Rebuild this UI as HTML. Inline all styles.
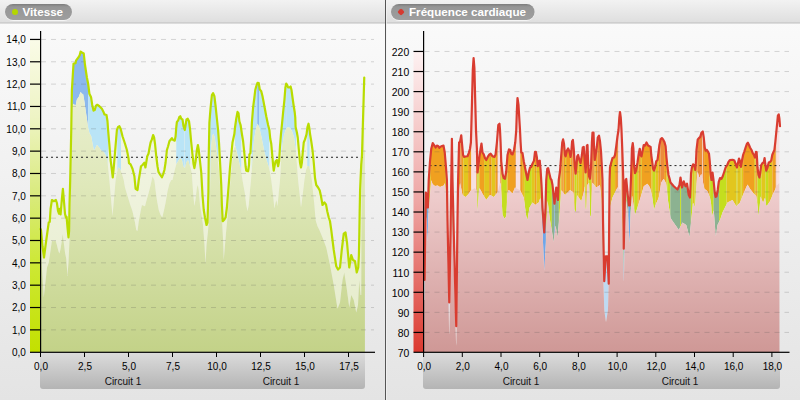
<!DOCTYPE html>
<html><head><meta charset="utf-8"><title>chart</title>
<style>html,body{margin:0;padding:0;background:#e8e8e8;}body{width:800px;height:400px;overflow:hidden;position:relative;font-family:"Liberation Sans",sans-serif;}</style>
</head><body>
<svg width="800" height="400" viewBox="0 0 800 400" style="position:absolute;left:0;top:0">
<defs>
<linearGradient id="bg" x1="0" y1="0" x2="0" y2="1"><stop offset="0" stop-color="#fbfbfb"/><stop offset="1" stop-color="#e4e4e4"/></linearGradient>
<linearGradient id="hdr" x1="0" y1="0" x2="0" y2="1"><stop offset="0" stop-color="#f2f2f2"/><stop offset="1" stop-color="#dedede"/></linearGradient>
<linearGradient id="pill" x1="0" y1="0" x2="0" y2="1"><stop offset="0" stop-color="#7c7c7c"/><stop offset="0.18" stop-color="#969696"/><stop offset="1" stop-color="#9e9e9e"/></linearGradient>
<linearGradient id="lenv" gradientUnits="userSpaceOnUse" x1="0" y1="50" x2="0" y2="352"><stop offset="0" stop-color="#eef2d9"/><stop offset="0.45" stop-color="#dfe8ba"/><stop offset="1" stop-color="#c3d288"/></linearGradient>
<linearGradient id="lbetween" gradientUnits="userSpaceOnUse" x1="0" y1="50" x2="0" y2="352"><stop offset="0" stop-color="#f6f8ea"/><stop offset="0.5" stop-color="#eef2dc"/><stop offset="1" stop-color="#e4ebc8"/></linearGradient>
<linearGradient id="lband" gradientUnits="userSpaceOnUse" x1="0" y1="39" x2="0" y2="352"><stop offset="0" stop-color="#fafbe8"/><stop offset="0.25" stop-color="#eef4c4"/><stop offset="0.5" stop-color="#d9ea7c"/><stop offset="0.72" stop-color="#cde834"/><stop offset="1" stop-color="#c3e000"/></linearGradient>
<linearGradient id="renv" gradientUnits="userSpaceOnUse" x1="0" y1="100" x2="0" y2="352"><stop offset="0" stop-color="#f7e3e3"/><stop offset="0.4" stop-color="#edcaca"/><stop offset="1" stop-color="#cf9896"/></linearGradient>
<linearGradient id="rbetween" gradientUnits="userSpaceOnUse" x1="0" y1="50" x2="0" y2="352"><stop offset="0" stop-color="#fbeeee"/><stop offset="1" stop-color="#f0dada"/></linearGradient>
<linearGradient id="rband" gradientUnits="userSpaceOnUse" x1="0" y1="52" x2="0" y2="352"><stop offset="0" stop-color="#fdf1f1"/><stop offset="0.5" stop-color="#eea6a4"/><stop offset="1" stop-color="#dc3a30"/></linearGradient>
<linearGradient id="cbar" x1="0" y1="0" x2="0" y2="1"><stop offset="0" stop-color="#dcdcdc"/><stop offset="1" stop-color="#b4b4b4"/></linearGradient>
</defs>
<rect x="0" y="0" width="800" height="400" fill="url(#bg)"/>
<rect x="0" y="0" width="800" height="23" fill="url(#hdr)"/>
<rect x="0" y="22.5" width="800" height="1" fill="#bdbdbd"/>
<rect x="385" y="0" width="1" height="400" fill="#555"/>
<rect x="386" y="0" width="1" height="400" fill="#f4f4f4" opacity="0.7"/>
<rect x="5" y="4.8" width="67" height="16" rx="8" fill="#fbfbfb"/>
<rect x="5" y="4" width="67" height="16" rx="8" fill="url(#pill)"/>
<circle cx="15" cy="12" r="3" fill="#b4d600"/>
<text x="22.5" y="16" textLength="40.6" lengthAdjust="spacingAndGlyphs" font-family="Liberation Sans, sans-serif" font-weight="bold" font-size="11.5" fill="#fff">Vitesse</text>
<rect x="391" y="4.8" width="143.6" height="16" rx="8" fill="#fbfbfb"/>
<rect x="391" y="4" width="143.6" height="16" rx="8" fill="url(#pill)"/>
<rect x="398.4" y="9.4" width="5.2" height="5.2" rx="1.3" transform="rotate(45 401 12)" fill="#d63a30"/>
<text x="409" y="16" textLength="117" lengthAdjust="spacingAndGlyphs" font-family="Liberation Sans, sans-serif" font-weight="bold" font-size="11.5" fill="#fff">Fréquence cardiaque</text>
<rect x="30" y="39" width="10.5" height="313" fill="url(#lband)"/>
<path d="M40.50,229.00 L40.75,229.50 L41.00,230.00 L41.25,232.71 L41.50,235.42 L41.75,238.12 L42.00,240.83 L42.25,243.54 L42.50,246.25 L42.75,248.12 L43.00,250.00 L43.25,251.88 L43.50,253.75 L43.75,255.62 L44.00,257.50 L44.25,255.55 L44.50,253.59 L44.75,251.64 L45.00,249.69 L45.25,247.73 L45.50,245.78 L45.75,243.91 L46.00,242.11 L46.25,240.30 L46.50,238.49 L46.75,236.68 L47.00,234.87 L47.25,233.06 L47.50,231.25 L47.75,229.50 L48.00,227.75 L48.25,226.00 L48.50,224.25 L48.75,222.50 L49.00,222.35 L49.25,222.20 L49.50,222.05 L49.75,221.90 L50.00,218.03 L50.25,214.16 L50.50,210.30 L50.75,207.74 L51.00,206.06 L51.25,204.38 L51.50,202.69 L51.75,201.01 L52.00,200.07 L52.25,200.24 L52.50,200.41 L52.75,200.57 L53.00,200.74 L53.25,200.91 L53.50,201.08 L53.75,201.25 L54.00,201.10 L54.25,200.96 L54.50,200.81 L54.75,200.67 L55.00,200.52 L55.25,200.38 L55.50,200.23 L55.75,200.09 L56.00,200.30 L56.25,201.05 L56.50,201.80 L56.75,202.55 L57.00,203.69 L57.25,205.41 L57.50,207.12 L57.75,208.84 L58.00,210.56 L58.25,211.67 L58.50,212.36 L58.75,213.06 L59.00,213.75 L59.25,212.08 L59.50,210.42 L59.75,208.75 L60.00,210.41 L60.25,212.07 L60.50,213.74 L60.75,212.59 L61.00,209.58 L61.25,206.57 L61.50,203.57 L61.75,200.56 L62.00,197.75 L62.25,195.25 L62.50,192.75 L62.75,190.25 L63.00,189.93 L63.25,192.87 L63.50,195.81 L63.75,198.75 L64.00,201.75 L64.25,204.75 L64.50,207.75 L64.75,210.75 L65.00,213.75 L65.25,214.79 L65.50,215.83 L65.75,216.87 L66.00,217.41 L66.25,217.20 L66.50,216.99 L66.75,218.67 L67.00,221.61 L67.25,224.56 L67.50,227.50 L67.75,230.00 L68.00,232.50 L68.25,235.00 L68.50,237.50 L68.75,234.79 L69.00,232.08 L69.25,221.25 L69.50,205.00 L69.75,196.07 L70.00,187.14 L70.25,177.62 L70.50,165.71 L70.75,153.81 L71.00,141.90 L71.25,130.00 L71.50,114.62 L71.50,140.00 L71.25,155.00 L71.00,170.00 L70.75,185.00 L70.50,200.00 L70.25,210.00 L70.00,220.00 L69.75,230.00 L69.50,240.00 L69.25,245.50 L69.00,251.00 L68.75,256.50 L68.50,262.00 L68.25,265.50 L68.00,269.00 L67.75,272.50 L67.50,276.00 L67.25,272.55 L67.00,269.10 L66.75,265.65 L66.50,262.20 L66.25,258.75 L66.00,257.50 L65.75,256.25 L65.50,255.00 L65.25,253.75 L65.00,252.50 L64.75,250.50 L64.50,248.50 L64.25,246.50 L64.00,244.50 L63.75,242.50 L63.50,240.38 L63.25,238.25 L63.00,236.12 L62.75,234.00 L62.50,235.76 L62.25,237.53 L62.00,239.29 L61.75,241.01 L61.50,242.69 L61.25,244.38 L61.00,246.06 L60.75,247.74 L60.50,249.17 L60.25,250.21 L60.00,251.25 L59.75,252.29 L59.50,253.33 L59.25,253.32 L59.00,252.60 L58.75,251.88 L58.50,251.15 L58.25,250.43 L58.00,249.58 L57.75,248.54 L57.50,247.50 L57.25,246.46 L57.00,245.42 L56.75,244.49 L56.50,243.65 L56.25,242.80 L56.00,241.95 L55.75,241.11 L55.50,240.64 L55.25,240.72 L55.00,240.81 L54.75,240.90 L54.50,240.99 L54.25,241.07 L54.00,241.16 L53.75,241.25 L53.50,241.16 L53.25,241.07 L53.00,240.99 L52.75,240.90 L52.50,240.81 L52.25,240.72 L52.00,240.64 L51.75,241.68 L51.50,243.49 L51.25,245.30 L51.00,247.11 L50.75,248.92 L50.50,250.68 L50.25,252.36 L50.00,254.05 L49.75,255.74 L49.50,257.43 L49.25,259.12 L49.00,260.81 L48.75,262.50 L48.50,263.21 L48.25,263.93 L48.00,264.64 L47.75,265.36 L47.50,266.07 L47.25,266.79 L47.00,267.50 L46.75,269.81 L46.50,272.12 L46.25,274.42 L46.00,276.73 L45.75,279.04 L45.50,281.35 L45.25,283.65 L45.00,285.96 L44.75,288.27 L44.50,290.58 L44.25,292.88 L44.00,295.19 L43.75,297.50 L43.50,293.25 L43.25,289.00 L43.00,284.75 L42.75,280.50 L42.50,276.25 L42.25,272.00 L42.00,267.75 L41.75,263.50 L41.50,259.25 L41.25,255.00 L41.00,253.33 L40.75,251.67 L40.50,250.00Z" fill="url(#lbetween)"/>
<path d="M71.50,114.62 L71.75,99.23 L72.00,88.36 L72.25,84.26 L72.50,80.16 L72.50,108.00 L72.25,116.00 L72.00,124.00 L71.75,132.00 L71.50,140.00Z" fill="#b9e4f6"/>
<path d="M72.50,80.16 L72.75,76.05 L73.00,71.95 L73.25,67.85 L73.50,63.75 L73.75,63.67 L74.00,63.60 L74.25,63.52 L74.50,63.44 L74.75,63.36 L75.00,63.29 L75.25,63.21 L75.50,63.13 L75.75,62.16 L76.00,60.60 L76.25,60.26 L76.50,59.93 L76.75,59.59 L77.00,59.25 L77.25,58.92 L77.50,58.58 L77.75,58.25 L78.00,57.91 L78.25,57.57 L78.50,57.24 L78.75,56.90 L79.00,56.42 L79.25,55.95 L79.50,55.48 L79.75,55.00 L80.00,54.00 L80.25,53.00 L80.50,52.00 L80.75,51.70 L81.00,51.88 L81.25,52.05 L81.50,52.22 L81.75,52.40 L82.00,52.55 L82.25,52.69 L82.50,52.82 L82.75,52.96 L83.00,53.09 L83.25,53.23 L83.50,53.36 L83.75,53.50 L84.00,55.80 L84.25,58.10 L84.50,60.40 L84.75,62.70 L85.00,65.00 L85.25,66.64 L85.50,68.29 L85.75,69.93 L86.00,71.58 L86.25,73.22 L86.50,74.87 L86.75,76.51 L87.00,78.00 L87.25,79.25 L87.50,80.50 L87.75,81.75 L88.00,83.00 L88.25,84.68 L88.25,128.13 L88.00,126.77 L87.75,124.95 L87.50,123.12 L87.25,121.30 L87.00,119.48 L86.75,117.74 L86.50,116.06 L86.25,114.38 L86.00,112.69 L85.75,111.01 L85.50,109.27 L85.25,107.45 L85.00,105.62 L84.75,103.80 L84.50,101.98 L84.25,100.41 L84.00,99.02 L83.75,97.62 L83.50,96.23 L83.25,94.84 L83.00,93.98 L82.75,93.93 L82.50,93.88 L82.25,93.82 L82.00,93.77 L81.75,93.54 L81.50,93.18 L81.25,92.83 L81.00,92.47 L80.75,92.11 L80.50,92.17 L80.25,92.85 L80.00,93.52 L79.75,94.20 L79.50,94.87 L79.25,95.55 L79.00,96.22 L78.75,96.90 L78.50,97.24 L78.25,97.58 L78.00,97.91 L77.75,98.25 L77.50,98.59 L77.25,98.93 L77.00,99.26 L76.75,100.12 L76.50,101.31 L76.25,102.50 L76.00,103.69 L75.75,104.88 L75.50,105.53 L75.25,105.34 L75.00,105.16 L74.75,104.97 L74.50,104.79 L74.25,104.60 L74.00,104.42 L73.75,104.23 L73.50,104.05 L73.25,103.86 L73.00,104.46 L72.75,106.23 L72.50,108.00Z" fill="#8bb9ee"/>
<path d="M88.25,84.68 L88.50,86.65 L88.75,88.62 L89.00,90.60 L89.25,92.57 L89.50,93.95 L89.75,94.44 L90.00,94.93 L90.25,95.42 L90.50,95.92 L90.75,96.41 L91.00,96.90 L91.25,98.52 L91.50,100.14 L91.75,101.76 L92.00,103.38 L92.25,105.00 L92.50,106.12 L92.75,107.24 L93.00,108.36 L93.25,109.48 L93.50,110.60 L93.75,110.48 L94.00,110.36 L94.25,110.24 L94.50,110.12 L94.75,110.00 L95.00,109.12 L95.25,108.24 L95.50,107.36 L95.75,106.48 L96.00,105.60 L96.25,105.43 L96.50,105.26 L96.75,105.09 L97.00,104.92 L97.25,104.75 L97.50,104.92 L97.75,105.10 L98.00,105.27 L98.25,105.45 L98.50,105.62 L98.75,105.80 L99.00,105.97 L99.25,106.15 L99.50,106.35 L99.75,106.60 L100.00,106.85 L100.25,107.10 L100.50,107.35 L100.75,107.60 L101.00,107.85 L101.25,108.10 L101.50,108.35 L101.75,108.60 L102.00,108.95 L102.25,109.44 L102.50,109.93 L102.75,110.42 L103.00,110.92 L103.25,111.41 L103.50,111.90 L103.75,112.59 L104.00,113.29 L104.25,113.98 L104.50,114.43 L104.75,114.50 L105.00,114.57 L105.25,114.64 L105.50,114.71 L105.75,114.79 L106.00,114.86 L106.25,114.93 L106.50,115.00 L106.75,116.56 L107.00,118.12 L107.25,119.69 L107.50,121.25 L107.75,124.90 L108.00,128.54 L108.25,131.73 L108.25,168.94 L108.00,166.47 L107.75,163.90 L107.50,161.32 L107.25,158.75 L107.00,158.18 L106.75,157.61 L106.50,157.05 L106.25,156.48 L106.00,155.91 L105.75,155.34 L105.50,154.83 L105.25,154.41 L105.00,153.99 L104.75,153.58 L104.50,153.16 L104.25,152.74 L104.00,152.32 L103.75,151.90 L103.50,151.77 L103.25,151.64 L103.00,151.51 L102.75,151.38 L102.50,151.25 L102.25,151.12 L102.00,150.99 L101.75,150.86 L101.50,150.73 L101.25,150.60 L101.00,150.23 L100.75,149.86 L100.50,149.49 L100.25,149.12 L100.00,148.75 L99.75,148.38 L99.50,148.01 L99.25,147.64 L99.00,147.27 L98.75,146.90 L98.50,146.64 L98.25,146.39 L98.00,146.13 L97.75,145.87 L97.50,145.62 L97.25,145.36 L97.00,145.10 L96.75,145.29 L96.50,145.77 L96.25,146.25 L96.00,146.73 L95.75,147.21 L95.50,147.69 L95.25,148.18 L95.00,148.66 L94.75,149.15 L94.50,149.63 L94.25,150.12 L94.00,150.60 L93.75,149.48 L93.50,148.36 L93.25,147.24 L93.00,146.12 L92.75,145.00 L92.50,143.54 L92.25,142.08 L92.00,140.62 L91.75,139.17 L91.50,137.71 L91.25,136.25 L91.00,135.81 L90.75,135.37 L90.50,134.93 L90.25,134.49 L90.00,134.05 L89.75,133.61 L89.50,133.18 L89.25,132.37 L89.00,131.31 L88.75,130.25 L88.50,129.19 L88.25,128.13Z" fill="#b9e4f6"/>
<path d="M108.25,131.73 L108.50,134.62 L108.75,137.50 L109.00,140.38 L109.25,143.27 L109.50,146.25 L109.75,149.37 L110.00,152.50 L110.25,155.63 L110.50,158.75 L110.75,161.15 L111.00,163.08 L111.25,165.00 L111.50,166.92 L111.75,168.85 L112.00,170.88 L112.25,173.09 L112.50,175.29 L112.75,177.50 L113.00,175.00 L113.25,172.50 L113.50,170.00 L113.75,167.50 L114.00,164.50 L114.25,161.50 L114.50,158.50 L114.75,155.50 L115.00,152.50 L115.25,149.50 L115.50,146.50 L115.75,143.50 L116.00,140.50 L116.25,137.50 L116.50,134.62 L116.75,131.73 L117.00,129.74 L117.25,129.10 L117.25,171.35 L117.00,172.17 L116.75,173.37 L116.50,174.81 L116.25,176.25 L116.00,177.69 L115.75,179.13 L115.50,181.16 L115.25,184.06 L115.00,186.97 L114.75,189.87 L114.50,192.77 L114.25,195.68 L114.00,198.58 L113.75,201.48 L113.50,204.39 L113.25,207.29 L113.00,210.19 L112.75,213.10 L112.50,216.00 L112.25,213.10 L112.00,210.19 L111.75,207.29 L111.50,204.39 L111.25,201.48 L111.00,198.58 L110.75,195.68 L110.50,192.77 L110.25,189.87 L110.00,186.97 L109.75,184.06 L109.50,181.16 L109.25,178.56 L109.00,176.15 L108.75,173.75 L108.50,171.35 L108.25,168.94Z" fill="url(#lbetween)"/>
<path d="M117.25,129.10 L117.50,128.45 L117.75,127.80 L118.00,127.16 L118.25,126.83 L118.50,126.70 L118.75,126.58 L119.00,126.45 L119.25,126.33 L119.50,126.46 L119.75,126.98 L120.00,127.50 L120.25,128.02 L120.50,128.54 L120.75,129.31 L121.00,130.25 L121.00,171.38 L120.75,170.72 L120.50,170.07 L120.25,169.41 L120.00,168.75 L119.75,168.50 L119.50,168.25 L119.25,168.00 L119.00,167.75 L118.75,167.50 L118.50,167.25 L118.25,168.07 L118.00,168.89 L117.75,169.71 L117.50,170.53 L117.25,171.35Z" fill="#b9e4f6"/>
<path d="M121.00,130.25 L121.25,131.20 L121.50,132.21 L121.75,133.22 L122.00,134.23 L122.25,135.24 L122.50,136.25 L122.75,137.00 L123.00,137.75 L123.25,138.50 L123.50,139.25 L123.75,140.00 L124.00,140.75 L124.25,141.50 L124.50,142.25 L124.75,143.00 L125.00,143.75 L125.25,144.57 L125.50,145.39 L125.75,146.22 L126.00,147.04 L126.25,147.86 L126.50,148.68 L126.75,149.51 L127.00,150.51 L127.25,151.77 L127.50,153.04 L127.75,154.30 L128.00,155.57 L128.25,156.83 L128.50,158.10 L128.75,160.60 L129.00,163.10 L129.25,163.30 L129.50,163.51 L129.75,163.71 L130.00,163.91 L130.25,164.12 L130.50,164.32 L130.75,164.74 L131.00,165.32 L131.25,165.89 L131.50,166.46 L131.75,167.03 L132.00,167.61 L132.25,168.18 L132.50,168.75 L132.75,169.74 L133.00,170.72 L133.25,171.71 L133.50,172.70 L133.75,173.68 L134.00,174.67 L134.25,175.66 L134.50,177.29 L134.75,179.90 L135.00,182.50 L135.25,185.10 L135.50,187.71 L135.75,188.85 L136.00,189.01 L136.25,189.18 L136.50,189.34 L136.75,189.51 L137.00,189.67 L137.25,189.84 L137.50,190.00 L137.75,188.00 L138.00,186.00 L138.25,184.00 L138.50,182.00 L138.75,180.00 L139.00,178.50 L139.25,177.00 L139.50,175.50 L139.75,174.00 L140.00,172.50 L140.25,170.94 L140.50,169.38 L140.75,167.81 L141.00,166.25 L141.25,166.04 L141.50,165.83 L141.75,165.62 L142.00,165.42 L142.25,165.21 L142.50,165.00 L142.75,164.70 L143.00,164.41 L143.25,164.11 L143.50,163.82 L143.75,163.52 L144.00,163.22 L144.25,162.93 L144.50,163.22 L144.75,164.41 L145.00,165.60 L145.25,166.79 L145.50,166.91 L145.75,165.44 L146.00,163.97 L146.25,162.50 L146.50,160.94 L146.75,159.38 L147.00,157.81 L147.25,156.25 L147.50,155.75 L147.75,155.25 L148.00,154.75 L148.25,154.25 L148.50,153.75 L148.75,152.33 L149.00,150.91 L149.25,149.49 L149.50,148.07 L149.75,146.75 L150.00,145.50 L150.25,144.25 L150.50,143.00 L150.75,142.14 L151.00,141.55 L151.25,140.95 L151.50,140.35 L151.75,139.76 L152.00,139.03 L152.25,138.12 L152.50,137.20 L152.75,136.28 L153.00,135.37 L153.25,135.38 L153.50,136.00 L153.75,136.62 L154.00,137.25 L154.25,138.54 L154.50,140.28 L154.75,142.01 L155.00,143.75 L155.25,146.25 L155.50,148.75 L155.75,151.25 L156.00,153.75 L156.25,156.25 L156.50,158.25 L156.75,160.25 L157.00,162.25 L157.25,164.25 L157.50,166.25 L157.75,167.66 L158.00,169.07 L158.25,170.49 L158.50,171.90 L158.75,172.32 L159.00,172.73 L159.25,173.15 L159.50,173.57 L159.75,173.98 L160.00,174.40 L160.25,174.78 L160.50,175.15 L160.75,175.53 L161.00,175.90 L161.25,176.28 L161.50,176.65 L161.75,177.03 L162.00,177.01 L162.25,176.42 L162.50,175.82 L162.75,175.23 L163.00,174.64 L163.25,173.89 L163.50,173.05 L163.75,172.20 L164.00,171.35 L164.25,170.51 L164.50,169.38 L164.75,167.81 L165.00,166.25 L165.25,164.69 L165.50,163.12 L165.75,161.06 L166.00,158.65 L166.25,156.25 L166.50,153.85 L166.75,151.44 L167.00,149.69 L167.25,148.91 L167.50,148.12 L167.75,147.34 L168.00,146.56 L168.25,145.67 L168.50,144.71 L168.75,143.75 L169.00,142.79 L169.25,141.83 L169.50,141.12 L169.75,140.81 L170.00,140.50 L170.25,140.19 L170.50,139.88 L170.75,139.56 L171.00,139.24 L171.25,138.93 L171.50,138.61 L171.75,138.29 L172.00,138.26 L172.25,138.65 L172.50,139.05 L172.75,139.45 L173.00,139.84 L173.25,140.05 L173.50,140.15 L173.75,140.24 L174.00,140.33 L174.25,140.42 L174.50,140.51 L174.75,140.60 L175.00,139.32 L175.25,138.04 L175.50,136.76 L175.75,134.23 L176.00,130.87 L176.25,127.50 L176.25,164.40 L176.00,165.33 L175.75,166.25 L175.50,167.18 L175.25,168.10 L175.00,169.03 L174.75,169.95 L174.50,170.88 L174.25,171.94 L174.00,173.09 L173.75,174.24 L173.50,175.39 L173.25,176.55 L173.00,177.70 L172.75,178.85 L172.50,180.00 L172.25,180.00 L172.00,180.00 L171.75,180.00 L171.50,180.00 L171.25,180.00 L171.00,180.51 L170.75,181.01 L170.50,181.52 L170.25,182.03 L170.00,182.53 L169.75,183.04 L169.50,183.55 L169.25,184.34 L169.00,185.33 L168.75,186.32 L168.50,187.30 L168.25,188.29 L168.00,189.28 L167.75,190.26 L167.50,191.25 L167.25,192.73 L167.00,194.21 L166.75,195.69 L166.50,197.17 L166.25,198.65 L166.00,200.13 L165.75,201.61 L165.50,202.97 L165.25,204.16 L165.00,205.34 L164.75,206.52 L164.50,207.70 L164.25,208.89 L164.00,210.07 L163.75,211.25 L163.50,212.29 L163.25,213.33 L163.00,214.38 L162.75,215.42 L162.50,216.46 L162.25,217.50 L162.00,217.12 L161.75,216.74 L161.50,216.36 L161.25,215.98 L161.00,215.61 L160.75,215.23 L160.50,214.73 L160.25,214.05 L160.00,213.38 L159.75,212.70 L159.50,212.03 L159.25,211.35 L159.00,210.68 L158.75,210.00 L158.50,208.65 L158.25,207.30 L158.00,205.95 L157.75,204.59 L157.50,203.24 L157.25,201.89 L157.00,200.54 L156.75,198.85 L156.50,196.92 L156.25,195.00 L156.00,193.08 L155.75,191.15 L155.50,189.17 L155.25,187.08 L155.00,185.00 L154.75,182.92 L154.50,180.83 L154.25,179.70 L154.00,179.21 L153.75,178.72 L153.50,178.22 L153.25,177.73 L153.00,177.24 L152.75,176.74 L152.50,176.25 L152.25,177.40 L152.00,178.55 L151.75,179.70 L151.50,180.86 L151.25,182.01 L151.00,183.16 L150.75,184.31 L150.50,185.41 L150.25,186.42 L150.00,187.43 L149.75,188.45 L149.50,189.46 L149.25,190.47 L149.00,191.49 L148.75,192.50 L148.50,193.38 L148.25,194.25 L148.00,195.12 L147.75,196.00 L147.50,196.88 L147.25,197.75 L147.00,198.62 L146.75,199.50 L146.50,200.38 L146.25,201.25 L146.00,202.25 L145.75,203.25 L145.50,204.25 L145.25,205.25 L145.00,206.25 L144.75,206.15 L144.50,206.05 L144.25,205.95 L144.00,205.85 L143.75,205.75 L143.50,205.65 L143.25,205.54 L143.00,205.44 L142.75,205.34 L142.50,205.24 L142.25,205.14 L142.00,205.04 L141.75,205.72 L141.50,206.92 L141.25,208.12 L141.00,209.33 L140.75,210.53 L140.50,211.79 L140.25,213.14 L140.00,214.49 L139.75,215.84 L139.50,217.20 L139.25,218.55 L139.00,219.90 L138.75,221.25 L138.50,223.20 L138.25,225.15 L138.00,227.10 L137.75,229.05 L137.50,231.00 L137.25,230.80 L137.00,230.60 L136.75,230.40 L136.50,230.20 L136.25,230.00 L136.00,228.50 L135.75,227.00 L135.50,225.50 L135.25,224.00 L135.00,222.50 L134.75,221.38 L134.50,220.25 L134.25,219.12 L134.00,218.00 L133.75,216.88 L133.50,215.75 L133.25,214.62 L133.00,213.50 L132.75,212.38 L132.50,211.25 L132.25,210.53 L132.00,209.80 L131.75,209.07 L131.50,208.35 L131.25,207.62 L131.00,206.90 L130.75,206.18 L130.50,205.45 L130.25,204.72 L130.00,204.00 L129.75,203.18 L129.50,202.35 L129.25,201.53 L129.00,200.70 L128.75,199.88 L128.50,199.05 L128.25,198.22 L128.00,197.40 L127.75,196.57 L127.50,195.75 L127.25,194.93 L127.00,194.10 L126.75,193.28 L126.50,192.45 L126.25,191.62 L126.00,190.80 L125.75,189.97 L125.50,189.15 L125.25,188.32 L125.00,187.50 L124.75,186.00 L124.50,184.50 L124.25,183.00 L124.00,181.50 L123.75,180.00 L123.50,179.16 L123.25,178.31 L123.00,177.47 L122.75,176.62 L122.50,175.78 L122.25,174.93 L122.00,174.09 L121.75,173.36 L121.50,172.70 L121.25,172.04 L121.00,171.38Z" fill="url(#lbetween)"/>
<path d="M176.25,127.50 L176.50,125.35 L176.75,123.19 L177.00,121.79 L177.25,121.52 L177.50,121.25 L177.75,120.98 L178.00,120.71 L178.25,120.17 L178.50,119.46 L178.75,118.75 L179.00,118.04 L179.25,117.33 L179.50,116.82 L179.75,116.63 L180.00,116.44 L180.25,116.25 L180.50,116.88 L180.75,117.50 L181.00,118.12 L181.25,118.75 L181.50,118.88 L181.75,119.01 L182.00,119.14 L182.25,119.27 L182.50,119.40 L182.75,121.11 L183.00,122.83 L183.25,124.54 L183.50,126.25 L183.75,127.00 L184.00,127.75 L184.25,128.50 L184.50,129.25 L184.75,130.00 L184.75,167.90 L184.50,167.70 L184.25,167.50 L184.00,167.30 L183.75,167.10 L183.50,166.90 L183.25,165.82 L183.00,164.74 L182.75,163.67 L182.50,162.59 L182.25,161.51 L182.00,160.43 L181.75,159.85 L181.50,159.60 L181.25,159.35 L181.00,159.10 L180.75,158.85 L180.50,158.60 L180.25,158.35 L180.00,158.10 L179.75,158.51 L179.50,158.93 L179.25,159.34 L179.00,159.76 L178.75,160.17 L178.50,160.59 L178.25,161.00 L178.00,161.42 L177.75,161.85 L177.50,162.27 L177.25,162.70 L177.00,163.12 L176.75,163.55 L176.50,163.97 L176.25,164.40Z" fill="#b9e4f6"/>
<path d="M184.75,130.00 L185.00,128.53 L185.00,168.10 L184.75,167.90Z" fill="url(#lbetween)"/>
<path d="M185.00,128.53 L185.25,127.06 L185.50,125.59 L185.75,124.07 L186.00,122.51 L186.25,120.96 L186.50,119.40 L186.75,119.27 L187.00,119.14 L187.25,119.01 L187.50,118.88 L187.75,118.75 L188.00,119.25 L188.25,119.75 L188.50,120.25 L188.75,120.75 L189.00,121.25 L189.25,123.12 L189.50,125.00 L189.75,126.88 L190.00,128.75 L190.25,131.56 L190.25,166.60 L190.00,165.95 L189.75,165.30 L189.50,164.66 L189.25,163.89 L189.00,163.05 L188.75,162.20 L188.50,161.35 L188.25,160.51 L188.00,160.14 L187.75,160.47 L187.50,160.81 L187.25,161.15 L187.00,161.49 L186.75,161.82 L186.50,162.16 L186.25,162.50 L186.00,163.62 L185.75,164.74 L185.50,165.86 L185.25,166.98 L185.00,168.10Z" fill="#b9e4f6"/>
<path d="M190.25,131.56 L190.50,134.38 L190.75,137.19 L191.00,140.00 L191.25,142.50 L191.50,145.00 L191.75,147.50 L192.00,150.00 L192.25,152.50 L192.50,154.75 L192.75,157.00 L193.00,159.25 L193.25,161.50 L193.50,163.75 L193.75,164.96 L194.00,166.17 L194.25,167.37 L194.50,167.53 L194.75,166.10 L195.00,164.68 L195.25,163.25 L195.50,161.82 L195.75,159.95 L196.00,157.79 L196.25,155.62 L196.50,153.46 L196.75,151.30 L197.00,149.50 L197.25,148.25 L197.50,147.00 L197.75,145.75 L198.00,145.59 L198.25,147.06 L198.50,148.53 L198.75,150.00 L199.00,152.25 L199.25,154.50 L199.50,156.75 L199.75,159.00 L200.00,161.25 L200.25,163.50 L200.50,165.75 L200.75,168.00 L201.00,170.25 L201.25,172.50 L201.50,177.00 L201.75,181.50 L202.00,186.00 L202.25,190.50 L202.50,195.00 L202.75,198.00 L203.00,201.00 L203.25,204.00 L203.50,207.00 L203.75,210.00 L204.00,211.50 L204.25,213.00 L204.50,214.50 L204.75,216.00 L205.00,217.50 L205.25,218.75 L205.50,220.00 L205.75,221.25 L206.00,222.50 L206.25,223.75 L206.50,225.00 L206.75,224.38 L207.00,223.75 L207.25,223.12 L207.50,222.50 L207.75,214.17 L208.00,205.83 L208.25,197.50 L208.50,181.79 L208.75,155.00 L209.00,142.50 L209.25,130.00 L209.50,121.25 L209.50,205.00 L209.25,211.25 L209.00,217.50 L208.75,220.97 L208.50,224.44 L208.25,227.92 L208.00,230.94 L207.75,233.28 L207.50,235.62 L207.25,237.97 L207.00,240.31 L206.75,242.66 L206.50,245.00 L206.25,249.69 L206.00,254.38 L205.75,259.06 L205.50,263.75 L205.25,259.06 L205.00,254.38 L204.75,249.69 L204.50,245.00 L204.25,241.67 L204.00,238.33 L203.75,235.00 L203.50,231.67 L203.25,228.33 L203.00,225.00 L202.75,223.21 L202.50,221.43 L202.25,219.64 L202.00,217.86 L201.75,216.07 L201.50,214.29 L201.25,212.50 L201.00,211.00 L200.75,209.50 L200.50,208.00 L200.25,206.50 L200.00,205.00 L199.75,202.00 L199.50,199.00 L199.25,196.00 L199.00,193.00 L198.75,190.00 L198.50,188.75 L198.25,187.50 L198.00,186.25 L197.75,185.00 L197.50,185.74 L197.25,186.47 L197.00,187.21 L196.75,188.80 L196.50,190.96 L196.25,193.12 L196.00,195.29 L195.75,197.45 L195.50,199.37 L195.25,200.94 L195.00,202.50 L194.75,204.06 L194.50,205.63 L194.25,204.66 L194.00,202.02 L193.75,199.38 L193.50,196.73 L193.25,194.09 L193.00,190.94 L192.75,187.03 L192.50,183.12 L192.25,179.22 L192.00,175.31 L191.75,173.03 L191.50,171.83 L191.25,170.62 L191.00,169.42 L190.75,168.22 L190.50,167.24 L190.25,166.60Z" fill="url(#lbetween)"/>
<path d="M209.50,121.25 L209.75,118.13 L210.00,115.00 L210.25,111.87 L210.50,108.75 L210.75,106.06 L211.00,103.65 L211.25,101.25 L211.50,98.85 L211.75,96.44 L212.00,94.84 L212.25,94.45 L212.50,94.05 L212.75,93.65 L213.00,93.26 L213.25,93.46 L213.50,94.07 L213.75,94.67 L214.00,95.28 L214.25,95.89 L214.50,97.08 L214.75,99.17 L215.00,101.25 L215.25,103.33 L215.50,105.42 L215.75,107.69 L216.00,110.10 L216.25,112.50 L216.50,114.90 L216.75,117.31 L217.00,119.69 L217.25,122.03 L217.50,124.38 L217.75,126.72 L218.00,129.06 L218.25,132.08 L218.25,164.38 L218.00,162.08 L217.75,159.79 L217.50,157.50 L217.25,155.62 L217.00,153.75 L216.75,151.88 L216.50,150.00 L216.25,148.12 L216.00,146.25 L215.75,144.50 L215.50,142.75 L215.25,141.00 L215.00,139.25 L214.75,137.50 L214.50,136.75 L214.25,136.00 L214.00,135.25 L213.75,134.50 L213.50,133.75 L213.25,134.06 L213.00,134.38 L212.75,134.69 L212.50,135.00 L212.25,137.00 L212.00,139.00 L211.75,141.00 L211.50,143.00 L211.25,145.00 L211.00,151.25 L210.75,157.50 L210.50,166.46 L210.25,179.48 L210.00,192.50 L209.75,198.75 L209.50,205.00Z" fill="#b9e4f6"/>
<path d="M218.25,132.08 L218.50,135.56 L218.75,139.03 L219.00,142.50 L219.25,147.19 L219.50,151.88 L219.75,156.56 L220.00,161.25 L220.25,166.00 L220.50,170.75 L220.75,175.50 L221.00,180.25 L221.25,185.00 L221.50,192.69 L221.75,200.38 L222.00,206.91 L222.25,211.69 L222.50,216.47 L222.75,221.25 L223.00,220.97 L223.25,220.69 L223.50,220.41 L223.75,220.13 L224.00,219.85 L224.25,219.57 L224.50,219.24 L224.75,218.85 L225.00,218.45 L225.25,218.05 L225.50,217.66 L225.75,216.35 L226.00,214.42 L226.25,212.50 L226.50,210.58 L226.75,208.65 L227.00,206.25 L227.25,203.13 L227.50,200.00 L227.75,196.87 L228.00,193.75 L228.25,190.62 L228.50,187.50 L228.75,184.37 L229.00,181.25 L229.25,177.92 L229.50,174.44 L229.75,170.97 L230.00,167.50 L230.25,165.00 L230.50,162.50 L230.75,160.00 L231.00,157.50 L231.25,155.00 L231.50,152.50 L231.75,150.00 L232.00,147.50 L232.25,145.00 L232.50,142.50 L232.75,141.35 L233.00,140.20 L233.25,139.05 L233.50,137.89 L233.75,136.74 L234.00,135.59 L234.25,134.44 L234.50,132.71 L234.75,130.10 L235.00,127.50 L235.00,146.67 L234.75,147.00 L234.50,147.33 L234.25,147.67 L234.00,148.00 L233.75,149.67 L233.50,151.33 L233.25,153.00 L233.00,154.67 L232.75,156.33 L232.50,158.00 L232.25,160.80 L232.00,163.60 L231.75,166.40 L231.50,169.20 L231.25,172.00 L231.00,174.85 L230.75,177.70 L230.50,180.55 L230.25,183.40 L230.00,186.25 L229.75,188.75 L229.50,191.25 L229.25,193.75 L229.00,196.25 L228.75,198.75 L228.50,202.50 L228.25,206.25 L228.00,210.00 L227.75,213.75 L227.50,217.50 L227.25,220.00 L227.00,222.50 L226.75,225.00 L226.50,227.50 L226.25,230.00 L226.00,233.00 L225.75,236.00 L225.50,239.00 L225.25,242.00 L225.00,245.00 L224.75,248.00 L224.50,251.00 L224.25,254.00 L224.00,257.00 L223.75,260.00 L223.50,252.31 L223.25,244.62 L223.00,238.13 L222.75,233.44 L222.50,228.75 L222.25,224.06 L222.00,219.37 L221.75,214.62 L221.50,209.81 L221.25,205.00 L221.00,200.19 L220.75,195.38 L220.50,191.25 L220.25,188.13 L220.00,185.00 L219.75,181.56 L219.50,178.12 L219.25,174.69 L219.00,171.25 L218.75,168.96 L218.50,166.67 L218.25,164.38Z" fill="url(#lbetween)"/>
<path d="M235.00,127.50 L235.25,125.75 L235.50,124.00 L235.75,122.25 L236.00,120.50 L236.25,118.75 L236.50,117.38 L236.75,116.01 L237.00,114.64 L237.25,113.27 L237.50,111.90 L237.75,112.20 L238.00,112.50 L238.25,112.80 L238.50,113.10 L238.75,115.36 L239.00,117.63 L239.25,119.89 L239.50,121.56 L239.75,122.34 L240.00,123.12 L240.25,123.91 L240.50,124.69 L240.75,126.04 L241.00,127.77 L241.25,129.50 L241.50,131.23 L241.50,173.33 L241.25,171.67 L241.00,170.00 L240.75,169.00 L240.50,168.00 L240.25,167.00 L240.00,166.00 L239.75,164.90 L239.50,163.80 L239.25,162.70 L239.00,161.60 L238.75,160.50 L238.50,159.40 L238.25,158.30 L238.00,157.20 L237.75,156.10 L237.50,155.00 L237.25,153.88 L237.00,152.75 L236.75,151.62 L236.50,150.50 L236.25,149.38 L236.00,148.25 L235.75,147.12 L235.50,146.00 L235.25,146.33 L235.00,146.67Z" fill="#b9e4f6"/>
<path d="M241.50,131.23 L241.75,132.96 L242.00,134.60 L242.25,136.11 L242.50,137.62 L242.75,139.14 L243.00,140.65 L243.25,142.69 L243.50,145.10 L243.75,147.50 L244.00,149.90 L244.25,152.31 L244.50,154.79 L244.75,157.40 L245.00,160.00 L245.25,162.60 L245.50,165.21 L245.75,167.25 L246.00,168.93 L246.25,170.60 L246.50,170.69 L246.75,170.78 L247.00,170.86 L247.25,170.95 L247.50,171.04 L247.75,171.13 L248.00,171.21 L248.25,170.21 L248.50,168.47 L248.75,166.74 L249.00,165.00 L249.25,158.38 L249.50,154.27 L249.75,153.95 L250.00,153.62 L250.25,153.30 L250.50,151.32 L250.75,146.88 L251.00,142.44 L251.25,138.00 L251.50,132.04 L251.75,126.08 L251.75,170.00 L251.50,173.33 L251.25,176.67 L251.00,180.00 L250.75,182.50 L250.50,185.00 L250.25,187.50 L250.00,190.00 L249.75,193.00 L249.50,196.00 L249.25,199.00 L249.00,202.00 L248.75,205.00 L248.50,206.25 L248.25,207.50 L248.00,208.75 L247.75,210.00 L247.50,211.25 L247.25,210.00 L247.00,208.75 L246.75,207.50 L246.50,206.25 L246.25,205.00 L246.00,202.92 L245.75,200.83 L245.50,198.75 L245.25,196.67 L245.00,194.58 L244.75,192.50 L244.50,191.11 L244.25,189.72 L244.00,188.33 L243.75,186.94 L243.50,185.56 L243.25,184.17 L243.00,182.78 L242.75,181.39 L242.50,180.00 L242.25,178.33 L242.00,176.67 L241.75,175.00 L241.50,173.33Z" fill="url(#lbetween)"/>
<path d="M251.75,126.08 L252.00,121.25 L252.25,118.13 L252.50,115.00 L252.75,111.87 L253.00,108.75 L253.25,106.35 L253.50,104.42 L253.75,102.50 L254.00,100.58 L254.25,98.65 L254.50,96.62 L254.75,94.41 L255.00,92.21 L255.25,90.00 L255.50,89.06 L255.75,88.12 L256.00,87.19 L256.25,86.25 L256.50,85.55 L256.75,84.85 L257.00,84.15 L257.25,83.45 L257.25,124.96 L257.00,125.57 L256.75,126.18 L256.50,126.79 L256.25,127.39 L256.00,128.00 L255.75,129.50 L255.50,131.00 L255.25,132.50 L255.00,134.00 L254.75,135.50 L254.50,137.00 L254.25,138.50 L254.00,140.00 L253.75,143.33 L253.50,146.67 L253.25,150.00 L253.00,153.33 L252.75,156.67 L252.50,160.00 L252.25,163.33 L252.00,166.67 L251.75,170.00Z" fill="#b9e4f6"/>
<path d="M257.25,83.45 L257.50,82.75 L257.75,82.82 L258.00,82.89 L258.25,82.96 L258.50,83.03 L258.75,83.10 L259.00,84.67 L259.00,126.79 L258.75,126.18 L258.50,125.57 L258.25,124.96 L258.00,124.36 L257.75,123.75 L257.50,124.36 L257.25,124.96Z" fill="#8bb9ee"/>
<path d="M259.00,84.67 L259.25,86.25 L259.50,87.83 L259.75,89.40 L260.00,89.71 L260.25,90.02 L260.50,90.33 L260.75,90.63 L261.00,90.94 L261.25,91.25 L261.50,92.25 L261.75,93.25 L262.00,94.25 L262.25,95.25 L262.50,96.25 L262.75,97.57 L263.00,98.88 L263.25,100.20 L263.50,101.51 L263.75,102.83 L264.00,104.14 L264.25,105.46 L264.50,106.79 L264.75,108.14 L265.00,109.49 L265.25,110.84 L265.50,112.20 L265.75,113.55 L266.00,114.90 L266.25,116.25 L266.50,117.43 L266.75,118.61 L267.00,119.80 L267.25,120.98 L267.50,122.16 L267.75,123.34 L268.00,124.53 L268.25,125.58 L268.50,126.54 L268.75,127.50 L269.00,128.46 L269.25,129.42 L269.50,131.03 L269.50,170.00 L269.25,169.00 L269.00,168.00 L268.75,167.00 L268.50,166.00 L268.25,165.25 L268.00,164.50 L267.75,163.75 L267.50,163.00 L267.25,162.25 L267.00,161.50 L266.75,160.75 L266.50,160.00 L266.25,159.00 L266.00,158.00 L265.75,157.00 L265.50,156.00 L265.25,155.00 L265.00,154.00 L264.75,153.00 L264.50,152.00 L264.25,151.00 L264.00,150.00 L263.75,148.70 L263.50,147.40 L263.25,146.10 L263.00,144.80 L262.75,143.50 L262.50,142.20 L262.25,140.90 L262.00,139.60 L261.75,138.30 L261.50,137.00 L261.25,135.88 L261.00,134.75 L260.75,133.62 L260.50,132.50 L260.25,131.38 L260.00,130.25 L259.75,129.12 L259.50,128.00 L259.25,127.39 L259.00,126.79Z" fill="#b9e4f6"/>
<path d="M269.50,131.03 L269.75,133.60 L270.00,136.18 L270.25,138.75 L270.50,140.00 L270.75,141.25 L271.00,142.50 L271.25,143.75 L271.50,146.56 L271.75,149.38 L272.00,152.19 L272.25,155.00 L272.50,157.94 L272.75,160.88 L273.00,163.82 L273.25,166.29 L273.50,168.45 L273.75,170.60 L274.00,169.20 L274.25,167.80 L274.50,166.40 L274.75,165.00 L275.00,163.90 L275.25,162.79 L275.50,161.69 L275.75,161.11 L276.00,160.87 L276.25,160.62 L276.50,160.38 L276.75,160.14 L277.00,160.52 L277.25,161.82 L277.50,163.12 L277.75,164.43 L278.00,165.73 L278.25,165.50 L278.50,164.25 L278.75,163.00 L279.00,161.75 L279.25,158.75 L279.50,154.58 L279.75,150.42 L280.00,146.25 L280.25,143.12 L280.50,140.00 L280.75,136.88 L281.00,133.75 L281.25,131.32 L281.50,128.89 L281.50,155.40 L281.25,158.00 L281.00,162.40 L280.75,166.80 L280.50,171.20 L280.25,175.60 L280.00,180.00 L279.75,182.50 L279.50,185.00 L279.25,187.50 L279.00,190.00 L278.75,192.50 L278.50,195.25 L278.25,198.00 L278.00,200.75 L277.75,203.50 L277.50,206.25 L277.25,204.69 L277.00,203.12 L276.75,201.56 L276.50,200.00 L276.25,200.69 L276.00,201.39 L275.75,202.08 L275.50,203.02 L275.25,204.32 L275.00,205.62 L274.75,206.93 L274.50,208.23 L274.25,207.16 L274.00,204.52 L273.75,201.88 L273.50,199.23 L273.25,196.59 L273.00,194.19 L272.75,192.16 L272.50,190.14 L272.25,188.11 L272.00,186.08 L271.75,184.05 L271.50,182.03 L271.25,180.00 L271.00,178.40 L270.75,176.80 L270.50,175.20 L270.25,173.60 L270.00,172.00 L269.75,171.00 L269.50,170.00Z" fill="url(#lbetween)"/>
<path d="M281.50,128.89 L281.75,126.46 L282.00,123.96 L282.25,121.35 L282.50,118.75 L282.75,116.15 L283.00,113.54 L283.25,111.06 L283.50,108.65 L283.75,106.25 L284.00,103.85 L284.25,101.44 L284.50,98.75 L284.75,95.62 L285.00,92.50 L285.25,89.37 L285.50,87.03 L285.75,85.85 L286.00,84.68 L286.25,83.50 L286.25,128.75 L286.00,129.00 L285.75,129.75 L285.50,130.50 L285.25,131.25 L285.00,132.00 L284.75,132.75 L284.50,133.50 L284.25,134.25 L284.00,135.00 L283.75,136.67 L283.50,138.33 L283.25,140.00 L283.00,141.67 L282.75,143.33 L282.50,145.00 L282.25,147.60 L282.00,150.20 L281.75,152.80 L281.50,155.40Z" fill="#b9e4f6"/>
<path d="M286.25,83.50 L286.50,83.88 L286.50,128.50 L286.25,128.75Z" fill="#8bb9ee"/>
<path d="M286.50,83.88 L286.75,84.25 L287.00,84.62 L287.25,85.00 L287.50,85.74 L287.75,86.47 L288.00,87.21 L288.25,87.50 L288.50,87.50 L288.75,87.50 L289.00,87.50 L289.25,87.50 L289.50,87.42 L289.75,87.21 L290.00,87.00 L290.25,86.79 L290.50,86.58 L290.75,87.08 L291.00,88.06 L291.25,89.03 L291.50,90.00 L291.75,91.88 L292.00,93.75 L292.25,95.62 L292.50,97.50 L292.75,99.25 L293.00,101.00 L293.25,102.75 L293.50,104.50 L293.75,106.25 L294.00,107.81 L294.25,109.38 L294.50,110.94 L294.75,112.50 L295.00,115.00 L295.25,117.50 L295.50,124.29 L295.75,127.63 L296.00,128.69 L296.25,129.75 L296.25,156.50 L296.00,153.67 L295.75,150.83 L295.50,148.00 L295.25,146.17 L295.00,144.33 L294.75,142.50 L294.50,140.67 L294.25,138.83 L294.00,137.00 L293.75,136.25 L293.50,135.50 L293.25,134.75 L293.00,134.00 L292.75,133.25 L292.50,132.50 L292.25,131.75 L292.00,131.00 L291.75,130.62 L291.50,130.25 L291.25,129.88 L291.00,129.50 L290.75,129.12 L290.50,128.75 L290.25,128.38 L290.00,128.00 L289.75,127.88 L289.50,127.75 L289.25,127.62 L289.00,127.50 L288.75,127.38 L288.50,127.25 L288.25,127.12 L288.00,127.00 L287.75,127.25 L287.50,127.50 L287.25,127.75 L287.00,128.00 L286.75,128.25 L286.50,128.50Z" fill="#b9e4f6"/>
<path d="M296.25,129.75 L296.50,130.81 L296.75,131.87 L297.00,133.09 L297.25,134.56 L297.50,136.03 L297.75,137.50 L298.00,140.31 L298.25,143.12 L298.50,145.94 L298.75,148.75 L299.00,151.50 L299.25,154.25 L299.50,157.00 L299.75,159.75 L300.00,162.50 L300.25,163.75 L300.50,165.00 L300.75,166.25 L301.00,167.50 L301.25,166.11 L301.50,164.72 L301.75,163.33 L302.00,161.32 L302.25,158.38 L302.50,155.44 L302.75,152.50 L303.00,150.00 L303.25,147.50 L303.50,145.00 L303.75,142.50 L304.00,141.88 L304.25,141.26 L304.50,140.64 L304.75,140.02 L305.00,139.40 L305.25,138.57 L305.50,137.73 L305.75,136.90 L306.00,136.07 L306.25,135.23 L306.50,134.40 L306.75,132.55 L307.00,130.70 L307.25,128.85 L307.25,166.67 L307.00,167.33 L306.75,168.00 L306.50,168.67 L306.25,169.33 L306.00,170.00 L305.75,171.56 L305.50,173.12 L305.25,174.69 L305.00,176.25 L304.75,177.81 L304.50,179.37 L304.25,181.28 L304.00,183.42 L303.75,185.56 L303.50,187.70 L303.25,189.84 L303.00,191.97 L302.75,194.11 L302.50,196.25 L302.25,198.12 L302.00,200.00 L301.75,201.88 L301.50,203.75 L301.25,205.62 L301.00,207.50 L300.75,205.00 L300.50,202.50 L300.25,200.00 L300.00,197.50 L299.75,195.00 L299.50,192.73 L299.25,190.45 L299.00,188.18 L298.75,185.91 L298.50,183.64 L298.25,181.36 L298.00,178.64 L297.75,175.23 L297.50,171.82 L297.25,168.41 L297.00,165.00 L296.75,162.17 L296.50,159.33 L296.25,156.50Z" fill="url(#lbetween)"/>
<path d="M307.25,128.85 L307.50,127.00 L307.75,126.19 L308.00,125.38 L308.25,124.56 L308.50,123.75 L308.75,125.06 L309.00,126.38 L309.25,127.69 L309.50,129.00 L309.75,131.38 L309.75,169.00 L309.50,168.00 L309.25,167.00 L309.00,166.00 L308.75,166.00 L308.50,166.00 L308.25,166.00 L308.00,166.00 L307.75,166.00 L307.50,166.00 L307.25,166.67Z" fill="#b9e4f6"/>
<path d="M309.75,131.38 L310.00,133.75 L310.25,135.25 L310.50,136.75 L310.75,138.25 L311.00,139.75 L311.25,141.25 L311.50,143.00 L311.75,144.75 L312.00,146.50 L312.25,148.25 L312.50,150.00 L312.75,152.50 L313.00,155.00 L313.25,157.50 L313.50,160.00 L313.75,162.50 L314.00,165.60 L314.25,168.70 L314.50,171.80 L314.75,174.90 L315.00,178.00 L315.25,179.40 L315.50,180.80 L315.75,182.20 L316.00,183.60 L316.25,185.00 L316.50,185.34 L316.75,185.68 L317.00,186.01 L317.25,186.35 L317.50,186.69 L317.75,187.03 L318.00,187.36 L318.25,187.78 L318.50,188.25 L318.75,188.72 L319.00,189.19 L319.25,189.66 L319.50,190.13 L319.75,190.60 L320.00,191.73 L320.25,192.86 L320.50,193.99 L320.75,195.12 L321.00,196.25 L321.25,197.71 L321.50,199.17 L321.75,200.62 L322.00,202.08 L322.25,203.54 L322.50,205.00 L322.75,204.67 L323.00,204.34 L323.25,204.01 L323.50,203.68 L323.75,203.36 L324.00,203.03 L324.25,202.70 L324.50,202.62 L324.75,202.92 L325.00,203.21 L325.25,203.51 L325.50,203.81 L325.75,204.10 L326.00,204.40 L326.25,205.77 L326.50,207.14 L326.75,208.51 L327.00,209.88 L327.25,211.25 L327.50,212.29 L327.75,213.33 L328.00,214.38 L328.25,215.42 L328.50,216.46 L328.75,217.50 L329.00,218.25 L329.25,219.00 L329.50,219.75 L329.75,220.50 L330.00,221.25 L330.25,223.00 L330.50,224.75 L330.75,226.50 L331.00,228.25 L331.25,230.00 L331.50,232.00 L331.75,234.00 L332.00,236.00 L332.25,238.00 L332.50,240.00 L332.75,242.00 L333.00,244.00 L333.25,246.00 L333.50,248.00 L333.75,250.00 L334.00,251.62 L334.25,253.25 L334.50,254.88 L334.75,256.50 L335.00,258.12 L335.25,259.75 L335.50,261.38 L335.75,263.00 L336.00,264.62 L336.25,266.25 L336.50,266.71 L336.75,267.18 L337.00,267.64 L337.25,268.11 L337.50,268.57 L337.75,269.04 L338.00,269.50 L338.25,269.25 L338.50,269.00 L338.75,268.75 L339.00,268.50 L339.25,268.25 L339.50,268.00 L339.75,267.75 L340.00,267.50 L340.25,265.00 L340.50,262.50 L340.75,260.00 L341.00,257.50 L341.25,255.00 L341.50,252.50 L341.75,250.00 L342.00,247.97 L342.25,245.94 L342.50,243.91 L342.75,241.88 L343.00,239.84 L343.25,237.81 L343.50,235.78 L343.75,233.75 L344.00,233.57 L344.25,233.39 L344.50,233.21 L344.75,233.04 L345.00,232.86 L345.25,232.68 L345.50,232.50 L345.75,234.17 L346.00,235.83 L346.25,237.50 L346.50,239.17 L346.75,240.83 L347.00,242.50 L347.25,245.28 L347.50,248.06 L347.75,250.83 L348.00,253.61 L348.25,256.39 L348.50,259.17 L348.75,261.94 L349.00,264.72 L349.25,267.50 L349.50,265.94 L349.75,264.38 L350.00,262.81 L350.25,261.25 L350.50,259.69 L350.75,258.12 L351.00,256.56 L351.25,255.00 L351.50,255.71 L351.75,256.43 L352.00,257.14 L352.25,257.86 L352.50,258.57 L352.75,259.29 L353.00,260.00 L353.25,260.16 L353.50,260.31 L353.75,260.47 L354.00,260.62 L354.25,260.78 L354.50,260.94 L354.75,261.09 L355.00,261.25 L355.25,262.86 L355.50,264.46 L355.75,266.07 L356.00,267.68 L356.25,269.29 L356.50,270.89 L356.75,272.50 L357.00,271.67 L357.25,270.83 L357.50,270.00 L357.75,269.17 L358.00,268.33 L358.25,267.50 L358.50,262.69 L358.75,257.88 L359.00,250.00 L359.25,237.50 L359.50,222.50 L359.75,207.50 L360.00,195.00 L360.25,186.59 L360.50,180.91 L360.75,175.23 L361.00,169.55 L361.25,164.37 L361.50,161.25 L361.75,158.12 L362.00,155.00 L362.25,146.25 L362.50,137.50 L362.75,128.75 L362.75,129.75 L362.50,138.50 L362.25,147.25 L362.00,156.00 L361.75,166.56 L361.50,199.00 L361.25,295.00 L361.00,295.00 L360.75,295.00 L360.50,295.00 L360.25,292.00 L360.00,289.00 L359.75,286.00 L359.50,283.00 L359.25,280.00 L359.00,285.00 L358.75,290.00 L358.50,295.00 L358.25,300.00 L358.00,305.00 L357.75,306.07 L357.50,307.14 L357.25,308.21 L357.00,309.29 L356.75,310.36 L356.50,311.43 L356.25,312.50 L356.00,311.25 L355.75,310.00 L355.50,308.75 L355.25,307.50 L355.00,306.25 L354.75,305.00 L354.50,303.75 L354.25,302.50 L354.00,301.25 L353.75,300.00 L353.50,299.50 L353.25,299.00 L353.00,298.50 L352.75,298.00 L352.50,297.50 L352.25,297.00 L352.00,296.50 L351.75,296.00 L351.50,295.50 L351.25,295.00 L351.00,296.56 L350.75,298.12 L350.50,299.69 L350.25,301.25 L350.00,302.81 L349.75,304.38 L349.50,305.94 L349.25,307.50 L349.00,305.62 L348.75,303.75 L348.50,301.88 L348.25,300.00 L348.00,298.12 L347.75,296.25 L347.50,294.38 L347.25,292.50 L347.00,290.62 L346.75,288.75 L346.50,286.88 L346.25,285.00 L346.00,283.44 L345.75,281.88 L345.50,280.31 L345.25,278.75 L345.00,277.19 L344.75,275.62 L344.50,274.06 L344.25,272.50 L344.00,273.57 L343.75,274.64 L343.50,275.71 L343.25,276.79 L343.00,277.86 L342.75,278.93 L342.50,280.00 L342.25,282.25 L342.00,284.50 L341.75,286.75 L341.50,289.00 L341.25,291.25 L341.00,293.50 L340.75,295.75 L340.50,298.00 L340.25,300.25 L340.00,302.50 L339.75,303.12 L339.50,303.75 L339.25,304.38 L339.00,305.00 L338.75,305.62 L338.50,306.25 L338.25,306.88 L338.00,307.50 L337.75,308.12 L337.50,308.75 L337.25,307.17 L337.00,305.58 L336.75,304.00 L336.50,302.42 L336.25,300.83 L336.00,299.25 L335.75,297.67 L335.50,296.08 L335.25,294.50 L335.00,292.92 L334.75,291.33 L334.50,289.75 L334.25,288.17 L334.00,286.58 L333.75,285.00 L333.50,283.67 L333.25,282.33 L333.00,281.00 L332.75,279.67 L332.50,278.33 L332.25,277.00 L332.00,275.67 L331.75,274.33 L331.50,273.00 L331.25,271.67 L331.00,270.33 L330.75,269.00 L330.50,267.67 L330.25,266.33 L330.00,265.00 L329.75,263.83 L329.50,262.67 L329.25,261.50 L329.00,260.33 L328.75,259.17 L328.50,258.00 L328.25,256.83 L328.00,255.67 L327.75,254.50 L327.50,253.33 L327.25,252.17 L327.00,251.00 L326.75,249.83 L326.50,248.67 L326.25,247.50 L326.00,246.83 L325.75,246.17 L325.50,245.50 L325.25,244.83 L325.00,244.17 L324.75,243.50 L324.50,242.83 L324.25,242.17 L324.00,241.50 L323.75,240.83 L323.50,240.17 L323.25,239.50 L323.00,238.83 L322.75,238.17 L322.50,237.50 L322.25,236.90 L322.00,236.29 L321.75,235.69 L321.50,235.08 L321.25,234.48 L321.00,233.87 L320.75,233.27 L320.50,232.66 L320.25,232.06 L320.00,231.45 L319.75,230.85 L319.50,230.24 L319.25,229.70 L319.00,229.21 L318.75,228.72 L318.50,228.22 L318.25,227.73 L318.00,227.24 L317.75,226.74 L317.50,226.25 L317.25,225.43 L317.00,224.61 L316.75,223.78 L316.50,222.96 L316.25,222.14 L316.00,221.32 L315.75,220.49 L315.50,218.75 L315.25,215.62 L315.00,212.50 L314.75,209.38 L314.50,206.25 L314.25,203.56 L314.00,201.15 L313.75,198.75 L313.50,196.35 L313.25,193.94 L313.00,191.46 L312.75,188.85 L312.50,186.25 L312.25,183.65 L312.00,181.04 L311.75,179.14 L311.50,177.71 L311.25,176.29 L311.00,174.86 L310.75,173.43 L310.50,172.00 L310.25,171.00 L310.00,170.00 L309.75,169.00Z" fill="url(#lbetween)"/>
<path d="M362.75,128.75 L363.00,120.00 L363.25,111.50 L363.50,103.00 L363.75,94.50 L364.00,86.00 L364.25,77.50 L364.25,78.50 L364.00,87.00 L363.75,95.50 L363.50,104.00 L363.25,112.50 L363.00,121.00 L362.75,129.75Z" fill="#b9e4f6"/>
<path d="M364.25,77.50 L364.25,78.50Z" fill="#8bb9ee"/>
<path d="M40.50,250.00 L40.75,251.67 L41.00,253.33 L41.25,255.00 L41.50,259.25 L41.75,263.50 L42.00,267.75 L42.25,272.00 L42.50,276.25 L42.75,280.50 L43.00,284.75 L43.25,289.00 L43.50,293.25 L43.75,297.50 L44.00,295.19 L44.25,292.88 L44.50,290.58 L44.75,288.27 L45.00,285.96 L45.25,283.65 L45.50,281.35 L45.75,279.04 L46.00,276.73 L46.25,274.42 L46.50,272.12 L46.75,269.81 L47.00,267.50 L47.25,266.79 L47.50,266.07 L47.75,265.36 L48.00,264.64 L48.25,263.93 L48.50,263.21 L48.75,262.50 L49.00,260.81 L49.25,259.12 L49.50,257.43 L49.75,255.74 L50.00,254.05 L50.25,252.36 L50.50,250.68 L50.75,248.92 L51.00,247.11 L51.25,245.30 L51.50,243.49 L51.75,241.68 L52.00,240.64 L52.25,240.72 L52.50,240.81 L52.75,240.90 L53.00,240.99 L53.25,241.07 L53.50,241.16 L53.75,241.25 L54.00,241.16 L54.25,241.07 L54.50,240.99 L54.75,240.90 L55.00,240.81 L55.25,240.72 L55.50,240.64 L55.75,241.11 L56.00,241.95 L56.25,242.80 L56.50,243.65 L56.75,244.49 L57.00,245.42 L57.25,246.46 L57.50,247.50 L57.75,248.54 L58.00,249.58 L58.25,250.43 L58.50,251.15 L58.75,251.88 L59.00,252.60 L59.25,253.32 L59.50,253.33 L59.75,252.29 L60.00,251.25 L60.25,250.21 L60.50,249.17 L60.75,247.74 L61.00,246.06 L61.25,244.38 L61.50,242.69 L61.75,241.01 L62.00,239.29 L62.25,237.53 L62.50,235.76 L62.75,234.00 L63.00,236.12 L63.25,238.25 L63.50,240.38 L63.75,242.50 L64.00,244.50 L64.25,246.50 L64.50,248.50 L64.75,250.50 L65.00,252.50 L65.25,253.75 L65.50,255.00 L65.75,256.25 L66.00,257.50 L66.25,258.75 L66.50,262.20 L66.75,265.65 L67.00,269.10 L67.25,272.55 L67.50,276.00 L67.75,272.50 L68.00,269.00 L68.25,265.50 L68.50,262.00 L68.75,256.50 L69.00,251.00 L69.25,245.50 L69.50,240.00 L69.75,230.00 L70.00,220.00 L70.25,210.00 L70.50,200.00 L70.75,185.00 L71.00,170.00 L71.25,155.00 L71.50,140.00 L71.75,132.00 L72.00,124.00 L72.25,116.00 L72.50,108.00 L72.75,106.23 L73.00,104.46 L73.25,103.86 L73.50,104.05 L73.75,104.23 L74.00,104.42 L74.25,104.60 L74.50,104.79 L74.75,104.97 L75.00,105.16 L75.25,105.34 L75.50,105.53 L75.75,104.88 L76.00,103.69 L76.25,102.50 L76.50,101.31 L76.75,100.12 L77.00,99.26 L77.25,98.93 L77.50,98.59 L77.75,98.25 L78.00,97.91 L78.25,97.58 L78.50,97.24 L78.75,96.90 L79.00,96.22 L79.25,95.55 L79.50,94.87 L79.75,94.20 L80.00,93.52 L80.25,92.85 L80.50,92.17 L80.75,92.11 L81.00,92.47 L81.25,92.83 L81.50,93.18 L81.75,93.54 L82.00,93.77 L82.25,93.82 L82.50,93.88 L82.75,93.93 L83.00,93.98 L83.25,94.84 L83.50,96.23 L83.75,97.62 L84.00,99.02 L84.25,100.41 L84.50,101.98 L84.75,103.80 L85.00,105.62 L85.25,107.45 L85.50,109.27 L85.75,111.01 L86.00,112.69 L86.25,114.38 L86.50,116.06 L86.75,117.74 L87.00,119.48 L87.25,121.30 L87.50,123.12 L87.75,124.95 L88.00,126.77 L88.25,128.13 L88.50,129.19 L88.75,130.25 L89.00,131.31 L89.25,132.37 L89.50,133.18 L89.75,133.61 L90.00,134.05 L90.25,134.49 L90.50,134.93 L90.75,135.37 L91.00,135.81 L91.25,136.25 L91.50,137.71 L91.75,139.17 L92.00,140.62 L92.25,142.08 L92.50,143.54 L92.75,145.00 L93.00,146.12 L93.25,147.24 L93.50,148.36 L93.75,149.48 L94.00,150.60 L94.25,150.12 L94.50,149.63 L94.75,149.15 L95.00,148.66 L95.25,148.18 L95.50,147.69 L95.75,147.21 L96.00,146.73 L96.25,146.25 L96.50,145.77 L96.75,145.29 L97.00,145.10 L97.25,145.36 L97.50,145.62 L97.75,145.87 L98.00,146.13 L98.25,146.39 L98.50,146.64 L98.75,146.90 L99.00,147.27 L99.25,147.64 L99.50,148.01 L99.75,148.38 L100.00,148.75 L100.25,149.12 L100.50,149.49 L100.75,149.86 L101.00,150.23 L101.25,150.60 L101.50,150.73 L101.75,150.86 L102.00,150.99 L102.25,151.12 L102.50,151.25 L102.75,151.38 L103.00,151.51 L103.25,151.64 L103.50,151.77 L103.75,151.90 L104.00,152.32 L104.25,152.74 L104.50,153.16 L104.75,153.58 L105.00,153.99 L105.25,154.41 L105.50,154.83 L105.75,155.34 L106.00,155.91 L106.25,156.48 L106.50,157.05 L106.75,157.61 L107.00,158.18 L107.25,158.75 L107.50,161.32 L107.75,163.90 L108.00,166.47 L108.25,168.94 L108.50,171.35 L108.75,173.75 L109.00,176.15 L109.25,178.56 L109.50,181.16 L109.75,184.06 L110.00,186.97 L110.25,189.87 L110.50,192.77 L110.75,195.68 L111.00,198.58 L111.25,201.48 L111.50,204.39 L111.75,207.29 L112.00,210.19 L112.25,213.10 L112.50,216.00 L112.75,213.10 L113.00,210.19 L113.25,207.29 L113.50,204.39 L113.75,201.48 L114.00,198.58 L114.25,195.68 L114.50,192.77 L114.75,189.87 L115.00,186.97 L115.25,184.06 L115.50,181.16 L115.75,179.13 L116.00,177.69 L116.25,176.25 L116.50,174.81 L116.75,173.37 L117.00,172.17 L117.25,171.35 L117.50,170.53 L117.75,169.71 L118.00,168.89 L118.25,168.07 L118.50,167.25 L118.75,167.50 L119.00,167.75 L119.25,168.00 L119.50,168.25 L119.75,168.50 L120.00,168.75 L120.25,169.41 L120.50,170.07 L120.75,170.72 L121.00,171.38 L121.25,172.04 L121.50,172.70 L121.75,173.36 L122.00,174.09 L122.25,174.93 L122.50,175.78 L122.75,176.62 L123.00,177.47 L123.25,178.31 L123.50,179.16 L123.75,180.00 L124.00,181.50 L124.25,183.00 L124.50,184.50 L124.75,186.00 L125.00,187.50 L125.25,188.32 L125.50,189.15 L125.75,189.97 L126.00,190.80 L126.25,191.62 L126.50,192.45 L126.75,193.28 L127.00,194.10 L127.25,194.93 L127.50,195.75 L127.75,196.57 L128.00,197.40 L128.25,198.22 L128.50,199.05 L128.75,199.88 L129.00,200.70 L129.25,201.53 L129.50,202.35 L129.75,203.18 L130.00,204.00 L130.25,204.72 L130.50,205.45 L130.75,206.18 L131.00,206.90 L131.25,207.62 L131.50,208.35 L131.75,209.07 L132.00,209.80 L132.25,210.53 L132.50,211.25 L132.75,212.38 L133.00,213.50 L133.25,214.62 L133.50,215.75 L133.75,216.88 L134.00,218.00 L134.25,219.12 L134.50,220.25 L134.75,221.38 L135.00,222.50 L135.25,224.00 L135.50,225.50 L135.75,227.00 L136.00,228.50 L136.25,230.00 L136.50,230.20 L136.75,230.40 L137.00,230.60 L137.25,230.80 L137.50,231.00 L137.75,229.05 L138.00,227.10 L138.25,225.15 L138.50,223.20 L138.75,221.25 L139.00,219.90 L139.25,218.55 L139.50,217.20 L139.75,215.84 L140.00,214.49 L140.25,213.14 L140.50,211.79 L140.75,210.53 L141.00,209.33 L141.25,208.12 L141.50,206.92 L141.75,205.72 L142.00,205.04 L142.25,205.14 L142.50,205.24 L142.75,205.34 L143.00,205.44 L143.25,205.54 L143.50,205.65 L143.75,205.75 L144.00,205.85 L144.25,205.95 L144.50,206.05 L144.75,206.15 L145.00,206.25 L145.25,205.25 L145.50,204.25 L145.75,203.25 L146.00,202.25 L146.25,201.25 L146.50,200.38 L146.75,199.50 L147.00,198.62 L147.25,197.75 L147.50,196.88 L147.75,196.00 L148.00,195.12 L148.25,194.25 L148.50,193.38 L148.75,192.50 L149.00,191.49 L149.25,190.47 L149.50,189.46 L149.75,188.45 L150.00,187.43 L150.25,186.42 L150.50,185.41 L150.75,184.31 L151.00,183.16 L151.25,182.01 L151.50,180.86 L151.75,179.70 L152.00,178.55 L152.25,177.40 L152.50,176.25 L152.75,176.74 L153.00,177.24 L153.25,177.73 L153.50,178.22 L153.75,178.72 L154.00,179.21 L154.25,179.70 L154.50,180.83 L154.75,182.92 L155.00,185.00 L155.25,187.08 L155.50,189.17 L155.75,191.15 L156.00,193.08 L156.25,195.00 L156.50,196.92 L156.75,198.85 L157.00,200.54 L157.25,201.89 L157.50,203.24 L157.75,204.59 L158.00,205.95 L158.25,207.30 L158.50,208.65 L158.75,210.00 L159.00,210.68 L159.25,211.35 L159.50,212.03 L159.75,212.70 L160.00,213.38 L160.25,214.05 L160.50,214.73 L160.75,215.23 L161.00,215.61 L161.25,215.98 L161.50,216.36 L161.75,216.74 L162.00,217.12 L162.25,217.50 L162.50,216.46 L162.75,215.42 L163.00,214.38 L163.25,213.33 L163.50,212.29 L163.75,211.25 L164.00,210.07 L164.25,208.89 L164.50,207.70 L164.75,206.52 L165.00,205.34 L165.25,204.16 L165.50,202.97 L165.75,201.61 L166.00,200.13 L166.25,198.65 L166.50,197.17 L166.75,195.69 L167.00,194.21 L167.25,192.73 L167.50,191.25 L167.75,190.26 L168.00,189.28 L168.25,188.29 L168.50,187.30 L168.75,186.32 L169.00,185.33 L169.25,184.34 L169.50,183.55 L169.75,183.04 L170.00,182.53 L170.25,182.03 L170.50,181.52 L170.75,181.01 L171.00,180.51 L171.25,180.00 L171.50,180.00 L171.75,180.00 L172.00,180.00 L172.25,180.00 L172.50,180.00 L172.75,178.85 L173.00,177.70 L173.25,176.55 L173.50,175.39 L173.75,174.24 L174.00,173.09 L174.25,171.94 L174.50,170.88 L174.75,169.95 L175.00,169.03 L175.25,168.10 L175.50,167.18 L175.75,166.25 L176.00,165.33 L176.25,164.40 L176.50,163.97 L176.75,163.55 L177.00,163.12 L177.25,162.70 L177.50,162.27 L177.75,161.85 L178.00,161.42 L178.25,161.00 L178.50,160.59 L178.75,160.17 L179.00,159.76 L179.25,159.34 L179.50,158.93 L179.75,158.51 L180.00,158.10 L180.25,158.35 L180.50,158.60 L180.75,158.85 L181.00,159.10 L181.25,159.35 L181.50,159.60 L181.75,159.85 L182.00,160.43 L182.25,161.51 L182.50,162.59 L182.75,163.67 L183.00,164.74 L183.25,165.82 L183.50,166.90 L183.75,167.10 L184.00,167.30 L184.25,167.50 L184.50,167.70 L184.75,167.90 L185.00,168.10 L185.25,166.98 L185.50,165.86 L185.75,164.74 L186.00,163.62 L186.25,162.50 L186.50,162.16 L186.75,161.82 L187.00,161.49 L187.25,161.15 L187.50,160.81 L187.75,160.47 L188.00,160.14 L188.25,160.51 L188.50,161.35 L188.75,162.20 L189.00,163.05 L189.25,163.89 L189.50,164.66 L189.75,165.30 L190.00,165.95 L190.25,166.60 L190.50,167.24 L190.75,168.22 L191.00,169.42 L191.25,170.62 L191.50,171.83 L191.75,173.03 L192.00,175.31 L192.25,179.22 L192.50,183.12 L192.75,187.03 L193.00,190.94 L193.25,194.09 L193.50,196.73 L193.75,199.38 L194.00,202.02 L194.25,204.66 L194.50,205.63 L194.75,204.06 L195.00,202.50 L195.25,200.94 L195.50,199.37 L195.75,197.45 L196.00,195.29 L196.25,193.12 L196.50,190.96 L196.75,188.80 L197.00,187.21 L197.25,186.47 L197.50,185.74 L197.75,185.00 L198.00,186.25 L198.25,187.50 L198.50,188.75 L198.75,190.00 L199.00,193.00 L199.25,196.00 L199.50,199.00 L199.75,202.00 L200.00,205.00 L200.25,206.50 L200.50,208.00 L200.75,209.50 L201.00,211.00 L201.25,212.50 L201.50,214.29 L201.75,216.07 L202.00,217.86 L202.25,219.64 L202.50,221.43 L202.75,223.21 L203.00,225.00 L203.25,228.33 L203.50,231.67 L203.75,235.00 L204.00,238.33 L204.25,241.67 L204.50,245.00 L204.75,249.69 L205.00,254.38 L205.25,259.06 L205.50,263.75 L205.75,259.06 L206.00,254.38 L206.25,249.69 L206.50,245.00 L206.75,242.66 L207.00,240.31 L207.25,237.97 L207.50,235.62 L207.75,233.28 L208.00,230.94 L208.25,227.92 L208.50,224.44 L208.75,220.97 L209.00,217.50 L209.25,211.25 L209.50,205.00 L209.75,198.75 L210.00,192.50 L210.25,179.48 L210.50,166.46 L210.75,157.50 L211.00,151.25 L211.25,145.00 L211.50,143.00 L211.75,141.00 L212.00,139.00 L212.25,137.00 L212.50,135.00 L212.75,134.69 L213.00,134.38 L213.25,134.06 L213.50,133.75 L213.75,134.50 L214.00,135.25 L214.25,136.00 L214.50,136.75 L214.75,137.50 L215.00,139.25 L215.25,141.00 L215.50,142.75 L215.75,144.50 L216.00,146.25 L216.25,148.12 L216.50,150.00 L216.75,151.88 L217.00,153.75 L217.25,155.62 L217.50,157.50 L217.75,159.79 L218.00,162.08 L218.25,164.38 L218.50,166.67 L218.75,168.96 L219.00,171.25 L219.25,174.69 L219.50,178.12 L219.75,181.56 L220.00,185.00 L220.25,188.13 L220.50,191.25 L220.75,195.38 L221.00,200.19 L221.25,205.00 L221.50,209.81 L221.75,214.62 L222.00,219.37 L222.25,224.06 L222.50,228.75 L222.75,233.44 L223.00,238.13 L223.25,244.62 L223.50,252.31 L223.75,260.00 L224.00,257.00 L224.25,254.00 L224.50,251.00 L224.75,248.00 L225.00,245.00 L225.25,242.00 L225.50,239.00 L225.75,236.00 L226.00,233.00 L226.25,230.00 L226.50,227.50 L226.75,225.00 L227.00,222.50 L227.25,220.00 L227.50,217.50 L227.75,213.75 L228.00,210.00 L228.25,206.25 L228.50,202.50 L228.75,198.75 L229.00,196.25 L229.25,193.75 L229.50,191.25 L229.75,188.75 L230.00,186.25 L230.25,183.40 L230.50,180.55 L230.75,177.70 L231.00,174.85 L231.25,172.00 L231.50,169.20 L231.75,166.40 L232.00,163.60 L232.25,160.80 L232.50,158.00 L232.75,156.33 L233.00,154.67 L233.25,153.00 L233.50,151.33 L233.75,149.67 L234.00,148.00 L234.25,147.67 L234.50,147.33 L234.75,147.00 L235.00,146.67 L235.25,146.33 L235.50,146.00 L235.75,147.12 L236.00,148.25 L236.25,149.38 L236.50,150.50 L236.75,151.62 L237.00,152.75 L237.25,153.88 L237.50,155.00 L237.75,156.10 L238.00,157.20 L238.25,158.30 L238.50,159.40 L238.75,160.50 L239.00,161.60 L239.25,162.70 L239.50,163.80 L239.75,164.90 L240.00,166.00 L240.25,167.00 L240.50,168.00 L240.75,169.00 L241.00,170.00 L241.25,171.67 L241.50,173.33 L241.75,175.00 L242.00,176.67 L242.25,178.33 L242.50,180.00 L242.75,181.39 L243.00,182.78 L243.25,184.17 L243.50,185.56 L243.75,186.94 L244.00,188.33 L244.25,189.72 L244.50,191.11 L244.75,192.50 L245.00,194.58 L245.25,196.67 L245.50,198.75 L245.75,200.83 L246.00,202.92 L246.25,205.00 L246.50,206.25 L246.75,207.50 L247.00,208.75 L247.25,210.00 L247.50,211.25 L247.75,210.00 L248.00,208.75 L248.25,207.50 L248.50,206.25 L248.75,205.00 L249.00,202.00 L249.25,199.00 L249.50,196.00 L249.75,193.00 L250.00,190.00 L250.25,187.50 L250.50,185.00 L250.75,182.50 L251.00,180.00 L251.25,176.67 L251.50,173.33 L251.75,170.00 L252.00,166.67 L252.25,163.33 L252.50,160.00 L252.75,156.67 L253.00,153.33 L253.25,150.00 L253.50,146.67 L253.75,143.33 L254.00,140.00 L254.25,138.50 L254.50,137.00 L254.75,135.50 L255.00,134.00 L255.25,132.50 L255.50,131.00 L255.75,129.50 L256.00,128.00 L256.25,127.39 L256.50,126.79 L256.75,126.18 L257.00,125.57 L257.25,124.96 L257.50,124.36 L257.75,123.75 L258.00,124.36 L258.25,124.96 L258.50,125.57 L258.75,126.18 L259.00,126.79 L259.25,127.39 L259.50,128.00 L259.75,129.12 L260.00,130.25 L260.25,131.38 L260.50,132.50 L260.75,133.62 L261.00,134.75 L261.25,135.88 L261.50,137.00 L261.75,138.30 L262.00,139.60 L262.25,140.90 L262.50,142.20 L262.75,143.50 L263.00,144.80 L263.25,146.10 L263.50,147.40 L263.75,148.70 L264.00,150.00 L264.25,151.00 L264.50,152.00 L264.75,153.00 L265.00,154.00 L265.25,155.00 L265.50,156.00 L265.75,157.00 L266.00,158.00 L266.25,159.00 L266.50,160.00 L266.75,160.75 L267.00,161.50 L267.25,162.25 L267.50,163.00 L267.75,163.75 L268.00,164.50 L268.25,165.25 L268.50,166.00 L268.75,167.00 L269.00,168.00 L269.25,169.00 L269.50,170.00 L269.75,171.00 L270.00,172.00 L270.25,173.60 L270.50,175.20 L270.75,176.80 L271.00,178.40 L271.25,180.00 L271.50,182.03 L271.75,184.05 L272.00,186.08 L272.25,188.11 L272.50,190.14 L272.75,192.16 L273.00,194.19 L273.25,196.59 L273.50,199.23 L273.75,201.88 L274.00,204.52 L274.25,207.16 L274.50,208.23 L274.75,206.93 L275.00,205.62 L275.25,204.32 L275.50,203.02 L275.75,202.08 L276.00,201.39 L276.25,200.69 L276.50,200.00 L276.75,201.56 L277.00,203.12 L277.25,204.69 L277.50,206.25 L277.75,203.50 L278.00,200.75 L278.25,198.00 L278.50,195.25 L278.75,192.50 L279.00,190.00 L279.25,187.50 L279.50,185.00 L279.75,182.50 L280.00,180.00 L280.25,175.60 L280.50,171.20 L280.75,166.80 L281.00,162.40 L281.25,158.00 L281.50,155.40 L281.75,152.80 L282.00,150.20 L282.25,147.60 L282.50,145.00 L282.75,143.33 L283.00,141.67 L283.25,140.00 L283.50,138.33 L283.75,136.67 L284.00,135.00 L284.25,134.25 L284.50,133.50 L284.75,132.75 L285.00,132.00 L285.25,131.25 L285.50,130.50 L285.75,129.75 L286.00,129.00 L286.25,128.75 L286.50,128.50 L286.75,128.25 L287.00,128.00 L287.25,127.75 L287.50,127.50 L287.75,127.25 L288.00,127.00 L288.25,127.12 L288.50,127.25 L288.75,127.38 L289.00,127.50 L289.25,127.62 L289.50,127.75 L289.75,127.88 L290.00,128.00 L290.25,128.38 L290.50,128.75 L290.75,129.12 L291.00,129.50 L291.25,129.88 L291.50,130.25 L291.75,130.62 L292.00,131.00 L292.25,131.75 L292.50,132.50 L292.75,133.25 L293.00,134.00 L293.25,134.75 L293.50,135.50 L293.75,136.25 L294.00,137.00 L294.25,138.83 L294.50,140.67 L294.75,142.50 L295.00,144.33 L295.25,146.17 L295.50,148.00 L295.75,150.83 L296.00,153.67 L296.25,156.50 L296.50,159.33 L296.75,162.17 L297.00,165.00 L297.25,168.41 L297.50,171.82 L297.75,175.23 L298.00,178.64 L298.25,181.36 L298.50,183.64 L298.75,185.91 L299.00,188.18 L299.25,190.45 L299.50,192.73 L299.75,195.00 L300.00,197.50 L300.25,200.00 L300.50,202.50 L300.75,205.00 L301.00,207.50 L301.25,205.62 L301.50,203.75 L301.75,201.88 L302.00,200.00 L302.25,198.12 L302.50,196.25 L302.75,194.11 L303.00,191.97 L303.25,189.84 L303.50,187.70 L303.75,185.56 L304.00,183.42 L304.25,181.28 L304.50,179.37 L304.75,177.81 L305.00,176.25 L305.25,174.69 L305.50,173.12 L305.75,171.56 L306.00,170.00 L306.25,169.33 L306.50,168.67 L306.75,168.00 L307.00,167.33 L307.25,166.67 L307.50,166.00 L307.75,166.00 L308.00,166.00 L308.25,166.00 L308.50,166.00 L308.75,166.00 L309.00,166.00 L309.25,167.00 L309.50,168.00 L309.75,169.00 L310.00,170.00 L310.25,171.00 L310.50,172.00 L310.75,173.43 L311.00,174.86 L311.25,176.29 L311.50,177.71 L311.75,179.14 L312.00,181.04 L312.25,183.65 L312.50,186.25 L312.75,188.85 L313.00,191.46 L313.25,193.94 L313.50,196.35 L313.75,198.75 L314.00,201.15 L314.25,203.56 L314.50,206.25 L314.75,209.38 L315.00,212.50 L315.25,215.62 L315.50,218.75 L315.75,220.49 L316.00,221.32 L316.25,222.14 L316.50,222.96 L316.75,223.78 L317.00,224.61 L317.25,225.43 L317.50,226.25 L317.75,226.74 L318.00,227.24 L318.25,227.73 L318.50,228.22 L318.75,228.72 L319.00,229.21 L319.25,229.70 L319.50,230.24 L319.75,230.85 L320.00,231.45 L320.25,232.06 L320.50,232.66 L320.75,233.27 L321.00,233.87 L321.25,234.48 L321.50,235.08 L321.75,235.69 L322.00,236.29 L322.25,236.90 L322.50,237.50 L322.75,238.17 L323.00,238.83 L323.25,239.50 L323.50,240.17 L323.75,240.83 L324.00,241.50 L324.25,242.17 L324.50,242.83 L324.75,243.50 L325.00,244.17 L325.25,244.83 L325.50,245.50 L325.75,246.17 L326.00,246.83 L326.25,247.50 L326.50,248.67 L326.75,249.83 L327.00,251.00 L327.25,252.17 L327.50,253.33 L327.75,254.50 L328.00,255.67 L328.25,256.83 L328.50,258.00 L328.75,259.17 L329.00,260.33 L329.25,261.50 L329.50,262.67 L329.75,263.83 L330.00,265.00 L330.25,266.33 L330.50,267.67 L330.75,269.00 L331.00,270.33 L331.25,271.67 L331.50,273.00 L331.75,274.33 L332.00,275.67 L332.25,277.00 L332.50,278.33 L332.75,279.67 L333.00,281.00 L333.25,282.33 L333.50,283.67 L333.75,285.00 L334.00,286.58 L334.25,288.17 L334.50,289.75 L334.75,291.33 L335.00,292.92 L335.25,294.50 L335.50,296.08 L335.75,297.67 L336.00,299.25 L336.25,300.83 L336.50,302.42 L336.75,304.00 L337.00,305.58 L337.25,307.17 L337.50,308.75 L337.75,308.12 L338.00,307.50 L338.25,306.88 L338.50,306.25 L338.75,305.62 L339.00,305.00 L339.25,304.38 L339.50,303.75 L339.75,303.12 L340.00,302.50 L340.25,300.25 L340.50,298.00 L340.75,295.75 L341.00,293.50 L341.25,291.25 L341.50,289.00 L341.75,286.75 L342.00,284.50 L342.25,282.25 L342.50,280.00 L342.75,278.93 L343.00,277.86 L343.25,276.79 L343.50,275.71 L343.75,274.64 L344.00,273.57 L344.25,272.50 L344.50,274.06 L344.75,275.62 L345.00,277.19 L345.25,278.75 L345.50,280.31 L345.75,281.88 L346.00,283.44 L346.25,285.00 L346.50,286.88 L346.75,288.75 L347.00,290.62 L347.25,292.50 L347.50,294.38 L347.75,296.25 L348.00,298.12 L348.25,300.00 L348.50,301.88 L348.75,303.75 L349.00,305.62 L349.25,307.50 L349.50,305.94 L349.75,304.38 L350.00,302.81 L350.25,301.25 L350.50,299.69 L350.75,298.12 L351.00,296.56 L351.25,295.00 L351.50,295.50 L351.75,296.00 L352.00,296.50 L352.25,297.00 L352.50,297.50 L352.75,298.00 L353.00,298.50 L353.25,299.00 L353.50,299.50 L353.75,300.00 L354.00,301.25 L354.25,302.50 L354.50,303.75 L354.75,305.00 L355.00,306.25 L355.25,307.50 L355.50,308.75 L355.75,310.00 L356.00,311.25 L356.25,312.50 L356.50,311.43 L356.75,310.36 L357.00,309.29 L357.25,308.21 L357.50,307.14 L357.75,306.07 L358.00,305.00 L358.25,300.00 L358.50,295.00 L358.75,290.00 L359.00,285.00 L359.25,280.00 L359.50,283.00 L359.75,286.00 L360.00,289.00 L360.25,292.00 L360.50,295.00 L360.75,295.00 L361.00,295.00 L361.25,295.00 L361.50,199.00 L361.75,166.56 L362.00,156.00 L362.25,147.25 L362.50,138.50 L362.75,129.75 L363.00,121.00 L363.25,112.50 L363.50,104.00 L363.75,95.50 L364.00,87.00 L364.25,78.50 L364.25,352 L40.5,352Z" fill="url(#lenv)"/>
<rect x="364" y="150" width="0.9" height="202" fill="url(#lenv)"/>
<line x1="41" x2="374" y1="329.86" y2="329.86" stroke="#505050" stroke-opacity="0.22" stroke-width="1" stroke-dasharray="5,5"/>
<line x1="41" x2="374" y1="307.52" y2="307.52" stroke="#505050" stroke-opacity="0.22" stroke-width="1" stroke-dasharray="5,5"/>
<line x1="41" x2="374" y1="285.18" y2="285.18" stroke="#505050" stroke-opacity="0.22" stroke-width="1" stroke-dasharray="5,5"/>
<line x1="41" x2="374" y1="262.84" y2="262.84" stroke="#505050" stroke-opacity="0.22" stroke-width="1" stroke-dasharray="5,5"/>
<line x1="41" x2="374" y1="240.50" y2="240.50" stroke="#505050" stroke-opacity="0.22" stroke-width="1" stroke-dasharray="5,5"/>
<line x1="41" x2="374" y1="218.16" y2="218.16" stroke="#505050" stroke-opacity="0.22" stroke-width="1" stroke-dasharray="5,5"/>
<line x1="41" x2="374" y1="195.82" y2="195.82" stroke="#505050" stroke-opacity="0.22" stroke-width="1" stroke-dasharray="5,5"/>
<line x1="41" x2="374" y1="173.48" y2="173.48" stroke="#505050" stroke-opacity="0.22" stroke-width="1" stroke-dasharray="5,5"/>
<line x1="41" x2="374" y1="151.14" y2="151.14" stroke="#505050" stroke-opacity="0.22" stroke-width="1" stroke-dasharray="5,5"/>
<line x1="41" x2="374" y1="128.80" y2="128.80" stroke="#505050" stroke-opacity="0.22" stroke-width="1" stroke-dasharray="5,5"/>
<line x1="41" x2="374" y1="106.46" y2="106.46" stroke="#505050" stroke-opacity="0.22" stroke-width="1" stroke-dasharray="5,5"/>
<line x1="41" x2="374" y1="84.12" y2="84.12" stroke="#505050" stroke-opacity="0.22" stroke-width="1" stroke-dasharray="5,5"/>
<line x1="41" x2="374" y1="61.78" y2="61.78" stroke="#505050" stroke-opacity="0.22" stroke-width="1" stroke-dasharray="5,5"/>
<line x1="41" x2="374" y1="39.44" y2="39.44" stroke="#505050" stroke-opacity="0.22" stroke-width="1" stroke-dasharray="5,5"/>
<line x1="41" x2="364" y1="157.25" y2="157.25" stroke="#222" stroke-width="1" stroke-dasharray="2,3"/>
<path d="M40.50,229.00 L41.00,230.00 L42.50,246.25 L44.00,257.50 L45.60,245.00 L47.50,231.25 L48.75,222.50 L49.75,221.90 L50.60,208.75 L51.90,200.00 L53.75,201.25 L55.90,200.00 L56.90,203.00 L58.10,211.25 L59.00,213.75 L59.75,208.75 L60.60,214.40 L61.90,198.75 L62.90,188.75 L63.75,198.75 L65.00,213.75 L65.90,217.50 L66.60,216.90 L67.50,227.50 L68.50,237.50 L69.10,231.00 L69.50,205.00 L70.20,180.00 L71.25,130.00 L71.90,90.00 L73.50,63.75 L75.60,63.10 L76.00,60.60 L78.75,56.90 L79.75,55.00 L80.60,51.60 L81.90,52.50 L83.75,53.50 L85.00,65.00 L86.90,77.50 L88.10,83.50 L89.40,93.75 L91.00,96.90 L92.25,105.00 L93.50,110.60 L94.75,110.00 L96.00,105.60 L97.25,104.75 L99.40,106.25 L101.90,108.75 L103.50,111.90 L104.40,114.40 L106.50,115.00 L107.50,121.25 L108.10,130.00 L109.40,145.00 L110.60,160.00 L111.90,170.00 L112.75,177.50 L113.75,167.50 L115.00,152.50 L116.25,137.50 L116.90,130.00 L118.10,126.90 L119.40,126.25 L120.60,128.75 L121.20,131.00 L122.50,136.25 L125.00,143.75 L126.90,150.00 L128.50,158.10 L129.00,163.10 L130.60,164.40 L132.50,168.75 L134.40,176.25 L135.60,188.75 L137.50,190.00 L138.75,180.00 L140.00,172.50 L141.00,166.25 L142.50,165.00 L144.40,162.75 L145.40,167.50 L146.25,162.50 L147.25,156.25 L148.50,153.75 L149.60,147.50 L150.60,142.50 L151.90,139.40 L153.10,135.00 L154.10,137.50 L155.00,143.75 L156.25,156.25 L157.50,166.25 L158.50,171.90 L160.00,174.40 L161.90,177.25 L163.10,174.40 L164.40,170.00 L165.60,162.50 L166.90,150.00 L168.10,146.25 L169.40,141.25 L170.60,139.75 L171.90,138.10 L173.10,140.00 L174.75,140.60 L175.60,136.25 L176.25,127.50 L176.90,121.90 L178.10,120.60 L179.40,116.90 L180.25,116.25 L181.25,118.75 L182.50,119.40 L183.50,126.25 L184.75,130.00 L185.60,125.00 L186.50,119.40 L187.75,118.75 L189.00,121.25 L190.00,128.75 L191.00,140.00 L192.25,152.50 L193.50,163.75 L194.40,168.10 L195.60,161.25 L196.90,150.00 L197.90,145.00 L198.75,150.00 L200.00,161.25 L201.25,172.50 L202.50,195.00 L203.75,210.00 L205.00,217.50 L206.50,225.00 L207.50,222.50 L208.40,192.50 L208.75,155.00 L209.40,122.50 L210.60,107.50 L211.90,95.00 L213.10,93.10 L214.40,96.25 L215.60,106.25 L216.90,118.75 L218.10,130.00 L219.00,142.50 L220.00,161.25 L221.25,185.00 L221.90,205.00 L222.75,221.25 L224.40,219.40 L225.60,217.50 L226.90,207.50 L228.10,192.50 L229.10,180.00 L230.00,167.50 L231.25,155.00 L232.50,142.50 L234.40,133.75 L235.00,127.50 L236.25,118.75 L237.50,111.90 L238.50,113.10 L239.40,121.25 L240.60,125.00 L241.90,134.00 L243.10,141.25 L244.40,153.75 L245.60,166.25 L246.25,170.60 L248.10,171.25 L249.00,165.00 L249.40,154.40 L250.40,153.10 L251.25,138.00 L251.90,122.50 L253.10,107.50 L254.40,97.50 L255.25,90.00 L256.25,86.25 L257.50,82.75 L258.75,83.10 L259.75,89.40 L261.25,91.25 L262.50,96.25 L264.40,106.25 L266.25,116.25 L268.10,125.00 L269.40,130.00 L270.25,138.75 L271.25,143.75 L272.25,155.00 L273.10,165.00 L273.75,170.60 L274.75,165.00 L275.60,161.25 L276.90,160.00 L278.10,166.25 L279.10,161.25 L280.00,146.25 L281.00,133.75 L281.90,125.00 L283.10,112.50 L284.40,100.00 L285.40,87.50 L286.25,83.50 L287.25,85.00 L288.10,87.50 L289.40,87.50 L290.60,86.50 L291.50,90.00 L292.50,97.50 L293.75,106.25 L294.75,112.50 L295.25,117.50 L295.60,127.00 L296.90,132.50 L297.75,137.50 L298.75,148.75 L300.00,162.50 L301.00,167.50 L301.90,162.50 L302.75,152.50 L303.75,142.50 L305.00,139.40 L306.50,134.40 L307.50,127.00 L308.50,123.75 L309.50,129.00 L310.00,133.75 L311.25,141.25 L312.50,150.00 L313.75,162.50 L315.00,178.00 L316.25,185.00 L318.10,187.50 L319.75,190.60 L321.00,196.25 L322.50,205.00 L324.40,202.50 L326.00,204.40 L327.25,211.25 L328.75,217.50 L330.00,221.25 L331.25,230.00 L333.75,250.00 L336.25,266.25 L338.00,269.50 L340.00,267.50 L341.75,250.00 L343.75,233.75 L345.50,232.50 L347.00,242.50 L349.25,267.50 L351.25,255.00 L353.00,260.00 L355.00,261.25 L356.75,272.50 L358.25,267.50 L358.90,255.00 L359.30,235.00 L359.70,210.00 L360.10,190.00 L361.20,165.00 L362.00,155.00 L363.00,120.00 L364.25,77.50" fill="none" stroke="#b9dc00" stroke-width="2.2" stroke-linejoin="round" stroke-linecap="round"/>
<path d="M40,352.5 L365,352.5 L365,386 Q365,389 362,389 L43,389 Q40,389 40,386Z" fill="url(#cbar)"/>
<rect x="40" y="31" width="1.2" height="321.5" fill="#000"/>
<rect x="30" y="351.7" width="345" height="1.2" fill="#000"/>
<text x="25.8" y="356.10" text-anchor="end" font-family="Liberation Sans, sans-serif" font-size="10" fill="#000">0,0</text>
<rect x="30" y="329.26" width="10" height="1.2" fill="#000"/>
<text x="25.8" y="333.76" text-anchor="end" font-family="Liberation Sans, sans-serif" font-size="10" fill="#000">1,0</text>
<rect x="30" y="306.92" width="10" height="1.2" fill="#000"/>
<text x="25.8" y="311.42" text-anchor="end" font-family="Liberation Sans, sans-serif" font-size="10" fill="#000">2,0</text>
<rect x="30" y="284.58" width="10" height="1.2" fill="#000"/>
<text x="25.8" y="289.08" text-anchor="end" font-family="Liberation Sans, sans-serif" font-size="10" fill="#000">3,0</text>
<rect x="30" y="262.24" width="10" height="1.2" fill="#000"/>
<text x="25.8" y="266.74" text-anchor="end" font-family="Liberation Sans, sans-serif" font-size="10" fill="#000">4,0</text>
<rect x="30" y="239.90" width="10" height="1.2" fill="#000"/>
<text x="25.8" y="244.40" text-anchor="end" font-family="Liberation Sans, sans-serif" font-size="10" fill="#000">5,0</text>
<rect x="30" y="217.56" width="10" height="1.2" fill="#000"/>
<text x="25.8" y="222.06" text-anchor="end" font-family="Liberation Sans, sans-serif" font-size="10" fill="#000">6,0</text>
<rect x="30" y="195.22" width="10" height="1.2" fill="#000"/>
<text x="25.8" y="199.72" text-anchor="end" font-family="Liberation Sans, sans-serif" font-size="10" fill="#000">7,0</text>
<rect x="30" y="172.88" width="10" height="1.2" fill="#000"/>
<text x="25.8" y="177.38" text-anchor="end" font-family="Liberation Sans, sans-serif" font-size="10" fill="#000">8,0</text>
<rect x="30" y="150.54" width="10" height="1.2" fill="#000"/>
<text x="25.8" y="155.04" text-anchor="end" font-family="Liberation Sans, sans-serif" font-size="10" fill="#000">9,0</text>
<rect x="30" y="128.20" width="10" height="1.2" fill="#000"/>
<text x="25.8" y="132.70" text-anchor="end" font-family="Liberation Sans, sans-serif" font-size="10" fill="#000">10,0</text>
<rect x="30" y="105.86" width="10" height="1.2" fill="#000"/>
<text x="25.8" y="110.36" text-anchor="end" font-family="Liberation Sans, sans-serif" font-size="10" fill="#000">11,0</text>
<rect x="30" y="83.52" width="10" height="1.2" fill="#000"/>
<text x="25.8" y="88.02" text-anchor="end" font-family="Liberation Sans, sans-serif" font-size="10" fill="#000">12,0</text>
<rect x="30" y="61.18" width="10" height="1.2" fill="#000"/>
<text x="25.8" y="65.68" text-anchor="end" font-family="Liberation Sans, sans-serif" font-size="10" fill="#000">13,0</text>
<rect x="30" y="38.84" width="10" height="1.2" fill="#000"/>
<text x="25.8" y="43.34" text-anchor="end" font-family="Liberation Sans, sans-serif" font-size="10" fill="#000">14,0</text>
<rect x="40.00" y="352" width="1" height="5" fill="#000"/>
<text x="41.00" y="370" text-anchor="middle" font-family="Liberation Sans, sans-serif" font-size="10" fill="#000">0,0</text>
<rect x="84.00" y="352" width="1" height="5" fill="#000"/>
<text x="85.00" y="370" text-anchor="middle" font-family="Liberation Sans, sans-serif" font-size="10" fill="#000">2,5</text>
<rect x="128.00" y="352" width="1" height="5" fill="#000"/>
<text x="129.00" y="370" text-anchor="middle" font-family="Liberation Sans, sans-serif" font-size="10" fill="#000">5,0</text>
<rect x="172.00" y="352" width="1" height="5" fill="#000"/>
<text x="173.00" y="370" text-anchor="middle" font-family="Liberation Sans, sans-serif" font-size="10" fill="#000">7,5</text>
<rect x="216.00" y="352" width="1" height="5" fill="#000"/>
<text x="217.00" y="370" text-anchor="middle" font-family="Liberation Sans, sans-serif" font-size="10" fill="#000">10,0</text>
<rect x="260.00" y="352" width="1" height="5" fill="#000"/>
<text x="261.00" y="370" text-anchor="middle" font-family="Liberation Sans, sans-serif" font-size="10" fill="#000">12,5</text>
<rect x="304.00" y="352" width="1" height="5" fill="#000"/>
<text x="305.00" y="370" text-anchor="middle" font-family="Liberation Sans, sans-serif" font-size="10" fill="#000">15,0</text>
<rect x="348.00" y="352" width="1" height="5" fill="#000"/>
<text x="349.00" y="370" text-anchor="middle" font-family="Liberation Sans, sans-serif" font-size="10" fill="#000">17,5</text>
<rect x="40" y="352.7" width="325" height="6" fill="url(#bg)" opacity="0"/>
<text x="123" y="385" text-anchor="middle" font-family="Liberation Sans, sans-serif" font-size="10" fill="#111">Circuit 1</text>
<text x="281" y="385" text-anchor="middle" font-family="Liberation Sans, sans-serif" font-size="10" fill="#111">Circuit 1</text>
<rect x="413.5" y="52" width="10" height="300" fill="url(#rband)"/>
<path d="M424.60,280.00 L424.85,259.69 L425.10,239.37 L425.35,219.06 L425.35,241.67 L425.10,261.11 L424.85,280.56 L424.60,300.00Z" fill="#bedaf2"/>
<path d="M425.35,219.06 L425.60,203.75 L425.85,192.59 L425.85,224.75 L425.60,228.50 L425.35,241.67Z" fill="#6ea6ea"/>
<path d="M425.85,192.59 L426.10,193.06 L426.35,193.53 L426.60,194.00 L426.85,199.63 L427.10,205.25 L427.10,233.00 L426.85,225.50 L426.60,218.00 L426.35,217.25 L426.10,221.00 L425.85,224.75Z" fill="#8cb291"/>
<path d="M427.10,205.25 L427.35,207.50 L427.60,207.50 L427.85,207.50 L428.10,201.03 L428.35,192.94 L428.35,214.43 L428.10,222.50 L427.85,231.87 L427.60,241.25 L427.35,240.50 L427.10,233.00Z" fill="#6ea6ea"/>
<path d="M428.35,192.94 L428.60,184.85 L428.85,178.50 L428.85,208.71 L428.60,211.57 L428.35,214.43Z" fill="#8cb291"/>
<path d="M428.85,178.50 L429.10,174.75 L429.35,171.00 L429.60,167.25 L429.85,163.50 L429.85,196.80 L429.60,199.80 L429.35,202.80 L429.10,205.80 L428.85,208.71Z" fill="#c4de1e"/>
<path d="M429.85,163.50 L430.10,160.25 L430.35,157.75 L430.60,155.25 L430.85,152.75 L430.85,184.80 L430.60,187.80 L430.35,190.80 L430.10,193.80 L429.85,196.80Z" fill="#e2c61e"/>
<path d="M430.85,152.75 L431.10,150.25 L431.35,148.37 L431.60,147.43 L431.85,146.49 L432.10,145.55 L432.35,144.61 L432.60,143.66 L432.85,143.25 L433.10,143.63 L433.35,144.01 L433.60,144.39 L433.85,144.77 L434.10,145.15 L434.35,145.52 L434.60,145.92 L434.85,146.31 L435.10,146.71 L435.35,147.10 L435.60,147.50 L435.85,147.13 L436.10,146.77 L436.35,146.40 L436.60,146.04 L436.85,145.67 L437.10,145.67 L437.35,145.75 L437.60,145.83 L437.85,145.92 L438.10,146.00 L438.35,146.34 L438.60,146.67 L438.85,147.01 L439.10,147.35 L439.35,147.68 L439.60,147.59 L439.85,147.39 L440.10,147.18 L440.35,146.98 L440.60,146.78 L440.85,146.57 L441.10,146.37 L441.35,146.22 L441.60,146.15 L441.85,146.08 L442.10,146.00 L442.35,145.93 L442.60,145.86 L442.85,145.79 L443.10,145.72 L443.35,145.64 L443.60,146.15 L443.85,147.53 L444.10,148.91 L444.35,150.29 L444.60,151.67 L444.85,153.70 L445.10,156.70 L445.10,184.13 L444.85,183.30 L444.60,183.80 L444.35,184.30 L444.10,184.80 L443.85,185.30 L443.60,185.56 L443.35,185.66 L443.10,185.76 L442.85,185.86 L442.60,185.96 L442.35,186.06 L442.10,186.16 L441.85,186.26 L441.60,186.36 L441.35,186.46 L441.10,186.56 L440.85,186.66 L440.60,186.76 L440.35,186.86 L440.10,186.96 L439.85,186.91 L439.60,186.76 L439.35,186.61 L439.10,186.46 L438.85,186.31 L438.60,186.16 L438.35,186.01 L438.10,185.86 L437.85,185.71 L437.60,185.56 L437.35,185.53 L437.10,185.58 L436.85,185.63 L436.60,185.68 L436.35,185.73 L436.10,185.78 L435.85,185.83 L435.60,185.88 L435.35,185.93 L435.10,185.98 L434.85,185.88 L434.60,185.68 L434.35,185.48 L434.10,185.28 L433.85,185.08 L433.60,184.88 L433.35,184.68 L433.10,184.48 L432.85,184.28 L432.60,184.08 L432.35,183.52 L432.10,182.72 L431.85,181.92 L431.60,181.12 L431.35,180.32 L431.10,181.80 L430.85,184.80Z" fill="#f0a020"/>
<path d="M445.10,156.70 L445.35,159.70 L445.60,162.70 L445.85,165.70 L446.10,168.89 L446.10,195.47 L445.85,192.63 L445.60,189.80 L445.35,186.97 L445.10,184.13Z" fill="#e2c61e"/>
<path d="M446.10,168.89 L446.35,172.36 L446.60,175.83 L446.85,179.31 L447.10,193.33 L447.10,230.00 L446.85,217.50 L446.60,205.00 L446.35,198.30 L446.10,195.47Z" fill="#c4de1e"/>
<path d="M447.10,193.33 L447.35,210.00 L447.35,242.50 L447.10,230.00Z" fill="#8cb291"/>
<path d="M447.35,210.00 L447.60,224.71 L447.85,236.50 L447.85,268.20 L447.60,255.20 L447.35,242.50Z" fill="#6ea6ea"/>
<path d="M447.85,236.50 L448.10,248.29 L448.35,260.07 L448.60,271.86 L448.85,283.64 L449.10,295.43 L449.10,333.20 L448.85,320.20 L448.60,307.20 L448.35,294.20 L448.10,281.20 L447.85,268.20Z" fill="#bedaf2"/>
<path d="M449.10,295.43 L449.35,297.13 L449.60,283.70 L449.60,315.52 L449.35,333.72 L449.10,333.20Z" fill="#faf6f7"/>
<path d="M449.60,283.70 L449.85,270.28 L450.10,256.85 L450.35,243.43 L450.60,230.00 L450.60,245.00 L450.35,260.92 L450.10,279.12 L449.85,297.32 L449.60,315.52Z" fill="#bedaf2"/>
<path d="M450.60,230.00 L450.85,210.77 L451.10,191.54 L451.10,220.00 L450.85,232.50 L450.60,245.00Z" fill="#6ea6ea"/>
<path d="M451.10,191.54 L451.35,173.65 L451.35,207.50 L451.10,220.00Z" fill="#8cb291"/>
<path d="M451.35,173.65 L451.60,157.79 L451.60,203.00 L451.35,207.50Z" fill="#c4de1e"/>
<path d="M451.60,157.79 L451.85,141.92 L451.85,210.50 L451.60,203.00Z" fill="#e2c61e"/>
<path d="M451.85,141.92 L452.10,152.50 L452.35,169.69 L452.35,225.50 L452.10,218.00 L451.85,210.50Z" fill="#f0a020"/>
<path d="M452.35,169.69 L452.60,184.20 L452.60,233.00 L452.35,225.50Z" fill="#c4de1e"/>
<path d="M452.60,184.20 L452.85,194.70 L453.10,205.20 L453.10,248.00 L452.85,240.50 L452.60,233.00Z" fill="#8cb291"/>
<path d="M453.10,205.20 L453.35,215.70 L453.60,226.20 L453.85,236.25 L453.85,270.50 L453.60,263.00 L453.35,255.50 L453.10,248.00Z" fill="#6ea6ea"/>
<path d="M453.85,236.25 L454.10,245.63 L454.35,255.00 L454.60,264.38 L454.85,273.75 L455.10,283.13 L455.35,292.50 L455.35,319.63 L455.10,310.91 L454.85,302.20 L454.60,293.49 L454.35,285.50 L454.10,278.00 L453.85,270.50Z" fill="#bedaf2"/>
<path d="M455.35,292.50 L455.60,301.88 L455.85,311.25 L456.10,320.63 L456.35,317.75 L456.60,296.50 L456.85,275.25 L456.85,302.52 L456.60,322.72 L456.35,342.92 L456.10,345.77 L455.85,337.06 L455.60,328.34 L455.35,319.63Z" fill="#faf6f7"/>
<path d="M456.85,275.25 L457.10,254.00 L457.35,232.75 L457.35,262.12 L457.10,282.32 L456.85,302.52Z" fill="#bedaf2"/>
<path d="M457.35,232.75 L457.60,213.33 L457.85,196.67 L457.85,232.50 L457.60,245.00 L457.35,262.12Z" fill="#6ea6ea"/>
<path d="M457.85,196.67 L458.10,180.00 L458.10,220.00 L457.85,232.50Z" fill="#8cb291"/>
<path d="M458.10,180.00 L458.35,170.38 L458.60,160.77 L458.60,198.83 L458.35,207.50 L458.10,220.00Z" fill="#c4de1e"/>
<path d="M458.60,160.77 L458.85,151.43 L458.85,195.92 L458.60,198.83Z" fill="#e2c61e"/>
<path d="M458.85,151.43 L459.10,142.50 L459.35,142.33 L459.60,142.17 L459.85,142.00 L460.10,141.37 L460.35,140.04 L460.35,184.25 L460.10,183.00 L459.85,184.25 L459.60,187.17 L459.35,190.08 L459.10,193.00 L458.85,195.92Z" fill="#f0a020"/>
<path d="M460.35,140.04 L460.60,138.71 L460.85,137.38 L461.10,136.05 L461.35,136.37 L461.60,139.15 L461.85,141.94 L461.85,191.75 L461.60,190.50 L461.35,189.25 L461.10,188.00 L460.85,186.75 L460.60,185.50 L460.35,184.25Z" fill="#ec8c3a"/>
<path d="M461.85,141.94 L462.10,144.58 L462.35,147.19 L462.60,149.79 L462.85,152.40 L463.10,155.00 L463.35,155.53 L463.35,195.57 L463.10,195.40 L462.85,195.23 L462.60,195.07 L462.35,194.25 L462.10,193.00 L461.85,191.75Z" fill="#f0a020"/>
<path d="M463.35,155.53 L463.60,156.06 L463.85,156.58 L464.10,156.88 L464.35,156.81 L464.60,156.75 L464.85,156.69 L465.10,156.62 L465.35,156.56 L465.60,156.50 L465.85,156.47 L466.10,156.43 L466.35,156.40 L466.60,156.37 L466.85,156.34 L467.10,156.30 L467.35,156.27 L467.60,156.00 L467.85,155.37 L468.10,154.74 L468.10,194.40 L467.85,194.65 L467.60,194.90 L467.35,195.15 L467.10,195.40 L466.85,195.65 L466.60,195.90 L466.35,196.15 L466.10,196.40 L465.85,196.65 L465.60,196.90 L465.35,196.90 L465.10,196.73 L464.85,196.57 L464.60,196.40 L464.35,196.23 L464.10,196.07 L463.85,195.90 L463.60,195.73 L463.35,195.57Z" fill="#e2c61e"/>
<path d="M468.10,154.74 L468.35,154.11 L468.60,153.48 L468.85,152.75 L469.10,151.88 L469.35,151.01 L469.60,150.14 L469.85,149.27 L470.10,148.06 L470.35,146.32 L470.60,144.58 L470.85,142.85 L471.10,135.36 L471.10,190.22 L470.85,190.60 L470.60,190.97 L470.35,191.35 L470.10,191.72 L469.85,192.10 L469.60,192.47 L469.35,192.85 L469.10,193.22 L468.85,193.60 L468.60,193.90 L468.35,194.15 L468.10,194.40Z" fill="#f0a020"/>
<path d="M471.10,135.36 L471.35,126.27 L471.35,189.95 L471.10,190.22Z" fill="#ec8c3a"/>
<path d="M471.35,126.27 L471.60,116.93 L471.85,107.60 L472.10,98.00 L472.35,88.00 L472.60,78.00 L472.85,69.25 L473.10,65.50 L473.35,61.75 L473.60,58.00 L473.85,61.13 L474.10,64.25 L474.35,67.38 L474.60,76.00 L474.85,86.00 L475.10,96.00 L475.35,105.63 L475.60,115.00 L475.85,124.38 L476.10,132.08 L476.10,189.47 L475.85,189.13 L475.60,188.80 L475.35,188.47 L475.10,188.13 L474.85,188.08 L474.60,188.21 L474.35,188.35 L474.10,188.48 L473.85,188.61 L473.60,188.75 L473.35,188.88 L473.10,189.01 L472.85,189.15 L472.60,189.28 L472.35,189.41 L472.10,189.55 L471.85,189.68 L471.60,189.81 L471.35,189.95Z" fill="#f7e0e0"/>
<path d="M476.10,132.08 L476.35,137.29 L476.60,142.50 L476.60,192.00 L476.35,189.80 L476.10,189.47Z" fill="#ec8c3a"/>
<path d="M476.60,142.50 L476.85,147.71 L477.10,156.67 L477.10,202.00 L476.85,197.00 L476.60,192.00Z" fill="#f0a020"/>
<path d="M477.10,156.67 L477.35,166.56 L477.35,207.00 L477.10,202.00Z" fill="#e2c61e"/>
<path d="M477.35,166.56 L477.60,171.75 L477.85,169.87 L478.10,168.00 L478.35,166.12 L478.60,164.10 L478.60,196.29 L478.35,200.21 L478.10,204.14 L477.85,208.07 L477.60,212.00 L477.35,207.00Z" fill="#c4de1e"/>
<path d="M478.60,164.10 L478.85,161.85 L479.10,159.60 L479.35,157.35 L479.60,155.54 L479.85,153.84 L479.85,188.67 L479.60,188.19 L479.35,188.60 L479.10,189.60 L478.85,192.36 L478.60,196.29Z" fill="#e2c61e"/>
<path d="M479.85,153.84 L480.10,152.15 L480.35,150.45 L480.60,148.75 L480.85,147.29 L481.10,145.83 L481.35,144.37 L481.60,144.40 L481.85,146.65 L482.10,148.90 L482.35,151.15 L482.60,152.65 L482.85,153.03 L483.10,153.41 L483.35,153.79 L483.60,154.17 L483.85,154.70 L484.10,155.44 L484.10,196.42 L483.85,196.00 L483.60,195.58 L483.35,195.17 L483.10,194.75 L482.85,194.33 L482.60,193.92 L482.35,193.46 L482.10,192.98 L481.85,192.50 L481.60,192.03 L481.35,191.55 L481.10,191.07 L480.85,190.59 L480.60,190.11 L480.35,189.63 L480.10,189.15 L479.85,188.67Z" fill="#f0a020"/>
<path d="M484.10,155.44 L484.35,156.18 L484.60,156.92 L484.85,157.66 L485.10,158.25 L485.35,158.63 L485.60,159.01 L485.85,159.39 L486.10,159.77 L486.35,159.79 L486.60,159.28 L486.85,158.76 L487.10,158.24 L487.35,157.73 L487.60,157.21 L487.85,156.75 L488.10,156.37 L488.35,155.99 L488.60,155.61 L488.85,155.23 L489.10,154.85 L489.10,196.20 L488.85,196.53 L488.60,196.87 L488.35,197.20 L488.10,197.53 L487.85,197.87 L487.60,198.20 L487.35,198.53 L487.10,198.87 L486.85,199.20 L486.60,199.53 L486.35,199.87 L486.10,199.75 L485.85,199.33 L485.60,198.92 L485.35,198.50 L485.10,198.08 L484.85,197.67 L484.60,197.25 L484.35,196.83 L484.10,196.42Z" fill="#e2c61e"/>
<path d="M489.10,154.85 L489.35,154.48 L489.60,154.29 L489.85,154.16 L490.10,154.02 L490.35,153.89 L490.60,153.75 L490.85,154.08 L491.10,154.41 L491.35,154.74 L491.60,155.07 L491.60,195.85 L491.35,195.72 L491.10,195.59 L490.85,195.45 L490.60,195.32 L490.35,195.19 L490.10,195.05 L489.85,195.20 L489.60,195.53 L489.35,195.87 L489.10,196.20Z" fill="#f0a020"/>
<path d="M491.60,155.07 L491.85,155.39 L492.10,155.72 L492.35,156.05 L492.60,156.28 L492.85,156.37 L493.10,156.46 L493.35,156.54 L493.60,156.63 L493.85,156.71 L494.10,156.80 L494.35,156.88 L494.60,156.48 L494.85,155.96 L495.10,155.44 L495.35,154.92 L495.35,195.08 L495.10,195.38 L494.85,195.68 L494.60,195.98 L494.35,196.28 L494.10,196.58 L493.85,196.88 L493.60,196.92 L493.35,196.79 L493.10,196.65 L492.85,196.52 L492.60,196.39 L492.35,196.25 L492.10,196.12 L491.85,195.99 L491.60,195.85Z" fill="#e2c61e"/>
<path d="M495.35,154.92 L495.60,154.40 L495.85,152.11 L496.10,149.82 L496.35,147.53 L496.60,145.25 L496.85,142.96 L497.10,140.00 L497.10,192.98 L496.85,193.28 L496.60,193.58 L496.35,193.88 L496.10,194.18 L495.85,194.48 L495.60,194.78 L495.35,195.08Z" fill="#f0a020"/>
<path d="M497.10,140.00 L497.35,136.87 L497.60,133.75 L497.85,130.62 L497.85,191.10 L497.60,192.10 L497.35,192.68 L497.10,192.98Z" fill="#ec8c3a"/>
<path d="M497.85,130.62 L498.10,127.50 L498.35,124.95 L498.60,124.69 L498.85,124.43 L499.10,124.17 L499.35,123.91 L499.60,125.00 L499.85,128.13 L500.10,132.08 L500.10,182.69 L499.85,183.10 L499.60,184.10 L499.35,185.10 L499.10,186.10 L498.85,187.10 L498.60,188.10 L498.35,189.10 L498.10,190.10 L497.85,191.10Z" fill="#f7e0e0"/>
<path d="M500.10,132.08 L500.35,137.29 L500.60,142.50 L500.60,183.63 L500.35,183.16 L500.10,182.69Z" fill="#ec8c3a"/>
<path d="M500.60,142.50 L500.85,149.71 L501.10,156.92 L501.10,189.47 L500.85,184.91 L500.60,183.63Z" fill="#f0a020"/>
<path d="M501.10,156.92 L501.35,162.25 L501.60,164.75 L501.85,167.25 L501.85,203.15 L501.60,198.59 L501.35,194.03 L501.10,189.47Z" fill="#e2c61e"/>
<path d="M501.85,167.25 L502.10,169.75 L502.35,172.25 L502.60,174.10 L502.85,174.97 L503.10,175.84 L503.35,176.71 L503.60,177.58 L503.85,178.15 L504.10,178.28 L504.35,178.41 L504.60,178.54 L504.85,178.67 L505.10,178.15 L505.35,176.65 L505.60,175.15 L505.85,173.65 L506.10,172.15 L506.35,169.95 L506.60,166.70 L506.85,163.45 L506.85,204.85 L506.60,209.60 L506.35,214.35 L506.10,216.46 L505.85,216.82 L505.60,217.18 L505.35,217.54 L505.10,217.89 L504.85,218.25 L504.60,218.61 L504.35,218.47 L504.10,218.00 L503.85,217.53 L503.60,217.06 L503.35,216.59 L503.10,216.13 L502.85,215.66 L502.60,215.19 L502.35,212.26 L502.10,207.71 L501.85,203.15Z" fill="#c4de1e"/>
<path d="M506.85,163.45 L507.10,160.20 L507.35,156.95 L507.60,154.63 L507.60,192.30 L507.35,195.35 L507.10,200.10 L506.85,204.85Z" fill="#e2c61e"/>
<path d="M507.60,154.63 L507.85,153.69 L508.10,152.76 L508.35,151.83 L508.60,150.89 L508.85,149.96 L509.10,149.45 L509.35,149.57 L509.60,149.69 L509.85,149.81 L510.10,149.93 L510.35,150.38 L510.60,151.31 L510.85,152.25 L511.10,153.19 L511.35,153.80 L511.60,153.93 L511.85,154.06 L512.10,154.19 L512.35,154.32 L512.60,154.11 L512.85,153.37 L513.10,152.64 L513.35,151.91 L513.60,151.17 L513.85,150.44 L514.10,149.40 L514.35,147.90 L514.60,146.40 L514.85,144.90 L515.10,143.40 L515.35,141.25 L515.60,138.12 L515.60,187.80 L515.35,187.68 L515.10,187.55 L514.85,187.87 L514.60,188.50 L514.35,189.12 L514.10,189.75 L513.85,190.37 L513.60,191.00 L513.35,191.62 L513.10,192.25 L512.85,192.87 L512.60,193.50 L512.35,193.60 L512.10,193.35 L511.85,193.10 L511.60,192.85 L511.35,192.60 L511.10,192.35 L510.85,192.10 L510.60,191.85 L510.35,191.60 L510.10,191.35 L509.85,191.10 L509.60,190.85 L509.35,190.60 L509.10,190.35 L508.85,190.10 L508.60,190.30 L508.35,190.80 L508.10,191.30 L507.85,191.80 L507.60,192.30Z" fill="#f0a020"/>
<path d="M515.60,138.12 L515.85,135.00 L516.10,131.87 L516.10,188.05 L515.85,187.93 L515.60,187.80Z" fill="#ec8c3a"/>
<path d="M516.10,131.87 L516.35,126.92 L516.60,119.23 L516.85,111.54 L517.10,106.00 L517.35,101.00 L517.60,98.70 L517.85,100.45 L518.10,102.20 L518.35,103.95 L518.60,106.70 L518.85,110.95 L519.10,115.20 L519.35,119.45 L519.60,123.60 L519.85,127.60 L520.10,132.08 L520.10,190.20 L519.85,189.93 L519.60,189.80 L519.35,189.68 L519.10,189.55 L518.85,189.43 L518.60,189.30 L518.35,189.18 L518.10,189.05 L517.85,188.93 L517.60,188.80 L517.35,188.68 L517.10,188.55 L516.85,188.43 L516.60,188.30 L516.35,188.18 L516.10,188.05Z" fill="#f7e0e0"/>
<path d="M520.10,132.08 L520.35,137.29 L520.60,142.50 L520.60,191.20 L520.35,190.70 L520.10,190.20Z" fill="#ec8c3a"/>
<path d="M520.60,142.50 L520.85,146.35 L521.10,150.19 L521.35,152.55 L521.60,152.67 L521.85,152.79 L522.10,152.91 L522.35,153.03 L522.60,153.75 L522.85,155.38 L522.85,195.70 L522.60,195.20 L522.35,194.70 L522.10,194.20 L521.85,193.70 L521.60,193.20 L521.35,192.70 L521.10,192.20 L520.85,191.70 L520.60,191.20Z" fill="#f0a020"/>
<path d="M522.85,155.38 L523.10,157.01 L523.35,158.64 L523.60,160.27 L523.85,161.75 L524.10,163.00 L524.35,164.25 L524.60,165.50 L524.85,166.75 L524.85,205.75 L524.60,203.88 L524.35,202.00 L524.10,200.13 L523.85,198.25 L523.60,197.20 L523.35,196.70 L523.10,196.20 L522.85,195.70Z" fill="#e2c61e"/>
<path d="M524.85,166.75 L525.10,168.00 L525.35,169.25 L525.60,170.50 L525.85,171.75 L526.10,173.00 L526.35,174.25 L526.60,175.50 L526.85,176.75 L527.10,178.00 L527.35,179.25 L527.60,179.40 L527.85,177.90 L528.10,176.40 L528.35,174.90 L528.60,173.40 L528.85,172.10 L529.10,171.10 L529.35,170.10 L529.60,169.10 L529.85,168.10 L530.10,167.45 L530.35,167.33 L530.60,167.21 L530.85,167.09 L531.10,166.97 L531.35,166.65 L531.60,166.02 L531.85,165.39 L531.85,203.58 L531.60,204.00 L531.35,204.42 L531.10,204.83 L530.85,205.25 L530.60,205.67 L530.35,206.08 L530.10,206.50 L529.85,206.92 L529.60,207.33 L529.35,208.44 L529.10,210.00 L528.85,211.56 L528.60,213.12 L528.35,214.69 L528.10,216.25 L527.85,217.81 L527.60,219.37 L527.35,219.55 L527.10,218.80 L526.85,218.05 L526.60,217.30 L526.35,216.55 L526.10,215.13 L525.85,213.25 L525.60,211.38 L525.35,209.50 L525.10,207.63 L524.85,205.75Z" fill="#c4de1e"/>
<path d="M531.85,165.39 L532.10,164.76 L532.35,164.13 L532.60,163.54 L532.85,163.01 L533.10,162.49 L533.35,161.96 L533.60,161.44 L533.85,160.91 L534.10,159.73 L534.35,157.55 L534.60,155.38 L534.85,153.20 L534.85,204.85 L534.60,204.60 L534.35,204.35 L534.10,204.10 L533.85,203.85 L533.60,203.60 L533.35,203.35 L533.10,203.10 L532.85,202.85 L532.60,202.60 L532.35,202.75 L532.10,203.17 L531.85,203.58Z" fill="#e2c61e"/>
<path d="M534.85,153.20 L535.10,151.90 L535.35,151.90 L535.60,151.90 L535.85,151.90 L536.10,153.02 L536.35,154.42 L536.60,155.82 L536.60,203.93 L536.35,204.10 L536.10,204.27 L535.85,204.43 L535.60,204.60 L535.35,204.77 L535.10,204.93 L534.85,204.85Z" fill="#f0a020"/>
<path d="M536.60,155.82 L536.85,157.22 L537.10,159.56 L537.35,162.13 L537.60,164.71 L537.85,165.75 L538.10,164.50 L538.35,163.25 L538.60,162.00 L538.85,161.18 L539.10,161.02 L539.35,160.86 L539.60,160.70 L539.85,161.71 L540.10,164.47 L540.35,167.24 L540.35,197.93 L540.10,198.64 L539.85,199.36 L539.60,200.07 L539.35,200.79 L539.10,201.50 L538.85,202.21 L538.60,202.60 L538.35,202.77 L538.10,202.93 L537.85,203.10 L537.60,203.27 L537.35,203.43 L537.10,203.60 L536.85,203.77 L536.60,203.93Z" fill="#e2c61e"/>
<path d="M540.35,167.24 L540.60,170.00 L540.85,174.17 L541.10,178.33 L541.35,182.50 L541.35,211.31 L541.10,207.25 L540.85,203.19 L540.60,199.13 L540.35,197.93Z" fill="#c4de1e"/>
<path d="M541.35,182.50 L541.60,187.25 L541.85,192.88 L542.10,198.50 L542.35,204.13 L542.35,227.56 L542.10,223.50 L541.85,219.44 L541.60,215.38 L541.35,211.31Z" fill="#8cb291"/>
<path d="M542.35,204.13 L542.60,208.93 L542.85,212.50 L543.10,216.07 L543.35,219.64 L543.60,223.21 L543.85,226.79 L544.10,230.36 L544.35,230.50 L544.60,225.50 L544.85,220.50 L545.10,215.50 L545.35,210.50 L545.60,203.83 L545.85,194.67 L545.85,242.79 L545.60,247.43 L545.35,252.07 L545.10,256.71 L544.85,261.36 L544.60,266.00 L544.35,270.64 L544.10,268.86 L543.85,262.79 L543.60,256.71 L543.35,250.64 L543.10,244.57 L542.85,238.50 L542.60,232.43 L542.35,227.56Z" fill="#6ea6ea"/>
<path d="M545.85,194.67 L546.10,185.50 L546.35,178.87 L546.35,230.67 L546.10,237.33 L545.85,242.79Z" fill="#8cb291"/>
<path d="M546.35,178.87 L546.60,176.06 L546.85,173.25 L547.10,170.44 L547.35,168.67 L547.60,168.48 L547.85,168.29 L548.10,168.10 L548.35,169.19 L548.60,170.27 L548.85,171.36 L549.10,172.45 L549.35,173.53 L549.60,174.58 L549.85,175.63 L550.10,176.67 L550.35,177.71 L550.60,178.75 L550.85,179.10 L551.10,179.44 L551.35,179.79 L551.60,180.50 L551.85,181.75 L551.85,231.10 L551.60,229.60 L551.35,228.10 L551.10,226.60 L550.85,225.10 L550.60,223.60 L550.35,222.10 L550.10,220.60 L549.85,218.80 L549.60,216.80 L549.35,214.80 L549.10,212.80 L548.85,210.80 L548.60,208.80 L548.35,206.80 L548.10,204.80 L547.85,202.80 L547.60,200.80 L547.35,204.00 L547.10,210.67 L546.85,217.33 L546.60,224.00 L546.35,230.67Z" fill="#c4de1e"/>
<path d="M551.85,181.75 L552.10,183.00 L552.35,184.25 L552.60,185.94 L552.85,188.28 L553.10,190.63 L553.35,192.97 L553.60,195.31 L553.85,197.66 L554.10,200.00 L554.35,202.34 L554.35,236.50 L554.10,239.00 L553.85,241.50 L553.60,241.60 L553.35,240.10 L553.10,238.60 L552.85,237.10 L552.60,235.60 L552.35,234.10 L552.10,232.60 L551.85,231.10Z" fill="#8cb291"/>
<path d="M554.35,202.34 L554.60,202.82 L554.85,200.50 L554.85,231.50 L554.60,234.00 L554.35,236.50Z" fill="#6ea6ea"/>
<path d="M554.85,200.50 L555.10,198.18 L555.35,195.86 L555.60,193.54 L555.85,191.21 L556.10,188.89 L556.35,188.21 L556.60,190.00 L556.85,191.79 L557.10,193.57 L557.35,195.36 L557.60,197.14 L557.85,198.93 L558.10,197.33 L558.35,190.67 L558.60,184.00 L558.85,179.30 L558.85,222.31 L558.60,225.12 L558.35,227.94 L558.10,230.75 L557.85,233.56 L557.60,236.37 L557.35,236.56 L557.10,235.00 L556.85,233.44 L556.60,231.88 L556.35,230.31 L556.10,228.75 L555.85,227.19 L555.60,225.63 L555.35,226.50 L555.10,229.00 L554.85,231.50Z" fill="#8cb291"/>
<path d="M558.85,179.30 L559.10,177.55 L559.35,175.80 L559.60,174.05 L559.85,172.30 L560.10,169.95 L560.35,166.70 L560.60,163.45 L560.60,199.29 L560.35,202.86 L560.10,206.43 L559.85,210.00 L559.60,213.57 L559.35,216.69 L559.10,219.50 L558.85,222.31Z" fill="#c4de1e"/>
<path d="M560.60,163.45 L560.85,160.20 L561.10,156.95 L561.35,153.75 L561.35,190.13 L561.10,192.14 L560.85,195.71 L560.60,199.29Z" fill="#e2c61e"/>
<path d="M561.35,153.75 L561.60,150.62 L561.85,147.50 L562.10,144.37 L562.35,142.14 L562.60,141.22 L562.85,140.31 L562.85,192.13 L562.60,191.80 L562.35,191.47 L562.10,191.13 L561.85,190.80 L561.60,190.47 L561.35,190.13Z" fill="#f0a020"/>
<path d="M562.85,140.31 L563.10,139.40 L563.35,140.61 L563.60,141.82 L563.60,193.13 L563.35,192.80 L563.10,192.47 L562.85,192.13Z" fill="#ec8c3a"/>
<path d="M563.60,141.82 L563.85,143.03 L564.10,144.88 L564.35,147.69 L564.60,150.50 L564.85,153.31 L565.10,155.21 L565.10,194.90 L564.85,194.80 L564.60,194.47 L564.35,194.13 L564.10,193.80 L563.85,193.47 L563.60,193.13Z" fill="#f0a020"/>
<path d="M565.10,155.21 L565.35,155.73 L565.60,156.25 L565.85,155.16 L566.10,154.08 L566.10,193.90 L565.85,194.15 L565.60,194.40 L565.35,194.65 L565.10,194.90Z" fill="#e2c61e"/>
<path d="M566.10,154.08 L566.35,152.99 L566.60,151.90 L566.85,150.82 L567.10,150.25 L567.35,149.81 L567.60,149.37 L567.85,148.94 L568.10,148.50 L568.35,149.03 L568.60,149.56 L568.85,150.09 L569.10,150.62 L569.35,151.14 L569.60,152.19 L569.85,153.37 L570.10,154.55 L570.35,155.72 L570.35,190.25 L570.10,190.07 L569.85,190.15 L569.60,190.40 L569.35,190.65 L569.10,190.90 L568.85,191.15 L568.60,191.40 L568.35,191.65 L568.10,191.90 L567.85,192.15 L567.60,192.40 L567.35,192.65 L567.10,192.90 L566.85,193.15 L566.60,193.40 L566.35,193.65 L566.10,193.90Z" fill="#f0a020"/>
<path d="M570.35,155.72 L570.60,156.90 L570.85,155.21 L571.10,153.52 L571.10,190.79 L570.85,190.61 L570.60,190.43 L570.35,190.25Z" fill="#e2c61e"/>
<path d="M571.10,153.52 L571.35,151.18 L571.60,147.87 L571.85,144.56 L572.10,141.25 L572.35,140.86 L572.35,191.68 L572.10,191.50 L571.85,191.32 L571.60,191.14 L571.35,190.96 L571.10,190.79Z" fill="#f0a020"/>
<path d="M572.35,140.86 L572.60,140.47 L572.85,140.08 L573.10,142.06 L573.10,192.21 L572.85,192.04 L572.60,191.86 L572.35,191.68Z" fill="#ec8c3a"/>
<path d="M573.10,142.06 L573.35,144.63 L573.60,147.21 L573.85,150.38 L574.10,154.44 L574.35,158.50 L574.35,209.03 L574.10,204.17 L573.85,199.31 L573.60,194.44 L573.35,192.39 L573.10,192.21Z" fill="#f0a020"/>
<path d="M574.35,158.50 L574.60,162.56 L574.85,166.03 L574.85,210.80 L574.60,210.36 L574.35,209.03Z" fill="#e2c61e"/>
<path d="M574.85,166.03 L575.10,168.60 L575.35,171.18 L575.60,173.75 L575.85,171.32 L576.10,168.89 L576.35,166.46 L576.60,163.83 L576.60,200.83 L576.35,204.48 L576.10,208.12 L575.85,211.77 L575.60,212.14 L575.35,211.70 L575.10,211.25 L574.85,210.80Z" fill="#c4de1e"/>
<path d="M576.60,163.83 L576.85,160.92 L577.10,158.00 L577.35,156.10 L577.60,155.74 L577.85,155.37 L578.10,155.00 L578.10,196.62 L577.85,196.25 L577.60,195.88 L577.35,195.51 L577.10,195.15 L576.85,197.19 L576.60,200.83Z" fill="#e2c61e"/>
<path d="M578.10,155.00 L578.35,155.96 L578.35,196.99 L578.10,196.62Z" fill="#f0a020"/>
<path d="M578.35,155.96 L578.60,156.92 L578.85,157.88 L579.10,158.85 L579.35,159.81 L579.60,160.52 L579.85,161.16 L580.10,161.81 L580.35,162.45 L580.60,163.10 L580.85,161.54 L581.10,159.98 L581.35,158.43 L581.60,156.87 L581.85,155.31 L582.10,153.24 L582.10,198.27 L581.85,199.15 L581.60,200.02 L581.35,200.90 L581.10,201.03 L580.85,200.66 L580.60,200.29 L580.35,199.93 L580.10,199.56 L579.85,199.19 L579.60,198.82 L579.35,198.46 L579.10,198.09 L578.85,197.72 L578.60,197.35 L578.35,196.99Z" fill="#e2c61e"/>
<path d="M582.10,153.24 L582.35,151.03 L582.60,148.82 L582.85,147.44 L583.10,147.29 L583.35,147.14 L583.60,146.99 L583.85,148.34 L584.10,151.92 L584.35,155.51 L584.35,188.21 L584.10,190.00 L583.85,191.79 L583.60,193.02 L583.35,193.90 L583.10,194.77 L582.85,195.65 L582.60,196.52 L582.35,197.40 L582.10,198.27Z" fill="#f0a020"/>
<path d="M584.35,155.51 L584.60,159.10 L584.85,162.57 L585.10,165.88 L585.35,169.19 L585.35,207.00 L585.10,197.00 L584.85,187.00 L584.60,186.43 L584.35,188.21Z" fill="#e2c61e"/>
<path d="M585.35,169.19 L585.60,172.50 L585.85,168.17 L586.10,163.85 L586.10,209.00 L585.85,209.00 L585.60,209.00 L585.35,207.00Z" fill="#c4de1e"/>
<path d="M586.10,163.85 L586.35,158.84 L586.60,152.82 L586.60,203.67 L586.35,209.00 L586.10,209.00Z" fill="#e2c61e"/>
<path d="M586.60,152.82 L586.85,146.80 L587.10,145.40 L587.35,145.15 L587.60,147.71 L587.85,154.48 L588.10,161.25 L588.10,183.95 L587.85,184.28 L587.60,184.61 L587.35,184.93 L587.10,190.33 L586.85,197.00 L586.60,203.67Z" fill="#f0a020"/>
<path d="M588.10,161.25 L588.35,165.42 L588.60,169.58 L588.60,183.29 L588.35,183.62 L588.10,183.95Z" fill="#e2c61e"/>
<path d="M588.60,169.58 L588.85,173.75 L589.10,176.50 L589.35,177.13 L589.60,177.75 L589.85,178.38 L590.10,177.62 L590.35,174.81 L590.60,172.00 L590.85,169.19 L591.10,164.72 L591.10,214.58 L590.85,217.13 L590.60,216.50 L590.35,215.88 L590.10,215.25 L589.85,208.91 L589.60,198.75 L589.35,188.59 L589.10,182.63 L588.85,182.96 L588.60,183.29Z" fill="#c4de1e"/>
<path d="M591.10,164.72 L591.35,157.78 L591.60,150.83 L591.60,200.00 L591.35,207.29 L591.10,214.58Z" fill="#e2c61e"/>
<path d="M591.60,150.83 L591.85,143.89 L592.10,139.17 L592.10,185.42 L591.85,192.71 L591.60,200.00Z" fill="#f0a020"/>
<path d="M592.10,139.17 L592.35,135.00 L592.60,132.50 L592.85,132.50 L593.10,132.50 L593.35,132.50 L593.60,135.21 L593.85,141.98 L593.85,184.54 L593.60,184.23 L593.35,183.92 L593.10,183.61 L592.85,183.30 L592.60,182.99 L592.35,182.69 L592.10,185.42Z" fill="#ec8c3a"/>
<path d="M593.85,141.98 L594.10,148.75 L594.35,153.08 L594.60,157.40 L594.60,185.46 L594.35,185.15 L594.10,184.85 L593.85,184.54Z" fill="#f0a020"/>
<path d="M594.60,157.40 L594.85,159.41 L595.10,157.94 L595.35,156.47 L595.60,155.00 L595.60,186.70 L595.35,186.39 L595.10,186.08 L594.85,185.77 L594.60,185.46Z" fill="#e2c61e"/>
<path d="M595.60,155.00 L595.85,153.32 L596.10,151.63 L596.35,149.95 L596.60,148.27 L596.85,146.59 L597.10,144.19 L597.35,141.62 L597.60,139.04 L597.60,186.60 L597.35,186.77 L597.10,186.93 L596.85,187.10 L596.60,187.27 L596.35,187.43 L596.10,187.31 L595.85,187.01 L595.60,186.70Z" fill="#f0a020"/>
<path d="M597.60,139.04 L597.85,137.35 L598.10,136.97 L598.35,136.59 L598.60,136.21 L598.85,135.83 L599.10,136.17 L599.35,137.58 L599.60,138.99 L599.85,140.40 L600.10,142.25 L600.10,186.00 L599.85,185.10 L599.60,185.27 L599.35,185.43 L599.10,185.60 L598.85,185.77 L598.60,185.93 L598.35,186.10 L598.10,186.27 L597.85,186.43 L597.60,186.60Z" fill="#ec8c3a"/>
<path d="M600.10,142.25 L600.35,144.75 L600.60,147.25 L600.85,149.75 L601.10,153.06 L601.35,157.57 L601.35,198.50 L601.10,196.00 L600.85,193.50 L600.60,191.00 L600.35,188.50 L600.10,186.00Z" fill="#f0a020"/>
<path d="M601.35,157.57 L601.60,162.08 L601.85,166.60 L601.85,217.50 L601.60,205.00 L601.35,198.50Z" fill="#e2c61e"/>
<path d="M601.85,166.60 L602.10,171.67 L602.35,176.88 L602.60,188.00 L602.60,253.43 L602.35,242.50 L602.10,230.00 L601.85,217.50Z" fill="#c4de1e"/>
<path d="M602.60,188.00 L602.85,208.00 L602.85,262.00 L602.60,253.43Z" fill="#8cb291"/>
<path d="M602.85,208.00 L603.10,224.90 L603.35,237.15 L603.35,279.14 L603.10,270.57 L602.85,262.00Z" fill="#6ea6ea"/>
<path d="M603.35,237.15 L603.60,249.40 L603.85,261.65 L604.10,273.90 L604.35,279.58 L604.60,275.42 L604.85,271.25 L605.10,267.08 L605.35,262.92 L605.60,258.75 L605.85,256.25 L606.10,256.25 L606.35,256.25 L606.60,256.25 L606.85,256.25 L607.10,256.25 L607.35,256.25 L607.60,258.45 L607.85,263.95 L608.10,269.45 L608.35,274.95 L608.60,280.45 L608.85,269.58 L609.10,234.17 L609.10,266.00 L608.85,276.00 L608.60,286.00 L608.35,296.00 L608.10,306.00 L607.85,310.94 L607.60,312.50 L607.35,314.06 L607.10,315.62 L606.85,317.19 L606.60,318.75 L606.35,320.31 L606.10,321.87 L605.85,321.43 L605.60,319.64 L605.35,317.86 L605.10,316.07 L604.85,314.29 L604.60,312.50 L604.35,310.71 L604.10,304.86 L603.85,296.29 L603.60,287.71 L603.35,279.14Z" fill="#bedaf2"/>
<path d="M609.10,234.17 L609.35,205.00 L609.60,180.00 L609.60,241.50 L609.35,256.00 L609.10,266.00Z" fill="#6ea6ea"/>
<path d="M609.60,180.00 L609.85,172.19 L610.10,167.10 L610.35,166.10 L610.60,165.10 L610.60,205.10 L610.35,206.10 L610.10,207.10 L609.85,220.25 L609.60,241.50Z" fill="#c4de1e"/>
<path d="M610.60,165.10 L610.85,164.10 L611.10,163.10 L611.35,162.15 L611.60,161.27 L611.85,160.39 L612.10,159.51 L612.35,158.63 L612.60,158.06 L612.85,157.96 L613.10,157.86 L613.35,157.76 L613.60,157.66 L613.85,157.56 L614.10,157.25 L614.35,156.62 L614.60,156.00 L614.85,155.37 L615.10,154.30 L615.10,192.30 L614.85,192.80 L614.60,193.30 L614.35,193.80 L614.10,194.30 L613.85,194.80 L613.60,195.30 L613.35,195.80 L613.10,196.30 L612.85,196.80 L612.60,197.30 L612.35,198.10 L612.10,199.10 L611.85,200.10 L611.60,201.10 L611.35,202.10 L611.10,203.10 L610.85,204.10 L610.60,205.10Z" fill="#e2c61e"/>
<path d="M615.10,154.30 L615.35,152.55 L615.60,150.80 L615.85,149.05 L616.10,147.30 L616.35,145.45 L616.60,143.45 L616.85,141.45 L617.10,139.45 L617.10,188.30 L616.85,188.80 L616.60,189.30 L616.35,189.80 L616.10,190.30 L615.85,190.80 L615.60,191.30 L615.35,191.80 L615.10,192.30Z" fill="#f0a020"/>
<path d="M617.10,139.45 L617.35,137.45 L617.60,135.62 L617.85,134.06 L618.10,132.50 L618.35,130.94 L618.35,188.11 L618.10,187.93 L617.85,187.75 L617.60,187.57 L617.35,187.80 L617.10,188.30Z" fill="#ec8c3a"/>
<path d="M618.35,130.94 L618.60,128.50 L618.85,124.75 L619.10,121.00 L619.35,117.57 L619.60,115.43 L619.85,113.29 L620.10,112.75 L620.35,114.63 L620.60,116.50 L620.85,118.86 L621.10,123.14 L621.35,127.43 L621.60,132.50 L621.60,206.00 L621.35,199.33 L621.10,192.67 L620.85,189.89 L620.60,189.71 L620.35,189.54 L620.10,189.36 L619.85,189.18 L619.60,189.00 L619.35,188.82 L619.10,188.64 L618.85,188.46 L618.60,188.29 L618.35,188.11Z" fill="#f7e0e0"/>
<path d="M621.60,132.50 L621.85,138.75 L622.10,145.00 L622.10,219.33 L621.85,212.67 L621.60,206.00Z" fill="#ec8c3a"/>
<path d="M622.10,145.00 L622.35,151.63 L622.60,158.85 L622.60,234.48 L622.35,226.00 L622.10,219.33Z" fill="#f0a020"/>
<path d="M622.60,158.85 L622.85,166.06 L622.85,245.68 L622.60,234.48Z" fill="#e2c61e"/>
<path d="M622.85,166.06 L623.10,173.75 L623.35,187.64 L623.35,268.08 L623.10,256.88 L622.85,245.68Z" fill="#c4de1e"/>
<path d="M623.35,187.64 L623.60,225.83 L623.60,279.28 L623.35,268.08Z" fill="#8cb291"/>
<path d="M623.60,225.83 L623.85,243.90 L623.85,281.52 L623.60,279.28Z" fill="#6ea6ea"/>
<path d="M623.85,243.90 L624.10,231.76 L624.10,270.32 L623.85,281.52Z" fill="#bedaf2"/>
<path d="M624.10,231.76 L624.35,219.63 L624.60,207.50 L624.85,200.62 L624.85,236.72 L624.60,247.92 L624.35,259.12 L624.10,270.32Z" fill="#6ea6ea"/>
<path d="M624.85,200.62 L625.10,193.75 L625.35,186.88 L625.60,180.00 L625.60,215.60 L625.35,221.60 L625.10,227.60 L624.85,236.72Z" fill="#8cb291"/>
<path d="M625.60,180.00 L625.85,179.62 L626.10,179.23 L626.35,180.07 L626.60,182.73 L626.60,203.00 L626.35,200.86 L626.10,203.60 L625.85,209.60 L625.60,215.60Z" fill="#c4de1e"/>
<path d="M626.60,182.73 L626.85,185.40 L627.10,188.07 L627.35,190.73 L627.60,193.40 L627.85,195.91 L628.10,198.20 L628.35,200.48 L628.60,202.76 L628.60,227.00 L628.35,222.00 L628.10,217.00 L627.85,213.71 L627.60,211.57 L627.35,209.43 L627.10,207.29 L626.85,205.14 L626.60,203.00Z" fill="#8cb291"/>
<path d="M628.60,202.76 L628.85,205.04 L629.10,205.50 L629.35,205.50 L629.60,205.50 L629.85,205.50 L630.10,200.71 L630.10,227.00 L629.85,234.50 L629.60,242.00 L629.35,242.00 L629.10,237.00 L628.85,232.00 L628.60,227.00Z" fill="#6ea6ea"/>
<path d="M630.10,200.71 L630.35,194.73 L630.60,188.75 L630.85,182.05 L631.10,175.36 L631.10,207.00 L630.85,210.33 L630.60,213.67 L630.35,219.50 L630.10,227.00Z" fill="#8cb291"/>
<path d="M631.10,175.36 L631.35,168.33 L631.60,160.00 L631.60,200.33 L631.35,203.67 L631.10,207.00Z" fill="#c4de1e"/>
<path d="M631.60,160.00 L631.85,150.62 L631.85,197.00 L631.60,200.33Z" fill="#e2c61e"/>
<path d="M631.85,150.62 L632.10,147.42 L632.35,145.76 L632.60,144.10 L632.85,143.97 L633.10,146.14 L633.35,148.32 L633.60,154.17 L633.85,160.94 L633.85,207.33 L633.60,205.67 L633.35,204.00 L633.10,202.33 L632.85,200.67 L632.60,199.00 L632.35,197.33 L632.10,195.67 L631.85,197.00Z" fill="#f0a020"/>
<path d="M633.85,160.94 L634.10,165.81 L634.35,167.84 L634.35,210.67 L634.10,209.00 L633.85,207.33Z" fill="#e2c61e"/>
<path d="M634.35,167.84 L634.60,169.86 L634.85,171.89 L635.10,172.85 L635.35,172.23 L635.60,171.61 L635.85,170.99 L636.10,170.37 L636.35,169.40 L636.60,167.90 L636.85,166.40 L637.10,164.90 L637.10,208.70 L636.85,209.45 L636.60,210.20 L636.35,210.95 L636.10,211.70 L635.85,212.45 L635.60,213.20 L635.35,213.95 L635.10,214.70 L634.85,214.00 L634.60,212.33 L634.35,210.67Z" fill="#c4de1e"/>
<path d="M637.10,164.90 L637.35,163.40 L637.60,161.80 L637.85,160.05 L638.10,158.30 L638.35,156.55 L638.60,154.80 L638.60,203.83 L638.35,204.67 L638.10,205.50 L637.85,206.33 L637.60,207.17 L637.35,207.95 L637.10,208.70Z" fill="#e2c61e"/>
<path d="M638.60,154.80 L638.85,153.25 L639.10,152.00 L639.35,150.75 L639.60,149.50 L639.85,149.49 L640.10,151.32 L640.35,153.16 L640.60,155.00 L640.85,155.35 L640.85,196.33 L640.60,197.17 L640.35,198.00 L640.10,198.83 L639.85,199.67 L639.60,200.50 L639.35,201.33 L639.10,202.17 L638.85,203.00 L638.60,203.83Z" fill="#f0a020"/>
<path d="M640.85,155.35 L641.10,155.69 L641.35,156.04 L641.60,155.75 L641.85,154.50 L641.85,192.90 L641.60,193.77 L641.35,194.65 L641.10,195.50 L640.85,196.33Z" fill="#e2c61e"/>
<path d="M641.85,154.50 L642.10,153.25 L642.35,152.00 L642.60,150.75 L642.85,149.50 L643.10,148.25 L643.35,147.00 L643.60,145.75 L643.85,145.05 L644.10,145.17 L644.35,145.29 L644.60,145.41 L644.85,145.53 L645.10,145.39 L645.35,144.88 L645.60,144.36 L645.85,143.84 L646.10,143.33 L646.35,142.81 L646.60,142.69 L646.85,143.18 L647.10,143.66 L647.35,144.15 L647.60,144.63 L647.85,145.12 L648.10,145.60 L648.35,145.72 L648.60,145.85 L648.85,145.98 L649.10,146.10 L649.35,146.23 L649.60,146.36 L649.85,146.49 L650.10,146.63 L650.35,146.76 L650.60,146.90 L650.85,150.02 L651.10,153.13 L651.35,155.75 L651.35,192.83 L651.10,191.84 L650.85,190.86 L650.60,189.87 L650.35,188.88 L650.10,187.89 L649.85,187.28 L649.60,186.90 L649.35,186.53 L649.10,186.15 L648.85,185.78 L648.60,185.40 L648.35,185.03 L648.10,184.65 L647.85,184.28 L647.60,183.90 L647.35,183.85 L647.10,184.02 L646.85,184.18 L646.60,184.35 L646.35,184.52 L646.10,184.68 L645.85,184.85 L645.60,185.02 L645.35,185.18 L645.10,185.35 L644.85,185.52 L644.60,185.68 L644.35,185.85 L644.10,186.02 L643.85,186.18 L643.60,186.77 L643.35,187.65 L643.10,188.52 L642.85,189.40 L642.60,190.27 L642.35,191.15 L642.10,192.02 L641.85,192.90Z" fill="#f0a020"/>
<path d="M651.35,155.75 L651.60,157.63 L651.85,159.50 L652.10,161.38 L652.35,163.24 L652.60,165.07 L652.85,166.91 L652.85,201.79 L652.60,200.00 L652.35,198.21 L652.10,196.43 L651.85,194.80 L651.60,193.82 L651.35,192.83Z" fill="#e2c61e"/>
<path d="M652.85,166.91 L653.10,168.75 L653.35,169.26 L653.60,169.78 L653.85,170.29 L654.10,170.29 L654.35,169.51 L654.60,168.74 L654.85,167.96 L655.10,167.00 L655.35,165.75 L655.35,205.78 L655.10,206.56 L654.85,207.34 L654.60,208.12 L654.35,208.91 L654.10,209.69 L653.85,208.93 L653.60,207.14 L653.35,205.36 L653.10,203.57 L652.85,201.79Z" fill="#c4de1e"/>
<path d="M655.35,165.75 L655.60,164.50 L655.85,163.25 L656.10,162.00 L656.35,161.15 L656.60,160.90 L656.85,160.65 L657.10,160.40 L657.35,160.15 L657.60,159.25 L657.85,157.37 L658.10,155.50 L658.35,153.62 L658.35,198.45 L658.10,199.05 L657.85,199.64 L657.60,200.24 L657.35,200.83 L657.10,201.43 L656.85,202.02 L656.60,202.62 L656.35,203.21 L656.10,203.81 L655.85,204.40 L655.60,205.00 L655.35,205.78Z" fill="#e2c61e"/>
<path d="M658.35,153.62 L658.60,151.67 L658.85,149.58 L659.10,147.50 L659.35,145.42 L659.60,144.07 L659.85,142.90 L660.10,141.73 L660.35,140.57 L660.35,187.90 L660.10,189.40 L659.85,190.90 L659.60,192.40 L659.35,193.90 L659.10,195.40 L658.85,196.90 L658.60,197.86 L658.35,198.45Z" fill="#f0a020"/>
<path d="M660.35,140.57 L660.60,139.40 L660.85,139.15 L661.10,138.90 L661.35,138.65 L661.60,138.40 L661.85,138.15 L662.10,138.32 L662.35,138.59 L662.60,138.86 L662.85,139.13 L663.10,139.40 L663.35,139.88 L663.60,140.36 L663.85,140.84 L664.10,141.32 L664.10,179.45 L663.85,178.95 L663.60,178.97 L663.35,179.35 L663.10,179.72 L662.85,180.10 L662.60,180.47 L662.35,180.85 L662.10,181.22 L661.85,181.60 L661.60,181.97 L661.35,182.35 L661.10,183.40 L660.85,184.90 L660.60,186.40 L660.35,187.90Z" fill="#ec8c3a"/>
<path d="M664.10,141.32 L664.35,141.80 L664.60,142.63 L664.85,143.53 L665.10,144.44 L665.35,145.34 L665.60,146.25 L665.85,149.38 L666.10,152.50 L666.35,155.63 L666.35,184.70 L666.10,183.45 L665.85,182.95 L665.60,182.45 L665.35,181.95 L665.10,181.45 L664.85,180.95 L664.60,180.45 L664.35,179.95 L664.10,179.45Z" fill="#f0a020"/>
<path d="M666.35,155.63 L666.60,158.50 L666.85,161.00 L667.10,163.50 L667.35,166.00 L667.35,194.16 L667.10,191.79 L666.85,189.43 L666.60,187.06 L666.35,184.70Z" fill="#e2c61e"/>
<path d="M667.35,166.00 L667.60,168.25 L667.85,170.13 L668.10,172.00 L668.35,173.88 L668.60,175.34 L668.85,176.21 L669.10,177.07 L669.35,177.93 L669.60,178.90 L669.85,179.90 L670.10,180.90 L670.35,181.90 L670.35,216.32 L670.10,214.65 L669.85,212.97 L669.60,211.30 L669.35,209.62 L669.10,207.95 L668.85,206.28 L668.60,204.60 L668.35,202.93 L668.10,201.25 L667.85,198.89 L667.60,196.52 L667.35,194.16Z" fill="#c4de1e"/>
<path d="M670.35,181.90 L670.60,182.62 L670.85,182.90 L671.10,183.19 L671.35,183.48 L671.60,183.77 L671.85,184.06 L672.10,184.35 L672.35,184.63 L672.60,184.92 L672.85,185.21 L673.10,185.50 L673.35,185.79 L673.60,186.08 L673.85,186.34 L674.10,186.55 L674.35,186.77 L674.60,186.99 L674.85,187.20 L675.10,187.42 L675.35,187.64 L675.60,187.85 L675.85,188.07 L676.10,188.29 L676.35,188.50 L676.60,188.72 L676.85,188.94 L677.10,189.15 L677.35,189.37 L677.60,189.27 L677.85,188.71 L678.10,188.15 L678.35,187.59 L678.60,187.02 L678.85,186.46 L679.10,185.90 L679.35,185.34 L679.60,184.25 L679.85,182.37 L680.10,180.50 L680.10,227.30 L679.85,227.80 L679.60,228.30 L679.35,228.80 L679.10,229.30 L678.85,229.80 L678.60,229.78 L678.35,229.40 L678.10,229.03 L677.85,228.65 L677.60,228.28 L677.35,227.90 L677.10,227.53 L676.85,227.15 L676.60,226.78 L676.35,226.40 L676.10,226.04 L675.85,225.69 L675.60,225.34 L675.35,224.99 L675.10,224.64 L674.85,224.29 L674.60,223.94 L674.35,223.59 L674.10,223.24 L673.85,222.89 L673.60,222.54 L673.35,222.19 L673.10,221.84 L672.85,221.49 L672.60,221.14 L672.35,220.76 L672.10,220.37 L671.85,219.97 L671.60,219.58 L671.35,219.18 L671.10,218.79 L670.85,218.39 L670.60,218.00 L670.35,216.32Z" fill="#8cb291"/>
<path d="M680.10,180.50 L680.35,178.62 L680.60,178.17 L680.85,179.83 L681.10,181.50 L681.10,225.30 L680.85,225.80 L680.60,226.30 L680.35,226.80 L680.10,227.30Z" fill="#c4de1e"/>
<path d="M681.10,181.50 L681.35,183.17 L681.60,184.83 L681.85,186.50 L682.10,187.14 L682.35,186.25 L682.60,185.36 L682.85,184.46 L683.10,183.57 L683.35,182.68 L683.60,181.79 L683.85,181.54 L684.10,182.25 L684.35,182.96 L684.60,183.68 L684.85,184.39 L685.10,185.11 L685.35,185.82 L685.60,186.08 L685.85,185.67 L686.10,185.25 L686.35,184.83 L686.60,184.42 L686.85,184.00 L687.10,184.39 L687.35,186.00 L687.60,187.61 L687.85,189.21 L688.10,190.82 L688.35,192.43 L688.60,194.04 L688.85,195.20 L689.10,195.70 L689.35,196.20 L689.60,196.70 L689.85,197.20 L690.10,195.42 L690.35,190.21 L690.60,185.00 L690.85,177.97 L690.85,223.89 L690.60,226.31 L690.35,228.74 L690.10,231.17 L689.85,233.60 L689.60,236.03 L689.35,236.45 L689.10,235.52 L688.85,234.60 L688.60,233.68 L688.35,232.75 L688.10,231.83 L687.85,230.91 L687.60,229.98 L687.35,229.06 L687.10,228.14 L686.85,227.22 L686.60,226.29 L686.35,225.37 L686.10,224.90 L685.85,224.73 L685.60,224.57 L685.35,224.40 L685.10,224.23 L684.85,224.07 L684.60,223.90 L684.35,223.73 L684.10,223.57 L683.85,223.40 L683.60,223.23 L683.35,223.07 L683.10,222.90 L682.85,222.73 L682.60,222.57 L682.35,222.80 L682.10,223.30 L681.85,223.80 L681.60,224.30 L681.35,224.80 L681.10,225.30Z" fill="#8cb291"/>
<path d="M690.85,177.97 L691.10,173.06 L691.35,171.32 L691.60,169.58 L691.85,167.85 L692.10,166.98 L692.35,166.34 L692.60,165.69 L692.60,206.50 L692.35,209.00 L692.10,211.50 L691.85,214.00 L691.60,216.50 L691.35,219.00 L691.10,221.46 L690.85,223.89Z" fill="#c4de1e"/>
<path d="M692.60,165.69 L692.85,165.05 L693.10,164.40 L693.35,164.63 L693.60,164.86 L693.85,165.09 L694.10,165.32 L694.35,165.55 L694.60,166.64 L694.60,206.50 L694.35,205.88 L694.10,205.25 L693.85,204.63 L693.60,204.00 L693.35,203.38 L693.10,202.75 L692.85,204.00 L692.60,206.50Z" fill="#e2c61e"/>
<path d="M694.60,166.64 L694.85,167.93 L695.10,169.22 L695.35,168.83 L695.60,165.92 L695.60,198.50 L695.35,202.25 L695.10,206.00 L694.85,207.13 L694.60,206.50Z" fill="#c4de1e"/>
<path d="M695.60,165.92 L695.85,163.00 L696.10,159.00 L696.35,153.37 L696.35,187.25 L696.10,191.00 L695.85,194.75 L695.60,198.50Z" fill="#e2c61e"/>
<path d="M696.35,153.37 L696.60,149.15 L696.85,147.03 L697.10,144.91 L697.35,142.79 L697.60,140.67 L697.60,171.37 L697.35,173.10 L697.10,176.60 L696.85,180.10 L696.60,183.60 L696.35,187.25Z" fill="#f0a020"/>
<path d="M697.60,140.67 L697.85,139.30 L698.10,139.04 L698.35,138.78 L698.60,138.52 L698.85,138.26 L699.10,138.00 L699.35,137.76 L699.60,137.52 L699.85,137.28 L700.10,137.04 L700.35,136.55 L700.60,135.67 L700.85,134.79 L701.10,133.91 L701.35,133.03 L701.60,132.42 L701.85,132.22 L702.10,132.02 L702.35,131.82 L702.35,179.25 L702.10,178.00 L701.85,176.75 L701.60,175.50 L701.35,174.25 L701.10,174.09 L700.85,174.67 L700.60,175.24 L700.35,175.82 L700.10,176.39 L699.85,176.97 L699.60,177.54 L699.35,177.82 L699.10,176.89 L698.85,175.97 L698.60,175.05 L698.35,174.13 L698.10,173.21 L697.85,172.29 L697.60,171.37Z" fill="#ec8c3a"/>
<path d="M702.35,131.82 L702.60,131.62 L702.85,132.10 L702.85,181.61 L702.60,180.46 L702.35,179.25Z" fill="#f7e0e0"/>
<path d="M702.85,132.10 L703.10,133.60 L703.35,135.10 L703.60,136.60 L703.85,138.50 L704.10,141.00 L704.10,187.37 L703.85,186.22 L703.60,185.07 L703.35,183.91 L703.10,182.76 L702.85,181.61Z" fill="#ec8c3a"/>
<path d="M704.10,141.00 L704.35,143.50 L704.60,146.00 L704.85,147.86 L705.10,148.78 L705.35,149.69 L705.60,150.60 L705.85,150.48 L706.10,150.37 L706.35,150.25 L706.60,150.14 L706.85,150.02 L707.10,150.32 L707.35,150.71 L707.60,151.11 L707.85,151.50 L708.10,151.90 L708.35,152.41 L708.60,152.93 L708.85,153.44 L709.10,154.75 L709.35,157.25 L709.35,195.88 L709.10,195.25 L708.85,194.63 L708.60,194.00 L708.35,193.38 L708.10,192.75 L707.85,192.13 L707.60,191.50 L707.35,191.13 L707.10,190.93 L706.85,190.73 L706.60,190.52 L706.35,190.32 L706.10,190.12 L705.85,189.92 L705.60,189.72 L705.35,189.52 L705.10,189.31 L704.85,189.11 L704.60,188.91 L704.35,188.52 L704.10,187.37Z" fill="#f0a020"/>
<path d="M709.35,157.25 L709.60,159.75 L709.85,162.72 L710.10,166.40 L710.10,198.10 L709.85,197.13 L709.60,196.50 L709.35,195.88Z" fill="#e2c61e"/>
<path d="M710.10,166.40 L710.35,170.07 L710.60,173.75 L710.85,175.49 L711.10,177.22 L711.35,178.96 L711.60,179.25 L711.85,177.37 L712.10,175.50 L712.35,173.62 L712.60,173.25 L712.85,175.13 L713.10,177.00 L713.35,178.88 L713.60,181.00 L713.60,210.56 L713.35,211.50 L713.10,212.44 L712.85,213.37 L712.60,214.31 L712.35,215.25 L712.10,216.19 L711.85,217.12 L711.60,213.75 L711.35,207.50 L711.10,204.10 L710.85,202.60 L710.60,201.10 L710.35,199.60 L710.10,198.10Z" fill="#c4de1e"/>
<path d="M713.60,181.00 L713.85,183.50 L714.10,186.00 L714.35,188.50 L714.60,191.00 L714.85,193.02 L715.10,194.31 L715.35,195.61 L715.60,196.90 L715.85,196.72 L716.10,196.54 L716.35,196.36 L716.60,195.75 L716.85,194.50 L717.10,193.25 L717.35,192.00 L717.60,190.75 L717.85,189.19 L718.10,187.16 L718.35,185.14 L718.60,183.11 L718.85,181.60 L719.10,180.84 L719.10,221.80 L718.85,222.30 L718.60,222.80 L718.35,223.30 L718.10,223.80 L717.85,224.30 L717.60,224.80 L717.35,226.03 L717.10,227.74 L716.85,229.46 L716.60,231.17 L716.35,232.89 L716.10,234.60 L715.85,236.31 L715.60,234.98 L715.35,231.60 L715.10,228.23 L714.85,224.85 L714.60,221.48 L714.35,218.10 L714.10,214.73 L713.85,211.35 L713.60,210.56Z" fill="#8cb291"/>
<path d="M719.10,180.84 L719.35,180.08 L719.60,179.32 L719.85,178.56 L720.10,178.14 L720.35,178.25 L720.60,178.36 L720.85,178.47 L721.10,178.58 L721.35,178.69 L721.60,178.55 L721.85,178.05 L722.10,177.55 L722.35,177.05 L722.60,176.55 L722.85,175.95 L723.10,175.19 L723.35,174.43 L723.60,173.67 L723.85,172.92 L724.10,172.16 L724.35,171.40 L724.60,170.62 L724.85,169.84 L725.10,169.06 L725.35,168.28 L725.60,167.50 L725.85,167.12 L726.10,166.74 L726.35,166.36 L726.60,165.98 L726.60,204.30 L726.35,204.80 L726.10,205.30 L725.85,205.80 L725.60,206.30 L725.35,206.80 L725.10,207.30 L724.85,207.80 L724.60,208.30 L724.35,208.80 L724.10,209.30 L723.85,209.80 L723.60,210.30 L723.35,210.80 L723.10,211.30 L722.85,211.80 L722.60,212.30 L722.35,212.95 L722.10,213.70 L721.85,214.45 L721.60,215.20 L721.35,215.95 L721.10,216.70 L720.85,217.45 L720.60,218.20 L720.35,218.95 L720.10,219.70 L719.85,220.30 L719.60,220.80 L719.35,221.30 L719.10,221.80Z" fill="#c4de1e"/>
<path d="M726.60,165.98 L726.85,165.61 L727.10,165.23 L727.35,164.75 L727.60,164.13 L727.85,163.51 L728.10,162.89 L728.35,162.27 L728.60,161.77 L728.85,161.46 L729.10,161.14 L729.35,160.82 L729.60,160.51 L729.85,160.19 L730.10,159.99 L730.35,159.97 L730.60,159.94 L730.85,159.91 L731.10,159.89 L731.35,159.87 L731.60,159.84 L731.85,159.81 L732.10,159.79 L732.35,159.76 L732.60,159.79 L732.85,159.91 L733.10,160.02 L733.35,160.13 L733.60,160.24 L733.85,160.35 L734.10,160.47 L734.35,160.58 L734.60,161.13 L734.85,161.78 L735.10,162.44 L735.35,163.09 L735.60,163.75 L735.85,164.47 L736.10,165.19 L736.35,165.91 L736.60,166.63 L736.60,205.90 L736.35,206.15 L736.10,206.00 L735.85,205.58 L735.60,205.17 L735.35,204.75 L735.10,204.33 L734.85,203.92 L734.60,203.50 L734.35,203.08 L734.10,202.67 L733.85,202.25 L733.60,201.83 L733.35,201.42 L733.10,201.00 L732.85,200.58 L732.60,200.17 L732.35,200.07 L732.10,200.20 L731.85,200.32 L731.60,200.45 L731.35,200.57 L731.10,200.70 L730.85,200.82 L730.60,200.95 L730.35,201.07 L730.10,201.20 L729.85,201.32 L729.60,201.45 L729.35,201.57 L729.10,201.70 L728.85,201.82 L728.60,201.95 L728.35,202.07 L728.10,202.20 L727.85,202.32 L727.60,202.45 L727.35,202.80 L727.10,203.30 L726.85,203.80 L726.60,204.30Z" fill="#e2c61e"/>
<path d="M736.60,166.63 L736.85,167.36 L737.10,166.67 L737.35,165.62 L737.35,205.15 L737.10,205.40 L736.85,205.65 L736.60,205.90Z" fill="#c4de1e"/>
<path d="M737.35,165.62 L737.60,164.58 L737.85,163.54 L738.10,162.50 L738.35,161.39 L738.60,160.28 L738.85,159.17 L739.10,158.78 L739.35,159.46 L739.60,160.15 L739.85,160.84 L740.10,161.82 L740.35,163.23 L740.60,164.64 L740.85,166.05 L740.85,200.35 L740.60,200.98 L740.35,201.61 L740.10,202.25 L739.85,202.65 L739.60,202.90 L739.35,203.15 L739.10,203.40 L738.85,203.65 L738.60,203.90 L738.35,204.15 L738.10,204.40 L737.85,204.65 L737.60,204.90 L737.35,205.15Z" fill="#e2c61e"/>
<path d="M740.85,166.05 L741.10,166.24 L741.35,164.61 L741.35,199.08 L741.10,199.71 L740.85,200.35Z" fill="#c4de1e"/>
<path d="M741.35,164.61 L741.60,162.97 L741.85,161.33 L742.10,160.00 L742.35,158.75 L742.60,157.50 L742.85,156.25 L743.10,155.00 L743.10,194.65 L742.85,195.28 L742.60,195.91 L742.35,196.55 L742.10,197.18 L741.85,197.81 L741.60,198.45 L741.35,199.08Z" fill="#e2c61e"/>
<path d="M743.10,155.00 L743.35,154.28 L743.60,153.56 L743.85,152.84 L744.10,152.12 L744.35,151.39 L744.60,150.62 L744.85,149.84 L745.10,149.06 L745.35,148.28 L745.60,147.50 L745.85,146.78 L746.10,146.06 L746.35,145.34 L746.60,144.62 L746.85,143.89 L747.10,143.55 L747.35,143.30 L747.60,143.05 L747.85,142.80 L748.10,143.16 L748.35,143.67 L748.60,144.18 L748.85,144.69 L749.10,145.25 L749.35,145.88 L749.60,146.50 L749.85,147.13 L750.10,147.67 L750.35,148.08 L750.60,148.50 L750.85,148.92 L751.10,149.33 L751.35,149.75 L751.60,150.25 L751.85,150.87 L752.10,151.49 L752.35,152.11 L752.60,152.73 L752.85,153.25 L753.10,153.63 L753.35,154.01 L753.60,154.39 L753.85,154.77 L754.10,155.25 L754.10,194.07 L753.85,193.84 L753.60,193.55 L753.35,193.22 L753.10,192.88 L752.85,192.55 L752.60,192.22 L752.35,191.88 L752.10,191.55 L751.85,191.22 L751.60,190.88 L751.35,190.55 L751.10,190.22 L750.85,189.88 L750.60,189.55 L750.35,189.22 L750.10,188.88 L749.85,188.50 L749.60,188.07 L749.35,187.65 L749.10,187.22 L748.85,186.80 L748.60,186.37 L748.35,185.95 L748.10,185.52 L747.85,185.10 L747.60,184.67 L747.35,184.84 L747.10,185.41 L746.85,185.97 L746.60,186.54 L746.35,187.11 L746.10,187.67 L745.85,188.24 L745.60,188.81 L745.35,189.37 L745.10,189.94 L744.85,190.51 L744.60,191.07 L744.35,191.64 L744.10,192.21 L743.85,192.77 L743.60,193.38 L743.35,194.01 L743.10,194.65Z" fill="#f0a020"/>
<path d="M754.10,155.25 L754.35,155.88 L754.60,156.50 L754.85,157.13 L755.10,156.94 L755.35,155.54 L755.60,154.14 L755.60,195.42 L755.35,195.19 L755.10,194.97 L754.85,194.74 L754.60,194.52 L754.35,194.29 L754.10,194.07Z" fill="#e2c61e"/>
<path d="M755.60,154.14 L755.85,152.74 L756.10,151.92 L756.35,151.96 L756.60,152.00 L756.85,156.00 L756.85,200.86 L756.60,198.84 L756.35,196.81 L756.10,195.87 L755.85,195.64 L755.60,195.42Z" fill="#f0a020"/>
<path d="M756.85,156.00 L757.10,160.00 L757.35,164.69 L757.60,168.25 L757.60,206.94 L757.35,204.91 L757.10,202.89 L756.85,200.86Z" fill="#e2c61e"/>
<path d="M757.60,168.25 L757.85,170.13 L758.10,172.00 L758.35,173.88 L758.60,175.28 L758.85,175.97 L759.10,176.67 L759.35,177.36 L759.60,176.32 L759.85,174.85 L760.10,173.38 L760.35,171.75 L760.60,169.87 L760.85,168.00 L761.10,166.12 L761.35,164.85 L761.35,198.45 L761.10,197.80 L760.85,197.15 L760.60,196.50 L760.35,199.17 L760.10,201.84 L759.85,204.51 L759.60,207.18 L759.35,209.84 L759.10,212.51 L758.85,215.18 L758.60,215.04 L758.35,213.01 L758.10,210.99 L757.85,208.96 L757.60,206.94Z" fill="#c4de1e"/>
<path d="M761.35,164.85 L761.60,164.47 L761.85,164.09 L762.10,163.71 L762.35,163.33 L762.60,163.05 L762.85,162.93 L763.10,162.81 L763.35,162.69 L763.60,162.57 L763.85,161.97 L764.10,160.65 L764.35,159.32 L764.60,158.00 L764.85,160.21 L765.10,162.42 L765.35,164.44 L765.60,166.15 L765.60,201.58 L765.35,199.88 L765.10,198.18 L764.85,197.93 L764.60,198.66 L764.35,199.38 L764.10,200.11 L763.85,200.83 L763.60,201.55 L763.35,202.28 L763.10,203.00 L762.85,202.35 L762.60,201.70 L762.35,201.05 L762.10,200.40 L761.85,199.75 L761.60,199.10 L761.35,198.45Z" fill="#e2c61e"/>
<path d="M765.60,166.15 L765.85,167.86 L766.10,169.57 L766.35,170.35 L766.60,169.73 L766.85,169.11 L767.10,168.49 L767.35,167.87 L767.60,167.10 L767.85,166.10 L768.10,165.10 L768.10,204.10 L767.85,204.47 L767.60,204.85 L767.35,205.12 L767.10,205.32 L766.85,205.52 L766.60,205.72 L766.35,205.92 L766.10,204.98 L765.85,203.28 L765.60,201.58Z" fill="#c4de1e"/>
<path d="M768.10,165.10 L768.35,164.10 L768.60,163.10 L768.85,162.45 L769.10,162.33 L769.35,162.21 L769.60,162.09 L769.85,161.97 L770.10,161.79 L770.35,161.51 L770.60,161.23 L770.85,160.95 L771.10,160.67 L771.35,159.95 L771.60,158.57 L771.85,157.20 L772.10,155.82 L772.35,154.75 L772.35,195.56 L772.10,196.17 L771.85,196.77 L771.60,197.38 L771.35,197.98 L771.10,198.59 L770.85,199.19 L770.60,199.80 L770.35,200.40 L770.10,201.01 L769.85,201.47 L769.60,201.85 L769.35,202.22 L769.10,202.60 L768.85,202.97 L768.60,203.35 L768.35,203.72 L768.10,204.10Z" fill="#e2c61e"/>
<path d="M772.35,154.75 L772.60,154.13 L772.85,153.51 L773.10,152.89 L773.35,152.27 L773.60,151.69 L773.85,151.16 L774.10,150.63 L774.35,150.11 L774.60,148.25 L774.85,146.06 L775.10,143.87 L775.35,141.69 L775.60,139.19 L775.60,188.20 L775.35,188.95 L775.10,189.70 L774.85,190.30 L774.60,190.79 L774.35,191.28 L774.10,191.78 L773.85,192.27 L773.60,192.76 L773.35,193.26 L773.10,193.75 L772.85,194.35 L772.60,194.96 L772.35,195.56Z" fill="#f0a020"/>
<path d="M775.60,139.19 L775.85,136.62 L776.10,134.04 L776.35,131.50 L776.35,186.12 L776.10,186.70 L775.85,187.45 L775.60,188.20Z" fill="#ec8c3a"/>
<path d="M776.35,131.50 L776.60,129.00 L776.85,126.50 L777.10,124.00 L777.35,121.44 L777.60,118.78 L777.85,116.13 L778.10,115.32 L778.35,114.96 L778.60,114.61 L778.85,115.07 L779.10,116.74 L779.35,118.42 L779.35,183.10 L779.10,183.27 L778.85,183.43 L778.60,183.60 L778.35,183.77 L778.10,183.93 L777.85,184.19 L777.60,184.51 L777.35,184.84 L777.10,185.16 L776.85,185.48 L776.60,185.80 L776.35,186.12Z" fill="#f7e0e0"/>
<path d="M424.60,300.00 L424.85,280.56 L425.10,261.11 L425.35,241.67 L425.60,228.50 L425.85,224.75 L426.10,221.00 L426.35,217.25 L426.60,218.00 L426.85,225.50 L427.10,233.00 L427.35,240.50 L427.60,241.25 L427.85,231.87 L428.10,222.50 L428.35,214.43 L428.60,211.57 L428.85,208.71 L429.10,205.80 L429.35,202.80 L429.60,199.80 L429.85,196.80 L430.10,193.80 L430.35,190.80 L430.60,187.80 L430.85,184.80 L431.10,181.80 L431.35,180.32 L431.60,181.12 L431.85,181.92 L432.10,182.72 L432.35,183.52 L432.60,184.08 L432.85,184.28 L433.10,184.48 L433.35,184.68 L433.60,184.88 L433.85,185.08 L434.10,185.28 L434.35,185.48 L434.60,185.68 L434.85,185.88 L435.10,185.98 L435.35,185.93 L435.60,185.88 L435.85,185.83 L436.10,185.78 L436.35,185.73 L436.60,185.68 L436.85,185.63 L437.10,185.58 L437.35,185.53 L437.60,185.56 L437.85,185.71 L438.10,185.86 L438.35,186.01 L438.60,186.16 L438.85,186.31 L439.10,186.46 L439.35,186.61 L439.60,186.76 L439.85,186.91 L440.10,186.96 L440.35,186.86 L440.60,186.76 L440.85,186.66 L441.10,186.56 L441.35,186.46 L441.60,186.36 L441.85,186.26 L442.10,186.16 L442.35,186.06 L442.60,185.96 L442.85,185.86 L443.10,185.76 L443.35,185.66 L443.60,185.56 L443.85,185.30 L444.10,184.80 L444.35,184.30 L444.60,183.80 L444.85,183.30 L445.10,184.13 L445.35,186.97 L445.60,189.80 L445.85,192.63 L446.10,195.47 L446.35,198.30 L446.60,205.00 L446.85,217.50 L447.10,230.00 L447.35,242.50 L447.60,255.20 L447.85,268.20 L448.10,281.20 L448.35,294.20 L448.60,307.20 L448.85,320.20 L449.10,333.20 L449.35,333.72 L449.60,315.52 L449.85,297.32 L450.10,279.12 L450.35,260.92 L450.60,245.00 L450.85,232.50 L451.10,220.00 L451.35,207.50 L451.60,203.00 L451.85,210.50 L452.10,218.00 L452.35,225.50 L452.60,233.00 L452.85,240.50 L453.10,248.00 L453.35,255.50 L453.60,263.00 L453.85,270.50 L454.10,278.00 L454.35,285.50 L454.60,293.49 L454.85,302.20 L455.10,310.91 L455.35,319.63 L455.60,328.34 L455.85,337.06 L456.10,345.77 L456.35,342.92 L456.60,322.72 L456.85,302.52 L457.10,282.32 L457.35,262.12 L457.60,245.00 L457.85,232.50 L458.10,220.00 L458.35,207.50 L458.60,198.83 L458.85,195.92 L459.10,193.00 L459.35,190.08 L459.60,187.17 L459.85,184.25 L460.10,183.00 L460.35,184.25 L460.60,185.50 L460.85,186.75 L461.10,188.00 L461.35,189.25 L461.60,190.50 L461.85,191.75 L462.10,193.00 L462.35,194.25 L462.60,195.07 L462.85,195.23 L463.10,195.40 L463.35,195.57 L463.60,195.73 L463.85,195.90 L464.10,196.07 L464.35,196.23 L464.60,196.40 L464.85,196.57 L465.10,196.73 L465.35,196.90 L465.60,196.90 L465.85,196.65 L466.10,196.40 L466.35,196.15 L466.60,195.90 L466.85,195.65 L467.10,195.40 L467.35,195.15 L467.60,194.90 L467.85,194.65 L468.10,194.40 L468.35,194.15 L468.60,193.90 L468.85,193.60 L469.10,193.22 L469.35,192.85 L469.60,192.47 L469.85,192.10 L470.10,191.72 L470.35,191.35 L470.60,190.97 L470.85,190.60 L471.10,190.22 L471.35,189.95 L471.60,189.81 L471.85,189.68 L472.10,189.55 L472.35,189.41 L472.60,189.28 L472.85,189.15 L473.10,189.01 L473.35,188.88 L473.60,188.75 L473.85,188.61 L474.10,188.48 L474.35,188.35 L474.60,188.21 L474.85,188.08 L475.10,188.13 L475.35,188.47 L475.60,188.80 L475.85,189.13 L476.10,189.47 L476.35,189.80 L476.60,192.00 L476.85,197.00 L477.10,202.00 L477.35,207.00 L477.60,212.00 L477.85,208.07 L478.10,204.14 L478.35,200.21 L478.60,196.29 L478.85,192.36 L479.10,189.60 L479.35,188.60 L479.60,188.19 L479.85,188.67 L480.10,189.15 L480.35,189.63 L480.60,190.11 L480.85,190.59 L481.10,191.07 L481.35,191.55 L481.60,192.03 L481.85,192.50 L482.10,192.98 L482.35,193.46 L482.60,193.92 L482.85,194.33 L483.10,194.75 L483.35,195.17 L483.60,195.58 L483.85,196.00 L484.10,196.42 L484.35,196.83 L484.60,197.25 L484.85,197.67 L485.10,198.08 L485.35,198.50 L485.60,198.92 L485.85,199.33 L486.10,199.75 L486.35,199.87 L486.60,199.53 L486.85,199.20 L487.10,198.87 L487.35,198.53 L487.60,198.20 L487.85,197.87 L488.10,197.53 L488.35,197.20 L488.60,196.87 L488.85,196.53 L489.10,196.20 L489.35,195.87 L489.60,195.53 L489.85,195.20 L490.10,195.05 L490.35,195.19 L490.60,195.32 L490.85,195.45 L491.10,195.59 L491.35,195.72 L491.60,195.85 L491.85,195.99 L492.10,196.12 L492.35,196.25 L492.60,196.39 L492.85,196.52 L493.10,196.65 L493.35,196.79 L493.60,196.92 L493.85,196.88 L494.10,196.58 L494.35,196.28 L494.60,195.98 L494.85,195.68 L495.10,195.38 L495.35,195.08 L495.60,194.78 L495.85,194.48 L496.10,194.18 L496.35,193.88 L496.60,193.58 L496.85,193.28 L497.10,192.98 L497.35,192.68 L497.60,192.10 L497.85,191.10 L498.10,190.10 L498.35,189.10 L498.60,188.10 L498.85,187.10 L499.10,186.10 L499.35,185.10 L499.60,184.10 L499.85,183.10 L500.10,182.69 L500.35,183.16 L500.60,183.63 L500.85,184.91 L501.10,189.47 L501.35,194.03 L501.60,198.59 L501.85,203.15 L502.10,207.71 L502.35,212.26 L502.60,215.19 L502.85,215.66 L503.10,216.13 L503.35,216.59 L503.60,217.06 L503.85,217.53 L504.10,218.00 L504.35,218.47 L504.60,218.61 L504.85,218.25 L505.10,217.89 L505.35,217.54 L505.60,217.18 L505.85,216.82 L506.10,216.46 L506.35,214.35 L506.60,209.60 L506.85,204.85 L507.10,200.10 L507.35,195.35 L507.60,192.30 L507.85,191.80 L508.10,191.30 L508.35,190.80 L508.60,190.30 L508.85,190.10 L509.10,190.35 L509.35,190.60 L509.60,190.85 L509.85,191.10 L510.10,191.35 L510.35,191.60 L510.60,191.85 L510.85,192.10 L511.10,192.35 L511.35,192.60 L511.60,192.85 L511.85,193.10 L512.10,193.35 L512.35,193.60 L512.60,193.50 L512.85,192.87 L513.10,192.25 L513.35,191.62 L513.60,191.00 L513.85,190.37 L514.10,189.75 L514.35,189.12 L514.60,188.50 L514.85,187.87 L515.10,187.55 L515.35,187.68 L515.60,187.80 L515.85,187.93 L516.10,188.05 L516.35,188.18 L516.60,188.30 L516.85,188.43 L517.10,188.55 L517.35,188.68 L517.60,188.80 L517.85,188.93 L518.10,189.05 L518.35,189.18 L518.60,189.30 L518.85,189.43 L519.10,189.55 L519.35,189.68 L519.60,189.80 L519.85,189.93 L520.10,190.20 L520.35,190.70 L520.60,191.20 L520.85,191.70 L521.10,192.20 L521.35,192.70 L521.60,193.20 L521.85,193.70 L522.10,194.20 L522.35,194.70 L522.60,195.20 L522.85,195.70 L523.10,196.20 L523.35,196.70 L523.60,197.20 L523.85,198.25 L524.10,200.13 L524.35,202.00 L524.60,203.88 L524.85,205.75 L525.10,207.63 L525.35,209.50 L525.60,211.38 L525.85,213.25 L526.10,215.13 L526.35,216.55 L526.60,217.30 L526.85,218.05 L527.10,218.80 L527.35,219.55 L527.60,219.37 L527.85,217.81 L528.10,216.25 L528.35,214.69 L528.60,213.12 L528.85,211.56 L529.10,210.00 L529.35,208.44 L529.60,207.33 L529.85,206.92 L530.10,206.50 L530.35,206.08 L530.60,205.67 L530.85,205.25 L531.10,204.83 L531.35,204.42 L531.60,204.00 L531.85,203.58 L532.10,203.17 L532.35,202.75 L532.60,202.60 L532.85,202.85 L533.10,203.10 L533.35,203.35 L533.60,203.60 L533.85,203.85 L534.10,204.10 L534.35,204.35 L534.60,204.60 L534.85,204.85 L535.10,204.93 L535.35,204.77 L535.60,204.60 L535.85,204.43 L536.10,204.27 L536.35,204.10 L536.60,203.93 L536.85,203.77 L537.10,203.60 L537.35,203.43 L537.60,203.27 L537.85,203.10 L538.10,202.93 L538.35,202.77 L538.60,202.60 L538.85,202.21 L539.10,201.50 L539.35,200.79 L539.60,200.07 L539.85,199.36 L540.10,198.64 L540.35,197.93 L540.60,199.13 L540.85,203.19 L541.10,207.25 L541.35,211.31 L541.60,215.38 L541.85,219.44 L542.10,223.50 L542.35,227.56 L542.60,232.43 L542.85,238.50 L543.10,244.57 L543.35,250.64 L543.60,256.71 L543.85,262.79 L544.10,268.86 L544.35,270.64 L544.60,266.00 L544.85,261.36 L545.10,256.71 L545.35,252.07 L545.60,247.43 L545.85,242.79 L546.10,237.33 L546.35,230.67 L546.60,224.00 L546.85,217.33 L547.10,210.67 L547.35,204.00 L547.60,200.80 L547.85,202.80 L548.10,204.80 L548.35,206.80 L548.60,208.80 L548.85,210.80 L549.10,212.80 L549.35,214.80 L549.60,216.80 L549.85,218.80 L550.10,220.60 L550.35,222.10 L550.60,223.60 L550.85,225.10 L551.10,226.60 L551.35,228.10 L551.60,229.60 L551.85,231.10 L552.10,232.60 L552.35,234.10 L552.60,235.60 L552.85,237.10 L553.10,238.60 L553.35,240.10 L553.60,241.60 L553.85,241.50 L554.10,239.00 L554.35,236.50 L554.60,234.00 L554.85,231.50 L555.10,229.00 L555.35,226.50 L555.60,225.63 L555.85,227.19 L556.10,228.75 L556.35,230.31 L556.60,231.88 L556.85,233.44 L557.10,235.00 L557.35,236.56 L557.60,236.37 L557.85,233.56 L558.10,230.75 L558.35,227.94 L558.60,225.12 L558.85,222.31 L559.10,219.50 L559.35,216.69 L559.60,213.57 L559.85,210.00 L560.10,206.43 L560.35,202.86 L560.60,199.29 L560.85,195.71 L561.10,192.14 L561.35,190.13 L561.60,190.47 L561.85,190.80 L562.10,191.13 L562.35,191.47 L562.60,191.80 L562.85,192.13 L563.10,192.47 L563.35,192.80 L563.60,193.13 L563.85,193.47 L564.10,193.80 L564.35,194.13 L564.60,194.47 L564.85,194.80 L565.10,194.90 L565.35,194.65 L565.60,194.40 L565.85,194.15 L566.10,193.90 L566.35,193.65 L566.60,193.40 L566.85,193.15 L567.10,192.90 L567.35,192.65 L567.60,192.40 L567.85,192.15 L568.10,191.90 L568.35,191.65 L568.60,191.40 L568.85,191.15 L569.10,190.90 L569.35,190.65 L569.60,190.40 L569.85,190.15 L570.10,190.07 L570.35,190.25 L570.60,190.43 L570.85,190.61 L571.10,190.79 L571.35,190.96 L571.60,191.14 L571.85,191.32 L572.10,191.50 L572.35,191.68 L572.60,191.86 L572.85,192.04 L573.10,192.21 L573.35,192.39 L573.60,194.44 L573.85,199.31 L574.10,204.17 L574.35,209.03 L574.60,210.36 L574.85,210.80 L575.10,211.25 L575.35,211.70 L575.60,212.14 L575.85,211.77 L576.10,208.12 L576.35,204.48 L576.60,200.83 L576.85,197.19 L577.10,195.15 L577.35,195.51 L577.60,195.88 L577.85,196.25 L578.10,196.62 L578.35,196.99 L578.60,197.35 L578.85,197.72 L579.10,198.09 L579.35,198.46 L579.60,198.82 L579.85,199.19 L580.10,199.56 L580.35,199.93 L580.60,200.29 L580.85,200.66 L581.10,201.03 L581.35,200.90 L581.60,200.02 L581.85,199.15 L582.10,198.27 L582.35,197.40 L582.60,196.52 L582.85,195.65 L583.10,194.77 L583.35,193.90 L583.60,193.02 L583.85,191.79 L584.10,190.00 L584.35,188.21 L584.60,186.43 L584.85,187.00 L585.10,197.00 L585.35,207.00 L585.60,209.00 L585.85,209.00 L586.10,209.00 L586.35,209.00 L586.60,203.67 L586.85,197.00 L587.10,190.33 L587.35,184.93 L587.60,184.61 L587.85,184.28 L588.10,183.95 L588.35,183.62 L588.60,183.29 L588.85,182.96 L589.10,182.63 L589.35,188.59 L589.60,198.75 L589.85,208.91 L590.10,215.25 L590.35,215.88 L590.60,216.50 L590.85,217.13 L591.10,214.58 L591.35,207.29 L591.60,200.00 L591.85,192.71 L592.10,185.42 L592.35,182.69 L592.60,182.99 L592.85,183.30 L593.10,183.61 L593.35,183.92 L593.60,184.23 L593.85,184.54 L594.10,184.85 L594.35,185.15 L594.60,185.46 L594.85,185.77 L595.10,186.08 L595.35,186.39 L595.60,186.70 L595.85,187.01 L596.10,187.31 L596.35,187.43 L596.60,187.27 L596.85,187.10 L597.10,186.93 L597.35,186.77 L597.60,186.60 L597.85,186.43 L598.10,186.27 L598.35,186.10 L598.60,185.93 L598.85,185.77 L599.10,185.60 L599.35,185.43 L599.60,185.27 L599.85,185.10 L600.10,186.00 L600.35,188.50 L600.60,191.00 L600.85,193.50 L601.10,196.00 L601.35,198.50 L601.60,205.00 L601.85,217.50 L602.10,230.00 L602.35,242.50 L602.60,253.43 L602.85,262.00 L603.10,270.57 L603.35,279.14 L603.60,287.71 L603.85,296.29 L604.10,304.86 L604.35,310.71 L604.60,312.50 L604.85,314.29 L605.10,316.07 L605.35,317.86 L605.60,319.64 L605.85,321.43 L606.10,321.87 L606.35,320.31 L606.60,318.75 L606.85,317.19 L607.10,315.62 L607.35,314.06 L607.60,312.50 L607.85,310.94 L608.10,306.00 L608.35,296.00 L608.60,286.00 L608.85,276.00 L609.10,266.00 L609.35,256.00 L609.60,241.50 L609.85,220.25 L610.10,207.10 L610.35,206.10 L610.60,205.10 L610.85,204.10 L611.10,203.10 L611.35,202.10 L611.60,201.10 L611.85,200.10 L612.10,199.10 L612.35,198.10 L612.60,197.30 L612.85,196.80 L613.10,196.30 L613.35,195.80 L613.60,195.30 L613.85,194.80 L614.10,194.30 L614.35,193.80 L614.60,193.30 L614.85,192.80 L615.10,192.30 L615.35,191.80 L615.60,191.30 L615.85,190.80 L616.10,190.30 L616.35,189.80 L616.60,189.30 L616.85,188.80 L617.10,188.30 L617.35,187.80 L617.60,187.57 L617.85,187.75 L618.10,187.93 L618.35,188.11 L618.60,188.29 L618.85,188.46 L619.10,188.64 L619.35,188.82 L619.60,189.00 L619.85,189.18 L620.10,189.36 L620.35,189.54 L620.60,189.71 L620.85,189.89 L621.10,192.67 L621.35,199.33 L621.60,206.00 L621.85,212.67 L622.10,219.33 L622.35,226.00 L622.60,234.48 L622.85,245.68 L623.10,256.88 L623.35,268.08 L623.60,279.28 L623.85,281.52 L624.10,270.32 L624.35,259.12 L624.60,247.92 L624.85,236.72 L625.10,227.60 L625.35,221.60 L625.60,215.60 L625.85,209.60 L626.10,203.60 L626.35,200.86 L626.60,203.00 L626.85,205.14 L627.10,207.29 L627.35,209.43 L627.60,211.57 L627.85,213.71 L628.10,217.00 L628.35,222.00 L628.60,227.00 L628.85,232.00 L629.10,237.00 L629.35,242.00 L629.60,242.00 L629.85,234.50 L630.10,227.00 L630.35,219.50 L630.60,213.67 L630.85,210.33 L631.10,207.00 L631.35,203.67 L631.60,200.33 L631.85,197.00 L632.10,195.67 L632.35,197.33 L632.60,199.00 L632.85,200.67 L633.10,202.33 L633.35,204.00 L633.60,205.67 L633.85,207.33 L634.10,209.00 L634.35,210.67 L634.60,212.33 L634.85,214.00 L635.10,214.70 L635.35,213.95 L635.60,213.20 L635.85,212.45 L636.10,211.70 L636.35,210.95 L636.60,210.20 L636.85,209.45 L637.10,208.70 L637.35,207.95 L637.60,207.17 L637.85,206.33 L638.10,205.50 L638.35,204.67 L638.60,203.83 L638.85,203.00 L639.10,202.17 L639.35,201.33 L639.60,200.50 L639.85,199.67 L640.10,198.83 L640.35,198.00 L640.60,197.17 L640.85,196.33 L641.10,195.50 L641.35,194.65 L641.60,193.77 L641.85,192.90 L642.10,192.02 L642.35,191.15 L642.60,190.27 L642.85,189.40 L643.10,188.52 L643.35,187.65 L643.60,186.77 L643.85,186.18 L644.10,186.02 L644.35,185.85 L644.60,185.68 L644.85,185.52 L645.10,185.35 L645.35,185.18 L645.60,185.02 L645.85,184.85 L646.10,184.68 L646.35,184.52 L646.60,184.35 L646.85,184.18 L647.10,184.02 L647.35,183.85 L647.60,183.90 L647.85,184.28 L648.10,184.65 L648.35,185.03 L648.60,185.40 L648.85,185.78 L649.10,186.15 L649.35,186.53 L649.60,186.90 L649.85,187.28 L650.10,187.89 L650.35,188.88 L650.60,189.87 L650.85,190.86 L651.10,191.84 L651.35,192.83 L651.60,193.82 L651.85,194.80 L652.10,196.43 L652.35,198.21 L652.60,200.00 L652.85,201.79 L653.10,203.57 L653.35,205.36 L653.60,207.14 L653.85,208.93 L654.10,209.69 L654.35,208.91 L654.60,208.12 L654.85,207.34 L655.10,206.56 L655.35,205.78 L655.60,205.00 L655.85,204.40 L656.10,203.81 L656.35,203.21 L656.60,202.62 L656.85,202.02 L657.10,201.43 L657.35,200.83 L657.60,200.24 L657.85,199.64 L658.10,199.05 L658.35,198.45 L658.60,197.86 L658.85,196.90 L659.10,195.40 L659.35,193.90 L659.60,192.40 L659.85,190.90 L660.10,189.40 L660.35,187.90 L660.60,186.40 L660.85,184.90 L661.10,183.40 L661.35,182.35 L661.60,181.97 L661.85,181.60 L662.10,181.22 L662.35,180.85 L662.60,180.47 L662.85,180.10 L663.10,179.72 L663.35,179.35 L663.60,178.97 L663.85,178.95 L664.10,179.45 L664.35,179.95 L664.60,180.45 L664.85,180.95 L665.10,181.45 L665.35,181.95 L665.60,182.45 L665.85,182.95 L666.10,183.45 L666.35,184.70 L666.60,187.06 L666.85,189.43 L667.10,191.79 L667.35,194.16 L667.60,196.52 L667.85,198.89 L668.10,201.25 L668.35,202.93 L668.60,204.60 L668.85,206.28 L669.10,207.95 L669.35,209.62 L669.60,211.30 L669.85,212.97 L670.10,214.65 L670.35,216.32 L670.60,218.00 L670.85,218.39 L671.10,218.79 L671.35,219.18 L671.60,219.58 L671.85,219.97 L672.10,220.37 L672.35,220.76 L672.60,221.14 L672.85,221.49 L673.10,221.84 L673.35,222.19 L673.60,222.54 L673.85,222.89 L674.10,223.24 L674.35,223.59 L674.60,223.94 L674.85,224.29 L675.10,224.64 L675.35,224.99 L675.60,225.34 L675.85,225.69 L676.10,226.04 L676.35,226.40 L676.60,226.78 L676.85,227.15 L677.10,227.53 L677.35,227.90 L677.60,228.28 L677.85,228.65 L678.10,229.03 L678.35,229.40 L678.60,229.78 L678.85,229.80 L679.10,229.30 L679.35,228.80 L679.60,228.30 L679.85,227.80 L680.10,227.30 L680.35,226.80 L680.60,226.30 L680.85,225.80 L681.10,225.30 L681.35,224.80 L681.60,224.30 L681.85,223.80 L682.10,223.30 L682.35,222.80 L682.60,222.57 L682.85,222.73 L683.10,222.90 L683.35,223.07 L683.60,223.23 L683.85,223.40 L684.10,223.57 L684.35,223.73 L684.60,223.90 L684.85,224.07 L685.10,224.23 L685.35,224.40 L685.60,224.57 L685.85,224.73 L686.10,224.90 L686.35,225.37 L686.60,226.29 L686.85,227.22 L687.10,228.14 L687.35,229.06 L687.60,229.98 L687.85,230.91 L688.10,231.83 L688.35,232.75 L688.60,233.68 L688.85,234.60 L689.10,235.52 L689.35,236.45 L689.60,236.03 L689.85,233.60 L690.10,231.17 L690.35,228.74 L690.60,226.31 L690.85,223.89 L691.10,221.46 L691.35,219.00 L691.60,216.50 L691.85,214.00 L692.10,211.50 L692.35,209.00 L692.60,206.50 L692.85,204.00 L693.10,202.75 L693.35,203.38 L693.60,204.00 L693.85,204.63 L694.10,205.25 L694.35,205.88 L694.60,206.50 L694.85,207.13 L695.10,206.00 L695.35,202.25 L695.60,198.50 L695.85,194.75 L696.10,191.00 L696.35,187.25 L696.60,183.60 L696.85,180.10 L697.10,176.60 L697.35,173.10 L697.60,171.37 L697.85,172.29 L698.10,173.21 L698.35,174.13 L698.60,175.05 L698.85,175.97 L699.10,176.89 L699.35,177.82 L699.60,177.54 L699.85,176.97 L700.10,176.39 L700.35,175.82 L700.60,175.24 L700.85,174.67 L701.10,174.09 L701.35,174.25 L701.60,175.50 L701.85,176.75 L702.10,178.00 L702.35,179.25 L702.60,180.46 L702.85,181.61 L703.10,182.76 L703.35,183.91 L703.60,185.07 L703.85,186.22 L704.10,187.37 L704.35,188.52 L704.60,188.91 L704.85,189.11 L705.10,189.31 L705.35,189.52 L705.60,189.72 L705.85,189.92 L706.10,190.12 L706.35,190.32 L706.60,190.52 L706.85,190.73 L707.10,190.93 L707.35,191.13 L707.60,191.50 L707.85,192.13 L708.10,192.75 L708.35,193.38 L708.60,194.00 L708.85,194.63 L709.10,195.25 L709.35,195.88 L709.60,196.50 L709.85,197.13 L710.10,198.10 L710.35,199.60 L710.60,201.10 L710.85,202.60 L711.10,204.10 L711.35,207.50 L711.60,213.75 L711.85,217.12 L712.10,216.19 L712.35,215.25 L712.60,214.31 L712.85,213.37 L713.10,212.44 L713.35,211.50 L713.60,210.56 L713.85,211.35 L714.10,214.73 L714.35,218.10 L714.60,221.48 L714.85,224.85 L715.10,228.23 L715.35,231.60 L715.60,234.98 L715.85,236.31 L716.10,234.60 L716.35,232.89 L716.60,231.17 L716.85,229.46 L717.10,227.74 L717.35,226.03 L717.60,224.80 L717.85,224.30 L718.10,223.80 L718.35,223.30 L718.60,222.80 L718.85,222.30 L719.10,221.80 L719.35,221.30 L719.60,220.80 L719.85,220.30 L720.10,219.70 L720.35,218.95 L720.60,218.20 L720.85,217.45 L721.10,216.70 L721.35,215.95 L721.60,215.20 L721.85,214.45 L722.10,213.70 L722.35,212.95 L722.60,212.30 L722.85,211.80 L723.10,211.30 L723.35,210.80 L723.60,210.30 L723.85,209.80 L724.10,209.30 L724.35,208.80 L724.60,208.30 L724.85,207.80 L725.10,207.30 L725.35,206.80 L725.60,206.30 L725.85,205.80 L726.10,205.30 L726.35,204.80 L726.60,204.30 L726.85,203.80 L727.10,203.30 L727.35,202.80 L727.60,202.45 L727.85,202.32 L728.10,202.20 L728.35,202.07 L728.60,201.95 L728.85,201.82 L729.10,201.70 L729.35,201.57 L729.60,201.45 L729.85,201.32 L730.10,201.20 L730.35,201.07 L730.60,200.95 L730.85,200.82 L731.10,200.70 L731.35,200.57 L731.60,200.45 L731.85,200.32 L732.10,200.20 L732.35,200.07 L732.60,200.17 L732.85,200.58 L733.10,201.00 L733.35,201.42 L733.60,201.83 L733.85,202.25 L734.10,202.67 L734.35,203.08 L734.60,203.50 L734.85,203.92 L735.10,204.33 L735.35,204.75 L735.60,205.17 L735.85,205.58 L736.10,206.00 L736.35,206.15 L736.60,205.90 L736.85,205.65 L737.10,205.40 L737.35,205.15 L737.60,204.90 L737.85,204.65 L738.10,204.40 L738.35,204.15 L738.60,203.90 L738.85,203.65 L739.10,203.40 L739.35,203.15 L739.60,202.90 L739.85,202.65 L740.10,202.25 L740.35,201.61 L740.60,200.98 L740.85,200.35 L741.10,199.71 L741.35,199.08 L741.60,198.45 L741.85,197.81 L742.10,197.18 L742.35,196.55 L742.60,195.91 L742.85,195.28 L743.10,194.65 L743.35,194.01 L743.60,193.38 L743.85,192.77 L744.10,192.21 L744.35,191.64 L744.60,191.07 L744.85,190.51 L745.10,189.94 L745.35,189.37 L745.60,188.81 L745.85,188.24 L746.10,187.67 L746.35,187.11 L746.60,186.54 L746.85,185.97 L747.10,185.41 L747.35,184.84 L747.60,184.67 L747.85,185.10 L748.10,185.52 L748.35,185.95 L748.60,186.37 L748.85,186.80 L749.10,187.22 L749.35,187.65 L749.60,188.07 L749.85,188.50 L750.10,188.88 L750.35,189.22 L750.60,189.55 L750.85,189.88 L751.10,190.22 L751.35,190.55 L751.60,190.88 L751.85,191.22 L752.10,191.55 L752.35,191.88 L752.60,192.22 L752.85,192.55 L753.10,192.88 L753.35,193.22 L753.60,193.55 L753.85,193.84 L754.10,194.07 L754.35,194.29 L754.60,194.52 L754.85,194.74 L755.10,194.97 L755.35,195.19 L755.60,195.42 L755.85,195.64 L756.10,195.87 L756.35,196.81 L756.60,198.84 L756.85,200.86 L757.10,202.89 L757.35,204.91 L757.60,206.94 L757.85,208.96 L758.10,210.99 L758.35,213.01 L758.60,215.04 L758.85,215.18 L759.10,212.51 L759.35,209.84 L759.60,207.18 L759.85,204.51 L760.10,201.84 L760.35,199.17 L760.60,196.50 L760.85,197.15 L761.10,197.80 L761.35,198.45 L761.60,199.10 L761.85,199.75 L762.10,200.40 L762.35,201.05 L762.60,201.70 L762.85,202.35 L763.10,203.00 L763.35,202.28 L763.60,201.55 L763.85,200.83 L764.10,200.11 L764.35,199.38 L764.60,198.66 L764.85,197.93 L765.10,198.18 L765.35,199.88 L765.60,201.58 L765.85,203.28 L766.10,204.98 L766.35,205.92 L766.60,205.72 L766.85,205.52 L767.10,205.32 L767.35,205.12 L767.60,204.85 L767.85,204.47 L768.10,204.10 L768.35,203.72 L768.60,203.35 L768.85,202.97 L769.10,202.60 L769.35,202.22 L769.60,201.85 L769.85,201.47 L770.10,201.01 L770.35,200.40 L770.60,199.80 L770.85,199.19 L771.10,198.59 L771.35,197.98 L771.60,197.38 L771.85,196.77 L772.10,196.17 L772.35,195.56 L772.60,194.96 L772.85,194.35 L773.10,193.75 L773.35,193.26 L773.60,192.76 L773.85,192.27 L774.10,191.78 L774.35,191.28 L774.60,190.79 L774.85,190.30 L775.10,189.70 L775.35,188.95 L775.60,188.20 L775.85,187.45 L776.10,186.70 L776.35,186.12 L776.60,185.80 L776.85,185.48 L777.10,185.16 L777.35,184.84 L777.60,184.51 L777.85,184.19 L778.10,183.93 L778.35,183.77 L778.60,183.60 L778.85,183.43 L779.10,183.27 L779.35,183.10 L779.5,352 L424,352 L424,300Z" fill="url(#renv)"/>
<line x1="424.5" x2="789" y1="332.43" y2="332.43" stroke="#505050" stroke-opacity="0.22" stroke-width="1" stroke-dasharray="5,5"/>
<line x1="424.5" x2="789" y1="312.36" y2="312.36" stroke="#505050" stroke-opacity="0.22" stroke-width="1" stroke-dasharray="5,5"/>
<line x1="424.5" x2="789" y1="292.29" y2="292.29" stroke="#505050" stroke-opacity="0.22" stroke-width="1" stroke-dasharray="5,5"/>
<line x1="424.5" x2="789" y1="272.22" y2="272.22" stroke="#505050" stroke-opacity="0.22" stroke-width="1" stroke-dasharray="5,5"/>
<line x1="424.5" x2="789" y1="252.15" y2="252.15" stroke="#505050" stroke-opacity="0.22" stroke-width="1" stroke-dasharray="5,5"/>
<line x1="424.5" x2="789" y1="232.08" y2="232.08" stroke="#505050" stroke-opacity="0.22" stroke-width="1" stroke-dasharray="5,5"/>
<line x1="424.5" x2="789" y1="212.01" y2="212.01" stroke="#505050" stroke-opacity="0.22" stroke-width="1" stroke-dasharray="5,5"/>
<line x1="424.5" x2="789" y1="191.94" y2="191.94" stroke="#505050" stroke-opacity="0.22" stroke-width="1" stroke-dasharray="5,5"/>
<line x1="424.5" x2="789" y1="171.87" y2="171.87" stroke="#505050" stroke-opacity="0.22" stroke-width="1" stroke-dasharray="5,5"/>
<line x1="424.5" x2="789" y1="151.80" y2="151.80" stroke="#505050" stroke-opacity="0.22" stroke-width="1" stroke-dasharray="5,5"/>
<line x1="424.5" x2="789" y1="131.73" y2="131.73" stroke="#505050" stroke-opacity="0.22" stroke-width="1" stroke-dasharray="5,5"/>
<line x1="424.5" x2="789" y1="111.66" y2="111.66" stroke="#505050" stroke-opacity="0.22" stroke-width="1" stroke-dasharray="5,5"/>
<line x1="424.5" x2="789" y1="91.59" y2="91.59" stroke="#505050" stroke-opacity="0.22" stroke-width="1" stroke-dasharray="5,5"/>
<line x1="424.5" x2="789" y1="71.52" y2="71.52" stroke="#505050" stroke-opacity="0.22" stroke-width="1" stroke-dasharray="5,5"/>
<line x1="424.5" x2="789" y1="51.45" y2="51.45" stroke="#505050" stroke-opacity="0.22" stroke-width="1" stroke-dasharray="5,5"/>
<line x1="424.5" x2="780" y1="165.6" y2="165.6" stroke="#222" stroke-width="1" stroke-dasharray="2,3"/>
<path d="M424.60,280.00 L425.40,215.00 L425.80,192.50 L426.60,194.00 L427.20,207.50 L427.90,207.50 L428.75,180.00 L430.00,161.25 L431.25,148.75 L432.75,143.10 L434.40,145.60 L435.60,147.50 L436.90,145.60 L438.10,146.00 L439.40,147.75 L441.25,146.25 L443.50,145.60 L444.75,152.50 L446.00,167.50 L446.90,180.00 L447.50,220.00 L449.25,302.50 L450.60,230.00 L451.25,180.00 L451.90,138.75 L452.50,180.00 L453.75,232.50 L456.25,326.25 L457.50,220.00 L458.10,180.00 L458.75,155.00 L459.10,142.50 L460.00,141.90 L461.25,135.25 L461.90,142.50 L463.10,155.00 L464.00,156.90 L465.60,156.50 L467.50,156.25 L468.75,153.10 L470.00,148.75 L470.90,142.50 L471.25,130.00 L472.00,102.00 L472.80,70.00 L473.60,58.00 L474.40,68.00 L475.20,100.00 L476.00,130.00 L476.90,148.75 L477.50,172.50 L478.50,165.00 L479.40,156.90 L480.60,148.75 L481.50,143.50 L482.50,152.50 L483.75,154.40 L485.00,158.10 L486.25,160.00 L487.75,156.90 L489.40,154.40 L490.60,153.75 L492.50,156.25 L494.40,156.90 L495.60,154.40 L496.90,142.50 L497.90,130.00 L498.30,125.00 L499.50,123.75 L500.00,130.00 L500.60,142.50 L501.25,161.25 L502.50,173.75 L503.75,178.10 L505.00,178.75 L506.25,171.25 L507.50,155.00 L509.00,149.40 L510.25,150.00 L511.25,153.75 L512.50,154.40 L514.00,150.00 L515.25,142.50 L516.25,130.00 L516.90,110.00 L517.50,98.00 L518.50,105.00 L519.50,122.00 L520.00,130.00 L520.60,142.50 L521.25,152.50 L522.50,153.10 L523.75,161.25 L525.00,167.50 L526.25,173.75 L527.50,180.00 L528.75,172.50 L530.00,167.50 L531.25,166.90 L532.50,163.75 L534.00,160.60 L535.00,151.90 L535.90,151.90 L536.90,157.50 L537.75,166.25 L538.75,161.25 L539.75,160.60 L540.60,170.00 L541.50,185.00 L542.50,207.50 L544.25,232.50 L545.50,207.50 L546.25,180.00 L547.25,168.75 L548.10,168.10 L549.40,173.75 L550.60,178.75 L551.50,180.00 L552.50,185.00 L554.50,203.75 L556.25,187.50 L558.00,200.00 L558.75,180.00 L560.00,171.25 L561.25,155.00 L562.25,142.50 L563.10,139.40 L564.00,143.75 L565.00,155.00 L565.60,156.25 L566.90,150.60 L568.10,148.50 L569.40,151.25 L570.60,156.90 L571.25,152.50 L572.10,141.25 L572.90,140.00 L573.75,148.75 L574.75,165.00 L575.60,173.75 L576.50,165.00 L577.25,156.25 L578.10,155.00 L579.40,160.00 L580.60,163.10 L581.90,155.00 L582.75,147.50 L583.75,146.90 L584.75,161.25 L585.60,172.50 L586.25,161.25 L586.90,145.60 L587.50,145.00 L588.10,161.25 L589.00,176.25 L590.00,178.75 L591.00,167.50 L591.90,142.50 L592.50,132.50 L593.50,132.50 L594.10,148.75 L594.75,160.00 L595.60,155.00 L596.90,146.25 L597.75,137.50 L599.00,135.60 L600.00,141.25 L601.00,151.25 L601.90,167.50 L602.50,180.00 L603.00,220.00 L604.25,281.25 L605.75,256.25 L607.50,256.25 L608.75,283.75 L609.20,220.00 L609.60,180.00 L610.00,167.50 L611.25,162.50 L612.50,158.10 L614.00,157.50 L615.00,155.00 L616.25,146.25 L617.50,136.25 L618.50,130.00 L619.30,118.00 L620.00,112.00 L620.80,118.00 L621.50,130.00 L622.25,148.75 L622.90,167.50 L623.30,180.00 L623.75,248.75 L624.60,207.50 L625.60,180.00 L626.25,179.00 L627.75,195.00 L628.90,205.50 L629.90,205.50 L630.60,188.75 L631.30,170.00 L631.60,160.00 L631.90,148.75 L632.75,143.10 L633.40,148.75 L634.00,165.00 L635.00,173.10 L636.25,170.00 L637.50,162.50 L638.75,153.75 L639.75,148.75 L640.60,155.00 L641.50,156.25 L642.50,151.25 L643.75,145.00 L645.00,145.60 L646.50,142.50 L648.10,145.60 L649.40,146.25 L650.60,146.90 L651.25,155.00 L652.25,162.50 L653.10,168.75 L654.00,170.60 L655.00,167.50 L656.25,161.25 L657.50,160.00 L658.50,152.50 L659.40,145.00 L660.60,139.40 L661.90,138.10 L663.10,139.40 L664.40,141.90 L665.60,146.25 L666.50,157.50 L667.50,167.50 L668.50,175.00 L669.40,178.10 L670.50,182.50 L673.75,186.25 L677.50,189.50 L679.50,185.00 L680.50,177.50 L682.00,187.50 L683.75,181.25 L685.50,186.25 L687.00,183.75 L688.75,195.00 L690.00,197.50 L690.60,185.00 L691.00,173.75 L691.90,167.50 L693.10,164.40 L694.40,165.60 L695.25,170.00 L696.00,161.25 L696.50,150.00 L697.75,139.40 L699.00,138.10 L700.25,136.90 L701.50,132.50 L702.75,131.50 L703.75,137.50 L704.75,147.50 L705.60,150.60 L706.90,150.00 L708.10,151.90 L709.00,153.75 L709.75,161.25 L710.60,173.75 L711.50,180.00 L712.50,172.50 L713.50,180.00 L714.75,192.50 L715.60,196.90 L716.50,196.25 L717.75,190.00 L718.75,181.90 L720.00,178.10 L721.50,178.75 L722.75,176.25 L724.40,171.25 L725.60,167.50 L727.25,165.00 L728.50,161.90 L730.00,160.00 L732.50,159.75 L734.40,160.60 L735.60,163.75 L736.90,167.50 L738.10,162.50 L739.00,158.50 L740.00,161.25 L741.00,166.90 L741.90,161.00 L743.10,155.00 L744.40,151.25 L745.60,147.50 L746.90,143.75 L747.90,142.75 L749.00,145.00 L750.00,147.50 L751.50,150.00 L752.75,153.10 L754.00,155.00 L755.00,157.50 L756.00,151.90 L756.60,152.00 L757.10,160.00 L757.50,167.50 L758.50,175.00 L759.40,177.50 L760.25,172.50 L761.25,165.00 L762.50,163.10 L763.75,162.50 L764.60,158.00 L765.25,163.75 L766.25,170.60 L767.50,167.50 L768.75,162.50 L770.00,161.90 L771.25,160.50 L772.25,155.00 L773.50,151.90 L774.40,150.00 L775.40,141.25 L776.25,132.50 L777.25,122.50 L777.90,115.60 L778.75,114.40 L779.40,118.75 L780.00,126.25" fill="none" stroke="#d93c30" stroke-width="2.2" stroke-linejoin="round" stroke-linecap="round"/>
<path d="M423,352.5 L780,352.5 L780,386 Q780,389 777,389 L426,389 Q423,389 423,386Z" fill="url(#cbar)"/>
<rect x="423" y="31" width="1.2" height="321.5" fill="#000"/>
<rect x="413.5" y="351.7" width="376" height="1.2" fill="#000"/>
<text x="409.2" y="356.80" text-anchor="end" font-family="Liberation Sans, sans-serif" font-size="10.4" fill="#000">70</text>
<rect x="413.5" y="331.83" width="10" height="1.2" fill="#000"/>
<text x="409.2" y="336.73" text-anchor="end" font-family="Liberation Sans, sans-serif" font-size="10.4" fill="#000">80</text>
<rect x="413.5" y="311.76" width="10" height="1.2" fill="#000"/>
<text x="409.2" y="316.66" text-anchor="end" font-family="Liberation Sans, sans-serif" font-size="10.4" fill="#000">90</text>
<rect x="413.5" y="291.69" width="10" height="1.2" fill="#000"/>
<text x="409.2" y="296.59" text-anchor="end" font-family="Liberation Sans, sans-serif" font-size="10.4" fill="#000">100</text>
<rect x="413.5" y="271.62" width="10" height="1.2" fill="#000"/>
<text x="409.2" y="276.52" text-anchor="end" font-family="Liberation Sans, sans-serif" font-size="10.4" fill="#000">110</text>
<rect x="413.5" y="251.55" width="10" height="1.2" fill="#000"/>
<text x="409.2" y="256.45" text-anchor="end" font-family="Liberation Sans, sans-serif" font-size="10.4" fill="#000">120</text>
<rect x="413.5" y="231.48" width="10" height="1.2" fill="#000"/>
<text x="409.2" y="236.38" text-anchor="end" font-family="Liberation Sans, sans-serif" font-size="10.4" fill="#000">130</text>
<rect x="413.5" y="211.41" width="10" height="1.2" fill="#000"/>
<text x="409.2" y="216.31" text-anchor="end" font-family="Liberation Sans, sans-serif" font-size="10.4" fill="#000">140</text>
<rect x="413.5" y="191.34" width="10" height="1.2" fill="#000"/>
<text x="409.2" y="196.24" text-anchor="end" font-family="Liberation Sans, sans-serif" font-size="10.4" fill="#000">150</text>
<rect x="413.5" y="171.27" width="10" height="1.2" fill="#000"/>
<text x="409.2" y="176.17" text-anchor="end" font-family="Liberation Sans, sans-serif" font-size="10.4" fill="#000">160</text>
<rect x="413.5" y="151.20" width="10" height="1.2" fill="#000"/>
<text x="409.2" y="156.10" text-anchor="end" font-family="Liberation Sans, sans-serif" font-size="10.4" fill="#000">170</text>
<rect x="413.5" y="131.13" width="10" height="1.2" fill="#000"/>
<text x="409.2" y="136.03" text-anchor="end" font-family="Liberation Sans, sans-serif" font-size="10.4" fill="#000">180</text>
<rect x="413.5" y="111.06" width="10" height="1.2" fill="#000"/>
<text x="409.2" y="115.96" text-anchor="end" font-family="Liberation Sans, sans-serif" font-size="10.4" fill="#000">190</text>
<rect x="413.5" y="90.99" width="10" height="1.2" fill="#000"/>
<text x="409.2" y="95.89" text-anchor="end" font-family="Liberation Sans, sans-serif" font-size="10.4" fill="#000">200</text>
<rect x="413.5" y="70.92" width="10" height="1.2" fill="#000"/>
<text x="409.2" y="75.82" text-anchor="end" font-family="Liberation Sans, sans-serif" font-size="10.4" fill="#000">210</text>
<rect x="413.5" y="50.85" width="10" height="1.2" fill="#000"/>
<text x="409.2" y="55.75" text-anchor="end" font-family="Liberation Sans, sans-serif" font-size="10.4" fill="#000">220</text>
<rect x="423.10" y="352" width="1" height="5" fill="#000"/>
<text x="424.10" y="370" text-anchor="middle" font-family="Liberation Sans, sans-serif" font-size="10" fill="#000">0,0</text>
<rect x="461.80" y="352" width="1" height="5" fill="#000"/>
<text x="462.80" y="370" text-anchor="middle" font-family="Liberation Sans, sans-serif" font-size="10" fill="#000">2,0</text>
<rect x="500.50" y="352" width="1" height="5" fill="#000"/>
<text x="501.50" y="370" text-anchor="middle" font-family="Liberation Sans, sans-serif" font-size="10" fill="#000">4,0</text>
<rect x="539.20" y="352" width="1" height="5" fill="#000"/>
<text x="540.20" y="370" text-anchor="middle" font-family="Liberation Sans, sans-serif" font-size="10" fill="#000">6,0</text>
<rect x="577.90" y="352" width="1" height="5" fill="#000"/>
<text x="578.90" y="370" text-anchor="middle" font-family="Liberation Sans, sans-serif" font-size="10" fill="#000">8,0</text>
<rect x="616.60" y="352" width="1" height="5" fill="#000"/>
<text x="617.60" y="370" text-anchor="middle" font-family="Liberation Sans, sans-serif" font-size="10" fill="#000">10,0</text>
<rect x="655.30" y="352" width="1" height="5" fill="#000"/>
<text x="656.30" y="370" text-anchor="middle" font-family="Liberation Sans, sans-serif" font-size="10" fill="#000">12,0</text>
<rect x="694.00" y="352" width="1" height="5" fill="#000"/>
<text x="695.00" y="370" text-anchor="middle" font-family="Liberation Sans, sans-serif" font-size="10" fill="#000">14,0</text>
<rect x="732.70" y="352" width="1" height="5" fill="#000"/>
<text x="733.70" y="370" text-anchor="middle" font-family="Liberation Sans, sans-serif" font-size="10" fill="#000">16,0</text>
<rect x="771.40" y="352" width="1" height="5" fill="#000"/>
<text x="772.40" y="370" text-anchor="middle" font-family="Liberation Sans, sans-serif" font-size="10" fill="#000">18,0</text>
<text x="521" y="385" text-anchor="middle" font-family="Liberation Sans, sans-serif" font-size="10" fill="#111">Circuit 1</text>
<text x="680" y="385" text-anchor="middle" font-family="Liberation Sans, sans-serif" font-size="10" fill="#111">Circuit 1</text>
</svg>
</body></html>
